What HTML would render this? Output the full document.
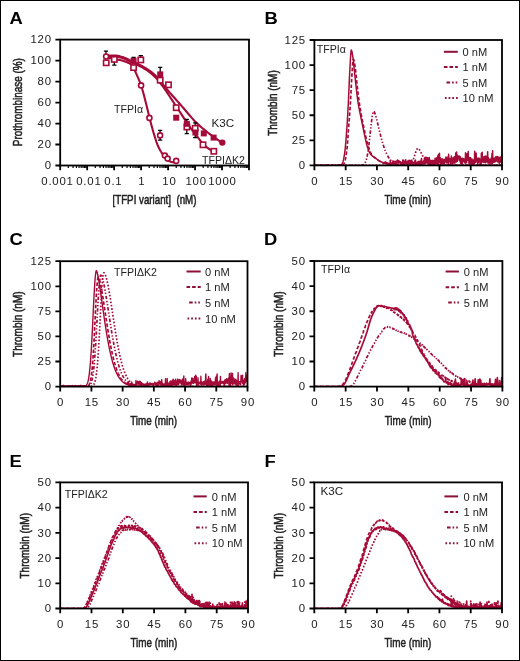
<!DOCTYPE html>
<html><head><meta charset="utf-8"><style>
html,body{margin:0;padding:0;background:#fff;}
body{width:520px;height:661px;overflow:hidden;font-family:"Liberation Sans", sans-serif;}
svg{display:block;filter:blur(0.3px);}
#bd{position:absolute;left:0;top:0;width:518px;height:659px;border:1px solid #000;}
#wr{position:relative;width:520px;height:661px;}
</style></head><body><div id="wr">
<svg width="520" height="661" viewBox="0 0 520 661" font-family='"Liberation Sans", sans-serif'>
<rect x="0" y="0" width="520" height="661" fill="#fff"/>
<text transform="translate(9.6 24.3) scale(1.07 1)" font-size="17.2" font-weight="bold" fill="#000">A</text>
<rect x="60.2" y="39.6" width="188.8" height="125.9" fill="none" stroke="#000" stroke-width="1.8"/>
<path d="M68.32 165.5V168.1M73.07 165.5V168.1M76.44 165.5V168.1M79.05 165.5V168.1M81.19 165.5V168.1M82.99 165.5V168.1M84.56 165.5V168.1M85.94 165.5V168.1M95.29 165.5V168.1M100.04 165.5V168.1M103.41 165.5V168.1M106.02 165.5V168.1M108.16 165.5V168.1M109.96 165.5V168.1M111.53 165.5V168.1M112.91 165.5V168.1M122.26 165.5V168.1M127.01 165.5V168.1M130.38 165.5V168.1M133 165.5V168.1M135.13 165.5V168.1M136.94 165.5V168.1M138.5 165.5V168.1M139.88 165.5V168.1M149.23 165.5V168.1M153.98 165.5V168.1M157.35 165.5V168.1M159.97 165.5V168.1M162.1 165.5V168.1M163.91 165.5V168.1M165.47 165.5V168.1M166.85 165.5V168.1M176.2 165.5V168.1M180.95 165.5V168.1M184.32 165.5V168.1M186.94 165.5V168.1M189.07 165.5V168.1M190.88 165.5V168.1M192.44 165.5V168.1M193.82 165.5V168.1M203.18 165.5V168.1M207.93 165.5V168.1M211.3 165.5V168.1M213.91 165.5V168.1M216.04 165.5V168.1M217.85 165.5V168.1M219.41 165.5V168.1M220.79 165.5V168.1M230.15 165.5V168.1M234.9 165.5V168.1M238.27 165.5V168.1M240.88 165.5V168.1M243.02 165.5V168.1M244.82 165.5V168.1M246.39 165.5V168.1M247.77 165.5V168.1" stroke="#000" stroke-width="1.2" fill="none"/>
<path d="M55.4 165.5H60.2M55.4 144.52H60.2M55.4 123.53H60.2M55.4 102.55H60.2M55.4 81.57H60.2M55.4 60.58H60.2M55.4 39.6H60.2" stroke="#000" stroke-width="1.8" fill="none"/>
<text transform="translate(51.78 169.2) scale(1.12 1)" text-anchor="end" font-size="10.2" letter-spacing="0.7" fill="#222">0</text>
<text transform="translate(51.78 148.22) scale(1.12 1)" text-anchor="end" font-size="10.2" letter-spacing="0.7" fill="#222">20</text>
<text transform="translate(51.78 127.23) scale(1.12 1)" text-anchor="end" font-size="10.2" letter-spacing="0.7" fill="#222">40</text>
<text transform="translate(51.78 106.25) scale(1.12 1)" text-anchor="end" font-size="10.2" letter-spacing="0.7" fill="#222">60</text>
<text transform="translate(51.78 85.27) scale(1.12 1)" text-anchor="end" font-size="10.2" letter-spacing="0.7" fill="#222">80</text>
<text transform="translate(51.78 64.28) scale(1.12 1)" text-anchor="end" font-size="10.2" letter-spacing="0.7" fill="#222">100</text>
<text transform="translate(51.78 43.3) scale(1.12 1)" text-anchor="end" font-size="10.2" letter-spacing="0.7" fill="#222">120</text>
<path d="M60.2 165.5V170.3M87.17 165.5V170.3M114.14 165.5V170.3M141.11 165.5V170.3M168.09 165.5V170.3M195.06 165.5V170.3M222.03 165.5V170.3M249 165.5V170.3" stroke="#000" stroke-width="1.8" fill="none"/>
<text transform="translate(57.49 185.1) scale(1.12 1)" text-anchor="middle" font-size="10.2" letter-spacing="0.7" fill="#222">0.001</text>
<text transform="translate(88.89 185.1) scale(1.12 1)" text-anchor="middle" font-size="10.2" letter-spacing="0.7" fill="#222">0.01</text>
<text transform="translate(113.39 185.1) scale(1.12 1)" text-anchor="middle" font-size="10.2" letter-spacing="0.7" fill="#222">0.1</text>
<text transform="translate(141.69 185.1) scale(1.12 1)" text-anchor="middle" font-size="10.2" letter-spacing="0.7" fill="#222">1</text>
<text transform="translate(169.49 185.1) scale(1.12 1)" text-anchor="middle" font-size="10.2" letter-spacing="0.7" fill="#222">10</text>
<text transform="translate(196.19 185.1) scale(1.12 1)" text-anchor="middle" font-size="10.2" letter-spacing="0.7" fill="#222">100</text>
<text transform="translate(222.39 185.1) scale(1.12 1)" text-anchor="middle" font-size="10.2" letter-spacing="0.7" fill="#222">1000</text>
<text transform="translate(250.39 185.1) scale(1.12 1)" text-anchor="middle" font-size="10.2" letter-spacing="0.7" fill="#222"></text>
<text transform="translate(22.2 102.2) rotate(-90)" text-anchor="middle" font-size="13" fill="#222" stroke="#222" stroke-width="0.55" textLength="88" lengthAdjust="spacingAndGlyphs">Prothrombinase (%)</text>
<text x="154.5" y="204.4" text-anchor="middle" font-size="13" fill="#222" stroke="#222" stroke-width="0.55" textLength="84" lengthAdjust="spacingAndGlyphs">[TFPI variant]&#160;&#160;(nM)</text>
<polyline points="105.8,55.8 107.26,55.72 108.73,55.66 110.19,55.63 111.66,55.61 113.12,55.6 114.59,55.6 116.05,55.64 117.52,55.82 118.98,56.11 120.45,56.48 121.91,56.89 123.37,57.31 124.84,57.87 126.3,58.55 127.77,59.3 129.23,60.04 130.7,60.71 132.16,61.35 133.63,61.97 135.09,62.6 136.56,63.24 138.02,63.92 139.48,64.64 140.95,65.41 142.41,66.21 143.88,67.04 145.34,67.92 146.81,68.84 148.27,69.81 149.74,70.84 151.2,71.92 152.67,73.08 154.13,74.31 155.59,75.63 157.06,77.07 158.52,78.71 159.99,80.52 161.45,82.43 162.92,84.36 164.38,86.25 165.85,88.03 167.31,89.75 168.78,91.44 170.24,93.12 171.71,94.78 173.17,96.43 174.63,98.07 176.1,99.71 177.56,101.35 179.03,103 180.49,104.65 181.96,106.33 183.42,108.04 184.89,109.78 186.35,111.52 187.82,113.26 189.28,114.99 190.74,116.68 192.21,118.33 193.67,119.93 195.14,121.45 196.6,122.89 198.07,124.27 199.53,125.61 201,126.92 202.46,128.19 203.93,129.42 205.39,130.63 206.85,131.81 208.32,132.96 209.78,134.1 211.25,135.21 212.71,136.3 214.18,137.37 215.64,138.41 217.11,139.42 218.57,140.41 220.04,141.37 221.5,142.3" fill="none" stroke="#a50b38" stroke-width="2.1" stroke-linejoin="round" stroke-linecap="round"/>
<polyline points="105.8,56.4 107.17,56.4 108.53,56.41 109.9,56.42 111.27,56.44 112.64,56.46 114,56.48 115.37,56.51 116.74,56.64 118.1,56.87 119.47,57.19 120.84,57.56 122.21,57.96 123.57,58.39 124.94,58.96 126.31,59.65 127.67,60.39 129.04,61.12 130.41,61.79 131.77,62.41 133.14,63.01 134.51,63.61 135.88,64.21 137.24,64.84 138.61,65.5 139.98,66.21 141.34,66.93 142.71,67.69 144.08,68.48 145.45,69.32 146.81,70.2 148.18,71.14 149.55,72.15 150.91,73.24 152.28,74.41 153.65,75.66 155.02,76.98 156.38,78.38 157.75,79.87 159.12,81.51 160.48,83.25 161.85,85.07 163.22,86.95 164.58,88.86 165.95,90.78 167.32,92.81 168.69,94.9 170.05,96.98 171.42,99.05 172.79,101.12 174.15,103.2 175.52,105.28 176.89,107.36 178.26,109.44 179.62,111.51 180.99,113.59 182.36,115.69 183.72,117.82 185.09,119.94 186.46,122.05 187.83,124.1 189.19,126.08 190.56,127.95 191.93,129.71 193.29,131.41 194.66,133.08 196.03,134.78 197.39,136.59 198.76,138.51 200.13,140.41 201.5,142.17 202.86,143.67 204.23,144.94 205.6,146.16 206.96,147.32 208.33,148.39 209.7,149.36 211.07,150.21 212.43,150.93 213.8,151.5" fill="none" stroke="#a50b38" stroke-width="2.1" stroke-linejoin="round" stroke-linecap="round"/>
<polyline points="105.8,57.6 106.69,57.69 107.58,57.79 108.47,57.89 109.35,58.01 110.24,58.14 111.13,58.27 112.02,58.4 112.91,58.55 113.8,58.71 114.69,58.88 115.57,59.07 116.46,59.26 117.35,59.45 118.24,59.65 119.13,59.86 120.02,60.08 120.91,60.31 121.79,60.55 122.68,60.81 123.57,61.07 124.46,61.35 125.35,61.64 126.24,61.96 127.13,62.31 128.02,62.71 128.9,63.13 129.79,63.61 130.68,64.16 131.57,64.83 132.46,65.66 133.35,66.98 134.24,68.83 135.12,70.98 136.01,73.14 136.9,75.14 137.79,77.12 138.68,79.15 139.57,81.29 140.46,83.59 141.34,86.13 142.23,89 143.12,92.16 144.01,95.52 144.9,98.99 145.79,102.46 146.68,105.99 147.56,109.67 148.45,113.38 149.34,116.97 150.23,120.45 151.12,123.92 152.01,127.3 152.9,130.54 153.78,133.55 154.67,136.43 155.56,139.24 156.45,141.91 157.34,144.36 158.23,146.51 159.12,148.33 160.01,149.99 160.89,151.54 161.78,152.96 162.67,154.26 163.56,155.44 164.45,156.5 165.34,157.47 166.23,158.4 167.11,159.29 168,160.1 168.89,160.79 169.78,161.31 170.67,161.65 171.56,161.9 172.45,162.13 173.33,162.32 174.22,162.47 175.11,162.57 176,162.6" fill="none" stroke="#a50b38" stroke-width="2.1" stroke-linejoin="round" stroke-linecap="round"/>
<path d="M106 51.2V57M103.9 51.2H108.1M103.9 57H108.1" stroke="#000" stroke-width="1.3" fill="none"/>
<path d="M114.3 59V65.2M112.2 59H116.4M112.2 65.2H116.4" stroke="#000" stroke-width="1.3" fill="none"/>
<path d="M133.6 57.3V62M131.5 57.3H135.7M131.5 62H135.7" stroke="#000" stroke-width="1.3" fill="none"/>
<path d="M140.8 55.6V60M138.7 55.6H142.9M138.7 60H142.9" stroke="#000" stroke-width="1.3" fill="none"/>
<path d="M160.2 67.3V75M158.1 67.3H162.3M158.1 75H162.3" stroke="#000" stroke-width="1.3" fill="none"/>
<path d="M160.1 130.3V140.2M158 130.3H162.2M158 140.2H162.2" stroke="#000" stroke-width="1.3" fill="none"/>
<path d="M186.8 119.4V133.6M184.7 119.4H188.9M184.7 133.6H188.9" stroke="#000" stroke-width="1.3" fill="none"/>
<path d="M195.2 122.9V137.7M193.1 122.9H197.3M193.1 137.7H197.3" stroke="#000" stroke-width="1.3" fill="none"/>
<path d="M141.3 83.6V87.2M139.2 83.6H143.4M139.2 87.2H143.4" stroke="#000" stroke-width="1.3" fill="none"/>
<rect x="103.55" y="60.15" width="5.3" height="5.3" fill="#fff" stroke="#a50b38" stroke-width="1.6"/>
<rect x="111.65" y="56.75" width="5.3" height="5.3" fill="#fff" stroke="#a50b38" stroke-width="1.6"/>
<rect x="130.95" y="64.95" width="5.3" height="5.3" fill="#fff" stroke="#a50b38" stroke-width="1.6"/>
<rect x="138.15" y="57.25" width="5.3" height="5.3" fill="#fff" stroke="#a50b38" stroke-width="1.6"/>
<rect x="157.55" y="77.55" width="5.3" height="5.3" fill="#fff" stroke="#a50b38" stroke-width="1.6"/>
<rect x="165.85" y="82.15" width="5.3" height="5.3" fill="#fff" stroke="#a50b38" stroke-width="1.6"/>
<rect x="173.55" y="105.05" width="5.3" height="5.3" fill="#fff" stroke="#a50b38" stroke-width="1.6"/>
<rect x="184.25" y="124.35" width="5.3" height="5.3" fill="#fff" stroke="#a50b38" stroke-width="1.6"/>
<rect x="192.55" y="125.65" width="5.3" height="5.3" fill="#fff" stroke="#a50b38" stroke-width="1.6"/>
<rect x="200.35" y="142.15" width="5.3" height="5.3" fill="#fff" stroke="#a50b38" stroke-width="1.6"/>
<rect x="211.15" y="148.65" width="5.3" height="5.3" fill="#fff" stroke="#a50b38" stroke-width="1.6"/>
<rect x="130.6" y="57.8" width="6" height="6" fill="#a50b38"/>
<rect x="157.2" y="71.4" width="6" height="6" fill="#a50b38"/>
<rect x="173.2" y="114.7" width="6" height="6" fill="#a50b38"/>
<rect x="183.8" y="120.8" width="6" height="6" fill="#a50b38"/>
<rect x="192.4" y="129.5" width="6" height="6" fill="#a50b38"/>
<rect x="200.8" y="130.4" width="6" height="6" fill="#a50b38"/>
<rect x="210.6" y="134.6" width="6" height="6" fill="#a50b38"/>
<circle cx="222.3" cy="142.6" r="3.2" fill="#a50b38"/>
<circle cx="106.1" cy="56.5" r="2.5" fill="#fff" stroke="#a50b38" stroke-width="1.6"/>
<circle cx="141.1" cy="85.4" r="2.5" fill="#fff" stroke="#a50b38" stroke-width="1.6"/>
<circle cx="149.4" cy="117.9" r="2.5" fill="#fff" stroke="#a50b38" stroke-width="1.6"/>
<circle cx="160.1" cy="135.4" r="2.5" fill="#fff" stroke="#a50b38" stroke-width="1.6"/>
<circle cx="164.9" cy="155.6" r="2.5" fill="#fff" stroke="#a50b38" stroke-width="1.6"/>
<circle cx="167.6" cy="158.6" r="2.5" fill="#fff" stroke="#a50b38" stroke-width="1.6"/>
<circle cx="176.2" cy="160.9" r="2.5" fill="#fff" stroke="#a50b38" stroke-width="1.6"/>
<text x="114" y="112.7" font-size="10.6" fill="#222">TFPI&#945;</text>
<text transform="translate(211.6 126.6) scale(1.1 1)" font-size="10.6" fill="#222">K3C</text>
<text x="202" y="164" font-size="10.6" fill="#222">TFPI&#916;K2</text>
<defs>
<clipPath id="cB"><rect x="314.4" y="40" width="187.6" height="125.4"/></clipPath>
<clipPath id="cC"><rect x="60.2" y="261.2" width="187.3" height="125.4"/></clipPath>
<clipPath id="cD"><rect x="314.3" y="261" width="188.1" height="125.6"/></clipPath>
<clipPath id="cE"><rect x="60.2" y="482.4" width="187.8" height="126.1"/></clipPath>
<clipPath id="cF"><rect x="314.3" y="482.4" width="187.7" height="126.1"/></clipPath>
</defs>
<g clip-path="url(#cB)">
<polyline points="314.4,165.4 314.61,165.4 314.82,165.4 315.03,165.4 315.23,165.4 315.44,165.4 315.65,165.4 315.86,165.4 316.07,165.4 316.28,165.4 316.48,165.4 316.69,165.4 316.9,165.4 317.11,165.4 317.32,165.4 317.53,165.4 317.74,165.4 317.94,165.4 318.15,165.4 318.36,165.4 318.57,165.4 318.78,165.4 318.99,165.4 319.19,165.4 319.4,165.4 319.61,165.4 319.82,165.4 320.03,165.4 320.24,165.4 320.44,165.4 320.65,165.4 320.86,165.4 321.07,165.4 321.28,165.4 321.49,165.4 321.7,165.4 321.9,165.4 322.11,165.4 322.32,165.4 322.53,165.4 322.74,165.4 322.95,165.4 323.15,165.4 323.36,165.4 323.57,165.4 323.78,165.4 323.99,165.4 324.2,165.4 324.41,165.4 324.61,165.4 324.82,165.4 325.03,165.4 325.24,165.4 325.45,165.4 325.66,165.4 325.86,165.4 326.07,165.4 326.28,165.4 326.49,165.4 326.7,165.4 326.91,165.4 327.12,165.4 327.32,165.4 327.53,165.4 327.74,165.4 327.95,165.4 328.16,165.4 328.37,165.4 328.57,165.4 328.78,165.4 328.99,165.4 329.2,165.4 329.41,165.4 329.62,165.4 329.82,165.4 330.03,165.4 330.24,165.4 330.45,165.4 330.66,165.4 330.87,165.4 331.08,165.4 331.28,165.4 331.49,165.4 331.7,165.4 331.91,165.4 332.12,165.4 332.33,165.4 332.53,165.4 332.74,165.4 332.95,165.4 333.16,165.4 333.37,165.4 333.58,165.4 333.79,165.4 333.99,165.4 334.2,165.4 334.41,165.4 334.62,165.4 334.83,165.4 335.04,165.4 335.24,165.4 335.45,165.4 335.66,165.4 335.87,165.4 336.08,165.4 336.29,165.4 336.5,165.4 336.7,165.4 336.91,165.4 337.12,165.4 337.33,165.4 337.54,165.4 337.75,165.4 337.95,165.4 338.16,165.4 338.37,165.4 338.58,165.39 338.79,165.38 339,165.35 339.2,165.32 339.41,165.28 339.62,165.22 339.83,165.16 340.04,165.09 340.25,165.02 340.46,164.93 340.66,164.84 340.87,164.74 341.08,164.63 341.29,164.52 341.5,164.4 341.71,164.23 341.91,163.98 342.12,163.67 342.33,163.29 342.54,162.86 342.75,162.39 342.96,161.83 343.17,161.14 343.37,160.33 343.58,159.4 343.79,158.36 344,157.23 344.21,156.01 344.42,154.72 344.62,153.36 344.83,151.84 345.04,150.08 345.25,148.1 345.46,145.93 345.67,143.6 345.88,141.12 346.08,138.52 346.29,135.84 346.5,133.08 346.71,130.29 346.92,127.37 347.13,124.24 347.33,120.92 347.54,117.43 347.75,113.79 347.96,110.02 348.17,106.15 348.38,102.2 348.58,97.92 348.79,93.2 349,88.25 349.21,83.26 349.42,78.43 349.63,73.98 349.84,70.1 350.04,66.39 350.25,62.52 350.46,58.74 350.67,55.34 350.88,52.57 351.09,50.71 351.29,50.03 351.5,50.25 351.71,50.84 351.92,51.71 352.13,52.77 352.34,53.91 352.55,55.05 352.75,56.27 352.96,57.72 353.17,59.35 353.38,61.13 353.59,63.04 353.8,65.04 354,67.09 354.21,69.18 354.42,71.25 354.63,73.29 354.84,75.25 355.05,77.12 355.26,78.94 355.46,80.8 355.67,82.68 355.88,84.58 356.09,86.48 356.3,88.37 356.51,90.23 356.71,92.07 356.92,93.87 357.13,95.6 357.34,97.28 357.55,98.88 357.76,100.39 357.96,101.8 358.17,103.12 358.38,104.39 358.59,105.6 358.8,106.77 359.01,107.9 359.22,108.99 359.42,110.06 359.63,111.1 359.84,112.13 360.05,113.15 360.26,114.16 360.47,115.18 360.67,116.21 360.88,117.25 361.09,118.29 361.3,119.33 361.51,120.37 361.72,121.39 361.93,122.41 362.13,123.43 362.34,124.43 362.55,125.43 362.76,126.42 362.97,127.4 363.18,128.37 363.38,129.33 363.59,130.29 363.8,131.25 364.01,132.22 364.22,133.21 364.43,134.2 364.64,135.2 364.84,136.2 365.05,137.19 365.26,138.18 365.47,139.15 365.68,140.11 365.89,141.04 366.09,141.95 366.3,142.84 366.51,143.69 366.72,144.51 366.93,145.29 367.14,146.02 367.34,146.71 367.55,147.34 367.76,147.95 367.97,148.54 368.18,149.12 368.39,149.68 368.6,150.23 368.8,150.76 369.01,151.27 369.22,151.76 369.43,152.22 369.64,152.66 369.85,153.07 370.05,153.44 370.26,153.79 370.47,154.09 370.68,154.36 370.89,154.61 371.1,154.84 371.31,155.07 371.51,155.28 371.72,155.48 371.93,155.67 372.14,155.85 372.35,156.03 372.56,156.2 372.76,156.36 372.97,156.51 373.18,156.66 373.39,156.81 373.6,156.95 373.81,157.08 374.02,157.22 374.22,157.35 374.43,157.49 374.64,157.62 374.85,157.75 375.06,157.88 375.27,158.01 375.47,158.15 375.68,158.29 375.89,158.43 376.1,158.58 376.31,158.73 376.52,158.88 376.72,159.03 376.93,159.19 377.14,159.34 377.35,159.5 377.56,159.65 377.77,159.8 377.98,159.96 378.18,160.11 378.39,160.26 378.6,160.41 378.81,160.55 379.02,160.69 379.23,160.83 379.43,160.97 379.64,161.1 379.85,161.23 380.06,161.35 380.27,161.47 380.48,161.59 380.69,161.69 380.89,161.79 381.1,161.89 381.31,161.98 381.52,162.07 381.73,162.15 381.94,162.24 382.14,162.32 382.35,162.41 382.56,162.49 382.77,162.56 382.98,162.64 383.19,162.72 383.4,162.79 383.6,162.86 383.81,162.93 384.02,163 384.23,162.64 384.44,162.89 384.65,162.93 384.85,162.45 385.06,162.31 385.27,162.06 385.48,161.9 385.69,163.25 385.9,162.78 386.1,162.43 386.31,162.89 386.52,163.71 386.73,162.6 386.94,163.42 387.15,163.85 387.36,163.76 387.56,162.96 387.77,163.19 387.98,163.83 388.19,164.07 388.4,164.11 388.61,163.31 388.81,164.19 389.02,163.63 389.23,163.78 389.44,164.31 389.65,164.35 389.86,164.07 390.07,163.68 390.27,160.31 390.48,163.25 390.69,164.34 390.9,164.52 391.11,163.79 391.32,163.58 391.52,163.31 391.73,164.67 391.94,163.16 392.15,162.53 392.36,162.43 392.57,162.27 392.78,162.21 392.98,160.84 393.19,164.82 393.4,161.9 393.61,163.66 393.82,163.44 394.03,161.67 394.23,161.47 394.44,161.44 394.65,163.15 394.86,163.03 395.07,161.29 395.28,161.45 395.48,164.02 395.69,163.4 395.9,162.81 396.11,163.49 396.32,161.96 396.53,163.39 396.74,161.8 396.94,160.49 397.15,160.69 397.36,159.92 397.57,161.72 397.78,161.5 397.99,161.29 398.19,162.45 398.4,163.17 398.61,162.77 398.82,160.52 399.03,161.05 399.24,161.67 399.45,162.75 399.65,161.85 399.86,162.52 400.07,162.58 400.28,163.2 400.49,162.87 400.7,161.67 400.9,162.26 401.11,162.28 401.32,164.44 401.53,163.25 401.74,163.7 401.95,164.71 402.16,163.67 402.36,164.76 402.57,164.1 402.78,159.94 402.99,162.83 403.2,162.77 403.41,164.68 403.61,164.26 403.82,160.14 404.03,164.55 404.24,164.51 404.45,161.94 404.66,162.05 404.86,164 405.07,163.79 405.28,161.77 405.49,162.72 405.7,159.63 405.91,162.97 406.12,163.62 406.32,162.56 406.53,162.12 406.74,162.7 406.95,161.79 407.16,164.29 407.37,162.33 407.57,161.23 407.78,164.05 407.99,162.59 408.2,160.53 408.41,161.43 408.62,161.09 408.83,162.52 409.03,162.52 409.24,160.33 409.45,165.02 409.66,161.17 409.87,164.04 410.08,161.26 410.28,162.34 410.49,160.5 410.7,164.77 410.91,163.27 411.12,163.19 411.33,161.56 411.54,161.79 411.74,160.01 411.95,162.03 412.16,162.31 412.37,163.61 412.58,164.54 412.79,163.16 412.99,163.92 413.2,165.23 413.41,162.72 413.62,162.85 413.83,163.69 414.04,163.62 414.24,163.62 414.45,163.35 414.66,160.95 414.87,163.73 415.08,164.42 415.29,164.34 415.5,159.9 415.7,164.31 415.91,165.07 416.12,163.85 416.33,162.96 416.54,164.02 416.75,162.58 416.95,162.83 417.16,162.87 417.37,162.27 417.58,164.68 417.79,164.14 418,161.96 418.21,161.49 418.41,164.57 418.62,162.03 418.83,161.44 419.04,164.18 419.25,164.3 419.46,163.39 419.66,162.98 419.87,161.3 420.08,162.72 420.29,164.12 420.5,163.32 420.71,165.18 420.92,164.85 421.12,159.75 421.33,162.16 421.54,158.57 421.75,162.61 421.96,164.1 422.17,161.4 422.37,162.43 422.58,163.63 422.79,161.87 423,163.3 423.21,162.83 423.42,163.86 423.62,160.74 423.83,162.88 424.04,160.12 424.25,162.24 424.46,163.62 424.67,160.98 424.88,157.5 425.08,160.3 425.29,163.76 425.5,160.57 425.71,157.15 425.92,162.64 426.13,161.87 426.33,161.12 426.54,162.93 426.75,157.63 426.96,157.48 427.17,160.11 427.38,161.8 427.59,161.48 427.79,163.23 428,157.92 428.21,160.6 428.42,159.74 428.63,163.53 428.84,159.56 429.04,164.25 429.25,157.62 429.46,160.38 429.67,163.05 429.88,161.71 430.09,161.54 430.3,160.24 430.5,163.47 430.71,164.95 430.92,161.61 431.13,162.35 431.34,162.7 431.55,160.6 431.75,160.96 431.96,164.15 432.17,161.57 432.38,160.63 432.59,160.28 432.8,165.37 433,160.71 433.21,164.6 433.42,161.23 433.63,161.59 433.84,160.41 434.05,161.53 434.26,164.38 434.46,161.47 434.67,163.22 434.88,161.03 435.09,158.22 435.3,162.97 435.51,161.52 435.71,163.75 435.92,161.43 436.13,161.13 436.34,160.89 436.55,157.7 436.76,162.04 436.97,163.58 437.17,162.73 437.38,161.92 437.59,164.31 437.8,155.69 438.01,164.15 438.22,164.19 438.42,154.54 438.63,159.25 438.84,162.26 439.05,161.57 439.26,158.76 439.47,153.23 439.68,161.99 439.88,157.56 440.09,158.59 440.3,165.31 440.51,158.04 440.72,160.18 440.93,162.77 441.13,159.05 441.34,163.86 441.55,161.2 441.76,160.29 441.97,162.33 442.18,158.85 442.38,159.76 442.59,163.07 442.8,163.16 443.01,164.1 443.22,160.51 443.43,162.91 443.64,160.72 443.84,159.37 444.05,159.07 444.26,163.51 444.47,161.83 444.68,161.28 444.89,161.46 445.09,161.22 445.3,160.95 445.51,159.36 445.72,161.87 445.93,156.88 446.14,161.27 446.35,163.05 446.55,159.82 446.76,161.13 446.97,158.34 447.18,158.75 447.39,157.13 447.6,162.16 447.8,158.83 448.01,160.05 448.22,164.92 448.43,159.72 448.64,154.34 448.85,158.99 449.06,159.21 449.26,158.41 449.47,159.52 449.68,158.53 449.89,162.01 450.1,161.65 450.31,164.09 450.51,158.89 450.72,163.1 450.93,160.5 451.14,160.75 451.35,156.02 451.56,161.5 451.76,163.27 451.97,161.58 452.18,164.27 452.39,161.9 452.6,159.82 452.81,164.04 453.02,157.7 453.22,159.94 453.43,161.46 453.64,157.95 453.85,162.82 454.06,161 454.27,156.86 454.47,161.55 454.68,157.72 454.89,163.31 455.1,158.8 455.31,157.75 455.52,161.48 455.73,153.05 455.93,158.13 456.14,157.68 456.35,161.96 456.56,151.99 456.77,154.88 456.98,160.08 457.18,154.89 457.39,161.4 457.6,158.85 457.81,158.39 458.02,157.79 458.23,156.91 458.44,156.39 458.64,157.08 458.85,156.36 459.06,155.86 459.27,160.17 459.48,156.28 459.69,158.52 459.89,156.39 460.1,161.86 460.31,156.79 460.52,157.82 460.73,163.41 460.94,158.43 461.14,163.95 461.35,160.14 461.56,158.93 461.77,158.55 461.98,162.53 462.19,164.08 462.4,159.41 462.6,158.16 462.81,158.44 463.02,161.18 463.23,159.92 463.44,159.3 463.65,158.71 463.85,160.78 464.06,159.03 464.27,162.02 464.48,162.77 464.69,162.21 464.9,159.81 465.11,159.02 465.31,160.96 465.52,152.71 465.73,163.2 465.94,160.55 466.15,160.91 466.36,160.87 466.56,162.61 466.77,159.59 466.98,153.83 467.19,159.35 467.4,158.68 467.61,160.3 467.82,157.9 468.02,154.76 468.23,151.55 468.44,160.38 468.65,158.39 468.86,162.17 469.07,163.5 469.27,157.41 469.48,160.87 469.69,164.13 469.9,159.42 470.11,157.86 470.32,158.78 470.52,157.83 470.73,158.19 470.94,160.79 471.15,162.36 471.36,164.01 471.57,162.18 471.78,160.14 471.98,158.97 472.19,165.25 472.4,159.58 472.61,159.91 472.82,160.33 473.03,163.54 473.23,164.28 473.44,159.94 473.65,160.32 473.86,161.71 474.07,161.82 474.28,164.52 474.49,158.5 474.69,151.14 474.9,158.43 475.11,159.06 475.32,160.87 475.53,158.8 475.74,162.61 475.94,159.53 476.15,153.04 476.36,161.06 476.57,158.33 476.78,160.76 476.99,158.08 477.2,159.67 477.4,161.68 477.61,161.96 477.82,165.15 478.03,159.94 478.24,158.56 478.45,162.31 478.65,160.56 478.86,157.99 479.07,161.15 479.28,158.27 479.49,158.83 479.7,160.6 479.9,159.85 480.11,163.99 480.32,160.55 480.53,159.31 480.74,162.44 480.95,164.2 481.16,164.55 481.36,153.34 481.57,162.31 481.78,158.86 481.99,160.65 482.2,152.17 482.41,161.5 482.61,161.54 482.82,159.73 483.03,158.51 483.24,162.41 483.45,160.26 483.66,158.79 483.87,156.87 484.07,161.36 484.28,160.26 484.49,158.89 484.7,162.53 484.91,158.41 485.12,156.03 485.32,160.97 485.53,159.26 485.74,162.79 485.95,159.13 486.16,156.37 486.37,159.12 486.58,161.86 486.78,161.02 486.99,156.69 487.2,157.56 487.41,160.12 487.62,151.63 487.83,158.13 488.03,163.29 488.24,157.62 488.45,160.41 488.66,161.39 488.87,158.81 489.08,162.07 489.28,163.05 489.49,162.16 489.7,159.61 489.91,163.54 490.12,160.79 490.33,162.26 490.54,160.18 490.74,163.1 490.95,158.89 491.16,158.13 491.37,161.53 491.58,161.26 491.79,159.71 491.99,153.4 492.2,163.98 492.41,159.19 492.62,150.67 492.83,158.49 493.04,160.53 493.25,158.26 493.45,159.78 493.66,162.44 493.87,161.52 494.08,159.31 494.29,159.48 494.5,157.9 494.7,158.31 494.91,161.92 495.12,160.28 495.33,157.64 495.54,159.68 495.75,161.62 495.96,156.4 496.16,159.54 496.37,160.66 496.58,158.91 496.79,160.63 497,160.87 497.21,157.56 497.41,156.55 497.62,159.39 497.83,161.93 498.04,158.83 498.25,159.54 498.46,159.32 498.66,161.21 498.87,157.07 499.08,161.71 499.29,164.05 499.5,157.84 499.71,157.67 499.92,161.54 500.12,162.26 500.33,159.01 500.54,157.1 500.75,161.62 500.96,159.55 501.17,161.64 501.37,158.53 501.58,160.28 501.79,155.03 502,159.32" fill="none" stroke="#a50b38" stroke-width="1.5" stroke-linejoin="round"/>
<polyline points="314.4,165.4 314.71,165.4 315.03,165.4 315.34,165.4 315.65,165.4 315.96,165.4 316.28,165.4 316.59,165.4 316.9,165.4 317.21,165.4 317.53,165.4 317.84,165.4 318.15,165.4 318.46,165.4 318.78,165.4 319.09,165.4 319.4,165.4 319.72,165.4 320.03,165.4 320.34,165.4 320.65,165.4 320.97,165.4 321.28,165.4 321.59,165.4 321.9,165.4 322.22,165.4 322.53,165.4 322.84,165.4 323.15,165.4 323.47,165.4 323.78,165.4 324.09,165.4 324.41,165.4 324.72,165.4 325.03,165.4 325.34,165.4 325.66,165.4 325.97,165.4 326.28,165.4 326.59,165.4 326.91,165.4 327.22,165.4 327.53,165.4 327.84,165.4 328.16,165.4 328.47,165.4 328.78,165.4 329.1,165.4 329.41,165.4 329.72,165.4 330.03,165.4 330.35,165.4 330.66,165.4 330.97,165.4 331.28,165.4 331.6,165.4 331.91,165.4 332.22,165.4 332.53,165.4 332.85,165.4 333.16,165.4 333.47,165.4 333.79,165.4 334.1,165.4 334.41,165.4 334.72,165.4 335.04,165.4 335.35,165.4 335.66,165.4 335.97,165.4 336.29,165.4 336.6,165.4 336.91,165.4 337.22,165.4 337.54,165.4 337.85,165.4 338.16,165.4 338.48,165.4 338.79,165.4 339.1,165.4 339.41,165.4 339.73,165.4 340.04,165.4 340.35,165.4 340.66,165.4 340.98,165.37 341.29,165.33 341.6,165.26 341.91,165.18 342.23,165.07 342.54,164.95 342.85,164.8 343.17,164.64 343.48,164.46 343.79,164.19 344.1,163.66 344.42,162.94 344.73,162.09 345.04,161.02 345.35,159.69 345.67,158.11 345.98,156.31 346.29,154.31 346.6,152.12 346.92,149.62 347.23,146.39 347.54,142.58 347.86,138.37 348.17,133.96 348.48,129.53 348.79,125.27 349.11,121.18 349.42,117.09 349.73,112.89 350.04,108.5 350.36,103.83 350.67,98.61 350.98,92.53 351.29,86.16 351.61,80.14 351.92,75.11 352.23,70.55 352.55,65.97 352.86,62.09 353.17,59.6 353.48,59.11 353.8,59.79 354.11,61.07 354.42,62.72 354.73,64.5 355.05,66.34 355.36,68.64 355.67,71.32 355.98,74.25 356.3,77.31 356.61,80.38 356.92,83.31 357.24,86.03 357.55,88.73 357.86,91.44 358.17,94.13 358.49,96.73 358.8,99.2 359.11,101.49 359.42,103.58 359.74,105.59 360.05,107.55 360.36,109.44 360.67,111.28 360.99,113.06 361.3,114.8 361.61,116.49 361.93,118.14 362.24,119.75 362.55,121.33 362.86,122.87 363.18,124.39 363.49,125.89 363.8,127.37 364.11,128.84 364.43,130.29 364.74,131.74 365.05,133.19 365.36,134.63 365.68,136.06 365.99,137.46 366.3,138.84 366.62,140.18 366.93,141.47 367.24,142.72 367.55,143.91 367.87,145.03 368.18,146.07 368.49,147.04 368.8,147.93 369.12,148.8 369.43,149.63 369.74,150.43 370.05,151.18 370.37,151.9 370.68,152.56 370.99,153.17 371.31,153.72 371.62,154.22 371.93,154.65 372.24,155.06 372.56,155.45 372.87,155.82 373.18,156.17 373.49,156.5 373.81,156.82 374.12,157.12 374.43,157.41 374.74,157.69 375.06,157.95 375.37,158.21 375.68,158.45 376,158.69 376.31,158.93 376.62,159.16 376.93,159.38 377.25,159.6 377.56,159.82 377.87,160.04 378.18,160.25 378.5,160.46 378.81,160.66 379.12,160.86 379.43,161.05 379.75,161.24 380.06,161.43 380.37,161.6 380.69,161.78 381,161.94 381.31,162.1 381.62,162.25 381.94,162.4 382.25,162.53 382.56,162.66 382.87,162.78 383.19,162.89 383.5,163 383.81,163.1 384.12,163.21 384.44,163.31 384.75,163.41 385.06,163.51 385.38,163.61 385.69,163.7 386,163.8 386.31,163.89 386.63,163.97 386.94,164.06 387.25,164.14 387.56,164.22 387.88,164.3 388.19,164.37 388.5,164.44 388.81,164.5 389.13,164.56 389.44,164.62 389.75,164.68 390.07,164.73 390.38,164.77 390.69,164.81 391,164.85 391.32,164.88 391.63,164.91 391.94,164.93 392.25,164.96 392.57,164.98 392.88,165.01 393.19,165.03 393.5,165.05 393.82,165.08 394.13,165.1 394.44,165.12 394.76,165.14 395.07,165.16 395.38,165.18 395.69,165.2 396.01,165.22 396.32,165.23 396.63,165.25 396.94,165.27 397.26,165.28 397.57,165.3 397.88,165.31 398.19,165.32 398.51,165.33 398.82,165.35 399.13,165.36 399.45,165.36 399.76,165.37 400.07,165.38 400.38,165.39 400.7,165.39 401.01,165.39 401.32,165.4 401.63,165.4 401.95,165.4 402.26,165.4 402.57,165.4 402.88,165.4 403.2,165.4 403.51,165.4 403.82,165.4 404.14,165.4 404.45,165.4 404.76,165.4 405.07,165.4 405.39,165.4 405.7,165.4 406.01,165.4 406.32,165.4 406.64,165.4 406.95,165.4 407.26,165.4 407.57,165.4 407.89,165.4 408.2,165.4 408.51,165.4 408.83,165.4 409.14,165.4 409.45,165.4 409.76,165.4 410.08,165.4 410.39,165.4 410.7,165.4 411.01,165.4 411.33,165.4 411.64,165.4 411.95,165.4 412.26,165.4 412.58,165.4 412.89,165.4 413.2,165.4 413.52,165.4 413.83,165.4 414.14,165.4 414.45,165.4 414.77,165.4 415.08,165.4 415.39,165.4 415.7,165.4 416.02,165.4 416.33,165.4 416.64,165.4 416.95,165.4 417.27,165.4 417.58,165.4 417.89,165.4 418.21,165.4 418.52,165.4 418.83,165.4 419.14,165.4 419.46,165.4 419.77,165.4 420.08,165.4 420.39,165.4 420.71,165.4 421.02,165.4 421.33,165.4 421.64,165.4 421.96,165.4 422.27,165.4 422.58,165.4 422.9,165.4 423.21,165.4 423.52,165.4 423.83,165.4 424.15,165.4 424.46,165.4 424.77,165.4 425.08,165.4 425.4,165.4 425.71,165.4 426.02,165.4 426.33,165.4 426.65,165.4 426.96,165.4 427.27,165.4 427.59,165.4 427.9,165.4 428.21,165.4 428.52,165.4 428.84,165.4 429.15,165.4 429.46,165.4 429.77,165.4 430.09,165.4 430.4,165.4 430.71,165.4 431.02,165.4 431.34,165.4 431.65,165.4 431.96,165.4 432.28,165.4 432.59,165.4 432.9,165.4 433.21,165.4 433.53,165.4 433.84,165.4 434.15,165.4 434.46,165.4 434.78,165.4 435.09,165.4 435.4,165.4 435.71,165.4 436.03,165.4 436.34,165.4 436.65,165.4 436.97,165.4 437.28,165.4 437.59,165.4 437.9,165.4 438.22,165.4 438.53,165.4 438.84,165.4 439.15,165.4 439.47,165.4 439.78,165.4 440.09,165.4 440.4,165.4 440.72,165.4 441.03,165.4 441.34,165.4 441.66,165.4 441.97,165.4 442.28,165.4 442.59,165.4 442.91,165.4 443.22,165.4 443.53,165.4 443.84,165.4 444.16,165.4 444.47,165.4 444.78,165.4 445.09,165.4 445.41,165.4 445.72,165.4 446.03,165.4 446.35,165.4 446.66,165.4 446.97,165.4 447.28,165.4 447.6,165.4 447.91,165.4 448.22,165.4 448.53,165.4 448.85,165.4 449.16,165.4 449.47,165.4 449.78,165.4 450.1,165.4 450.41,165.4 450.72,165.4 451.04,165.4 451.35,165.4 451.66,165.4 451.97,165.4 452.29,165.4 452.6,165.4 452.91,165.4 453.22,165.4 453.54,165.4 453.85,165.4 454.16,165.4 454.47,165.4 454.79,165.4 455.1,165.4 455.41,165.4 455.73,165.4 456.04,165.4 456.35,165.4 456.66,165.4 456.98,165.4 457.29,165.4 457.6,165.4 457.91,165.4 458.23,165.4 458.54,165.4 458.85,165.4 459.16,165.4 459.48,165.4 459.79,165.4 460.1,165.4 460.42,165.4 460.73,165.4 461.04,165.4 461.35,165.4 461.67,165.4 461.98,165.4 462.29,165.4 462.6,165.4 462.92,165.4 463.23,165.4 463.54,165.4 463.85,165.4 464.17,165.4 464.48,165.4 464.79,165.4 465.11,165.4 465.42,165.4 465.73,165.4 466.04,165.4 466.36,165.4 466.67,165.4 466.98,165.4 467.29,165.4 467.61,165.4 467.92,165.4 468.23,165.4 468.54,165.4 468.86,165.4 469.17,165.4 469.48,165.4 469.8,165.4 470.11,165.4 470.42,165.4 470.73,165.4 471.05,165.4 471.36,165.4 471.67,165.4 471.98,165.4 472.3,165.4 472.61,165.4 472.92,165.4 473.23,165.4 473.55,165.4 473.86,165.4 474.17,165.4 474.49,165.4 474.8,165.4 475.11,165.4 475.42,165.4 475.74,165.4 476.05,165.4 476.36,165.4 476.67,165.4 476.99,165.4 477.3,165.4 477.61,165.4 477.92,165.4 478.24,165.4 478.55,165.4 478.86,165.4 479.18,165.4 479.49,165.4 479.8,165.4 480.11,165.4 480.43,165.4 480.74,165.4 481.05,165.4 481.36,165.4 481.68,165.4 481.99,165.4 482.3,165.4 482.61,165.4 482.93,165.4 483.24,165.4 483.55,165.4 483.87,165.4 484.18,165.4 484.49,165.4 484.8,165.4 485.12,165.4 485.43,165.4 485.74,165.4 486.05,165.4 486.37,165.4 486.68,165.4 486.99,165.4 487.3,165.4 487.62,165.4 487.93,165.4 488.24,165.4 488.56,165.4 488.87,165.4 489.18,165.4 489.49,165.4 489.81,165.4 490.12,165.4 490.43,165.4 490.74,165.4 491.06,165.4 491.37,165.4 491.68,165.4 491.99,165.4 492.31,165.4 492.62,165.4 492.93,165.4 493.25,165.4 493.56,165.4 493.87,165.4 494.18,165.4 494.5,165.4 494.81,165.4 495.12,165.4 495.43,165.4 495.75,165.4 496.06,165.4 496.37,165.4 496.68,165.4 497,165.4 497.31,165.4 497.62,165.4 497.94,165.4 498.25,165.4 498.56,165.4 498.87,165.4 499.19,165.4 499.5,165.4 499.81,165.4 500.12,165.4 500.44,165.4 500.75,165.4 501.06,165.4 501.37,165.4 501.69,165.4 502,165.4" fill="none" stroke="#a50b38" stroke-width="1.7" stroke-linejoin="round" stroke-dasharray="3.6 2"/>
<polyline points="314.4,165.4 314.71,165.4 315.03,165.4 315.34,165.4 315.65,165.4 315.96,165.4 316.28,165.4 316.59,165.4 316.9,165.4 317.21,165.4 317.53,165.4 317.84,165.4 318.15,165.4 318.46,165.4 318.78,165.4 319.09,165.4 319.4,165.4 319.72,165.4 320.03,165.4 320.34,165.4 320.65,165.4 320.97,165.4 321.28,165.4 321.59,165.4 321.9,165.4 322.22,165.4 322.53,165.4 322.84,165.4 323.15,165.4 323.47,165.4 323.78,165.4 324.09,165.4 324.41,165.4 324.72,165.4 325.03,165.4 325.34,165.4 325.66,165.4 325.97,165.4 326.28,165.4 326.59,165.4 326.91,165.4 327.22,165.4 327.53,165.4 327.84,165.4 328.16,165.4 328.47,165.4 328.78,165.4 329.1,165.4 329.41,165.4 329.72,165.4 330.03,165.4 330.35,165.4 330.66,165.4 330.97,165.4 331.28,165.4 331.6,165.4 331.91,165.4 332.22,165.4 332.53,165.4 332.85,165.4 333.16,165.4 333.47,165.4 333.79,165.4 334.1,165.4 334.41,165.4 334.72,165.4 335.04,165.4 335.35,165.4 335.66,165.4 335.97,165.4 336.29,165.4 336.6,165.4 336.91,165.4 337.22,165.4 337.54,165.4 337.85,165.4 338.16,165.4 338.48,165.4 338.79,165.4 339.1,165.4 339.41,165.4 339.73,165.4 340.04,165.4 340.35,165.4 340.66,165.4 340.98,165.4 341.29,165.4 341.6,165.4 341.91,165.4 342.23,165.4 342.54,165.4 342.85,165.4 343.17,165.4 343.48,165.4 343.79,165.4 344.1,165.4 344.42,165.4 344.73,165.4 345.04,165.4 345.35,165.4 345.67,165.4 345.98,165.4 346.29,165.4 346.6,165.4 346.92,165.4 347.23,165.4 347.54,165.4 347.86,165.4 348.17,165.4 348.48,165.4 348.79,165.4 349.11,165.4 349.42,165.4 349.73,165.4 350.04,165.4 350.36,165.4 350.67,165.4 350.98,165.4 351.29,165.4 351.61,165.4 351.92,165.4 352.23,165.4 352.55,165.4 352.86,165.4 353.17,165.4 353.48,165.4 353.8,165.4 354.11,165.4 354.42,165.4 354.73,165.4 355.05,165.4 355.36,165.4 355.67,165.4 355.98,165.4 356.3,165.4 356.61,165.4 356.92,165.4 357.24,165.4 357.55,165.4 357.86,165.4 358.17,165.4 358.49,165.4 358.8,165.39 359.11,165.39 359.42,165.39 359.74,165.38 360.05,165.37 360.36,165.36 360.67,165.34 360.99,165.32 361.3,165.3 361.61,165.26 361.93,165.21 362.24,165.14 362.55,165.06 362.86,164.95 363.18,164.81 363.49,164.63 363.8,164.41 364.11,164.13 364.43,163.79 364.74,163.37 365.05,162.87 365.36,162.26 365.68,161.54 365.99,160.68 366.3,159.69 366.62,158.54 366.93,157.22 367.24,155.73 367.55,154.04 367.87,152.18 368.18,150.12 368.49,147.88 368.8,145.47 369.12,142.91 369.43,140.21 369.74,137.41 370.05,134.53 370.37,131.63 370.68,128.74 370.99,125.92 371.31,123.21 371.62,120.66 371.93,118.33 372.24,116.27 372.56,114.51 372.87,113.1 373.18,112.07 373.49,111.44 373.81,111.23 374.12,111.55 374.43,112.12 374.74,112.86 375.06,113.72 375.37,114.68 375.68,115.72 376,116.82 376.31,117.98 376.62,119.19 376.93,120.43 377.25,121.7 377.56,122.99 377.87,124.29 378.18,125.61 378.5,126.92 378.81,128.24 379.12,129.55 379.43,130.85 379.75,132.14 380.06,133.41 380.37,134.66 380.69,135.9 381,137.11 381.31,138.29 381.62,139.45 381.94,140.58 382.25,141.69 382.56,142.76 382.87,143.8 383.19,144.81 383.5,145.79 383.81,146.74 384.12,147.66 384.44,148.54 384.75,149.39 385.06,150.22 385.38,151 385.69,151.76 386,152.49 386.31,153.19 386.63,153.85 386.94,154.49 387.25,155.1 387.56,155.69 387.88,156.24 388.19,156.77 388.5,157.28 388.81,157.76 389.13,158.21 389.44,158.64 389.75,159.06 390.07,159.45 390.38,159.81 390.69,160.16 391,160.49 391.32,160.81 391.63,161.1 391.94,161.38 392.25,161.64 392.57,161.89 392.88,162.12 393.19,162.34 393.5,162.55 393.82,162.74 394.13,162.92 394.44,163.1 394.76,163.26 395.07,163.41 395.38,163.55 395.69,163.68 396.01,163.8 396.32,163.92 396.63,164.02 396.94,164.12 397.26,164.22 397.57,164.3 397.88,164.39 398.19,164.46 398.51,164.53 398.82,164.6 399.13,164.66 399.45,164.72 399.76,164.77 400.07,164.82 400.38,164.86 400.7,164.91 401.01,164.94 401.32,164.98 401.63,165.01 401.95,165.04 402.26,165.07 402.57,165.1 402.88,165.12 403.2,165.15 403.51,165.17 403.82,165.19 404.14,165.2 404.45,165.22 404.76,165.24 405.07,165.25 405.39,165.26 405.7,165.27 406.01,165.29 406.32,165.29 406.64,165.3 406.95,165.31 407.26,165.32 407.57,165.33 407.89,165.33 408.2,165.34 408.51,165.34 408.83,165.35 409.14,165.35 409.45,165.36 409.76,165.36 410.08,165.37 410.39,165.37 410.7,165.37 411.01,165.37 411.33,165.38 411.64,165.38 411.95,165.38 412.26,165.38 412.58,165.38 412.89,165.39 413.2,165.39 413.52,165.39 413.83,165.39 414.14,165.39 414.45,165.39 414.77,165.39 415.08,165.39 415.39,165.39 415.7,165.39 416.02,165.39 416.33,165.4 416.64,165.4 416.95,165.4 417.27,165.4 417.58,165.4 417.89,165.4 418.21,165.4 418.52,165.4 418.83,165.4 419.14,165.4 419.46,165.4 419.77,165.4 420.08,165.4 420.39,165.4 420.71,165.4 421.02,165.4 421.33,165.4 421.64,165.4 421.96,165.4 422.27,165.4 422.58,165.4 422.9,165.4 423.21,165.4 423.52,165.4 423.83,165.4 424.15,165.4 424.46,165.4 424.77,165.4 425.08,165.4 425.4,165.4 425.71,165.4 426.02,165.4 426.33,165.4 426.65,165.4 426.96,165.4 427.27,165.4 427.59,165.4 427.9,165.4 428.21,165.4 428.52,165.4 428.84,165.4 429.15,165.4 429.46,165.4 429.77,165.4 430.09,165.4 430.4,165.4 430.71,165.4 431.02,165.4 431.34,165.4 431.65,165.4 431.96,165.4 432.28,165.4 432.59,165.4 432.9,165.4 433.21,165.4 433.53,165.4 433.84,165.4 434.15,165.4 434.46,165.4 434.78,165.4 435.09,165.4 435.4,165.4 435.71,165.4 436.03,165.4 436.34,165.4 436.65,165.4 436.97,165.4 437.28,165.4 437.59,165.4 437.9,165.4 438.22,165.4 438.53,165.4 438.84,165.4 439.15,165.4 439.47,165.4 439.78,165.4 440.09,165.4 440.4,165.4 440.72,165.4 441.03,165.4 441.34,165.4 441.66,165.4 441.97,165.4 442.28,165.4 442.59,165.4 442.91,165.4 443.22,165.4 443.53,165.4 443.84,165.4 444.16,165.4 444.47,165.4 444.78,165.4 445.09,165.4 445.41,165.4 445.72,165.4 446.03,165.4 446.35,165.4 446.66,165.4 446.97,165.4 447.28,165.4 447.6,165.4 447.91,165.4 448.22,165.4 448.53,165.4 448.85,165.4 449.16,165.4 449.47,165.4 449.78,165.4 450.1,165.4 450.41,165.4 450.72,165.4 451.04,165.4 451.35,165.4 451.66,165.4 451.97,165.4 452.29,165.4 452.6,165.4 452.91,165.4 453.22,165.4 453.54,165.4 453.85,165.4 454.16,165.4 454.47,165.4 454.79,165.4 455.1,165.4 455.41,165.4 455.73,165.4 456.04,165.4 456.35,165.4 456.66,165.4 456.98,165.4 457.29,165.4 457.6,165.4 457.91,165.4 458.23,165.4 458.54,165.4 458.85,165.4 459.16,165.4 459.48,165.4 459.79,165.4 460.1,165.4 460.42,165.4 460.73,165.4 461.04,165.4 461.35,165.4 461.67,165.4 461.98,165.4 462.29,165.4 462.6,165.4 462.92,165.4 463.23,165.4 463.54,165.4 463.85,165.4 464.17,165.4 464.48,165.4 464.79,165.4 465.11,165.4 465.42,165.4 465.73,165.4 466.04,165.4 466.36,165.4 466.67,165.4 466.98,165.4 467.29,165.4 467.61,165.4 467.92,165.4 468.23,165.4 468.54,165.4 468.86,165.4 469.17,165.4 469.48,165.4 469.8,165.4 470.11,165.4 470.42,165.4 470.73,165.4 471.05,165.4 471.36,165.4 471.67,165.4 471.98,165.4 472.3,165.4 472.61,165.4 472.92,165.4 473.23,165.4 473.55,165.4 473.86,165.4 474.17,165.4 474.49,165.4 474.8,165.4 475.11,165.4 475.42,165.4 475.74,165.4 476.05,165.4 476.36,165.4 476.67,165.4 476.99,165.4 477.3,165.4 477.61,165.4 477.92,165.4 478.24,165.4 478.55,165.4 478.86,165.4 479.18,165.4 479.49,165.4 479.8,165.4 480.11,165.4 480.43,165.4 480.74,165.4 481.05,165.4 481.36,165.4 481.68,165.4 481.99,165.4 482.3,165.4 482.61,165.4 482.93,165.4 483.24,165.4 483.55,165.4 483.87,165.4 484.18,165.4 484.49,165.4 484.8,165.4 485.12,165.4 485.43,165.4 485.74,165.4 486.05,165.4 486.37,165.4 486.68,165.4 486.99,165.4 487.3,165.4 487.62,165.4 487.93,165.4 488.24,165.4 488.56,165.4 488.87,165.4 489.18,165.4 489.49,165.4 489.81,165.4 490.12,165.4 490.43,165.4 490.74,165.4 491.06,165.4 491.37,165.4 491.68,165.4 491.99,165.4 492.31,165.4 492.62,165.4 492.93,165.4 493.25,165.4 493.56,165.4 493.87,165.4 494.18,165.4 494.5,165.4 494.81,165.4 495.12,165.4 495.43,165.4 495.75,165.4 496.06,165.4 496.37,165.4 496.68,165.4 497,165.4 497.31,165.4 497.62,165.4 497.94,165.4 498.25,165.4 498.56,165.4 498.87,165.4 499.19,165.4 499.5,165.4 499.81,165.4 500.12,165.4 500.44,165.4 500.75,165.4 501.06,165.4 501.37,165.4 501.69,165.4 502,165.4" fill="none" stroke="#a50b38" stroke-width="1.7" stroke-linejoin="round" stroke-dasharray="3.4 1.8 1.4 1.8 1.4 1.8"/>
<polyline points="314.4,165.4 314.71,165.4 315.03,165.4 315.34,165.4 315.65,165.4 315.96,165.4 316.28,165.4 316.59,165.4 316.9,165.4 317.21,165.4 317.53,165.4 317.84,165.4 318.15,165.4 318.46,165.4 318.78,165.4 319.09,165.4 319.4,165.4 319.72,165.4 320.03,165.4 320.34,165.4 320.65,165.4 320.97,165.4 321.28,165.4 321.59,165.4 321.9,165.4 322.22,165.4 322.53,165.4 322.84,165.4 323.15,165.4 323.47,165.4 323.78,165.4 324.09,165.4 324.41,165.4 324.72,165.4 325.03,165.4 325.34,165.4 325.66,165.4 325.97,165.4 326.28,165.4 326.59,165.4 326.91,165.4 327.22,165.4 327.53,165.4 327.84,165.4 328.16,165.4 328.47,165.4 328.78,165.4 329.1,165.4 329.41,165.4 329.72,165.4 330.03,165.4 330.35,165.4 330.66,165.4 330.97,165.4 331.28,165.4 331.6,165.4 331.91,165.4 332.22,165.4 332.53,165.4 332.85,165.4 333.16,165.4 333.47,165.4 333.79,165.4 334.1,165.4 334.41,165.4 334.72,165.4 335.04,165.4 335.35,165.4 335.66,165.4 335.97,165.4 336.29,165.4 336.6,165.4 336.91,165.4 337.22,165.4 337.54,165.4 337.85,165.4 338.16,165.4 338.48,165.4 338.79,165.4 339.1,165.4 339.41,165.4 339.73,165.4 340.04,165.4 340.35,165.4 340.66,165.4 340.98,165.4 341.29,165.4 341.6,165.4 341.91,165.4 342.23,165.4 342.54,165.4 342.85,165.4 343.17,165.4 343.48,165.4 343.79,165.4 344.1,165.4 344.42,165.4 344.73,165.4 345.04,165.4 345.35,165.4 345.67,165.4 345.98,165.4 346.29,165.4 346.6,165.4 346.92,165.4 347.23,165.4 347.54,165.4 347.86,165.4 348.17,165.4 348.48,165.4 348.79,165.4 349.11,165.4 349.42,165.4 349.73,165.4 350.04,165.4 350.36,165.4 350.67,165.4 350.98,165.4 351.29,165.4 351.61,165.4 351.92,165.4 352.23,165.4 352.55,165.4 352.86,165.4 353.17,165.4 353.48,165.4 353.8,165.4 354.11,165.4 354.42,165.4 354.73,165.4 355.05,165.4 355.36,165.4 355.67,165.4 355.98,165.4 356.3,165.4 356.61,165.4 356.92,165.4 357.24,165.4 357.55,165.4 357.86,165.4 358.17,165.4 358.49,165.4 358.8,165.4 359.11,165.4 359.42,165.4 359.74,165.4 360.05,165.4 360.36,165.4 360.67,165.4 360.99,165.4 361.3,165.4 361.61,165.4 361.93,165.4 362.24,165.4 362.55,165.4 362.86,165.4 363.18,165.4 363.49,165.4 363.8,165.4 364.11,165.4 364.43,165.4 364.74,165.4 365.05,165.4 365.36,165.4 365.68,165.4 365.99,165.4 366.3,165.4 366.62,165.4 366.93,165.4 367.24,165.4 367.55,165.4 367.87,165.4 368.18,165.4 368.49,165.4 368.8,165.4 369.12,165.4 369.43,165.4 369.74,165.4 370.05,165.4 370.37,165.4 370.68,165.4 370.99,165.4 371.31,165.4 371.62,165.4 371.93,165.4 372.24,165.4 372.56,165.4 372.87,165.4 373.18,165.4 373.49,165.4 373.81,165.4 374.12,165.4 374.43,165.4 374.74,165.4 375.06,165.4 375.37,165.4 375.68,165.4 376,165.4 376.31,165.4 376.62,165.4 376.93,165.4 377.25,165.4 377.56,165.4 377.87,165.4 378.18,165.4 378.5,165.4 378.81,165.4 379.12,165.4 379.43,165.4 379.75,165.4 380.06,165.4 380.37,165.4 380.69,165.4 381,165.4 381.31,165.4 381.62,165.4 381.94,165.4 382.25,165.4 382.56,165.4 382.87,165.4 383.19,165.4 383.5,165.4 383.81,165.4 384.12,165.4 384.44,165.4 384.75,165.4 385.06,165.4 385.38,165.4 385.69,165.4 386,165.4 386.31,165.4 386.63,165.4 386.94,165.4 387.25,165.4 387.56,165.4 387.88,165.4 388.19,165.4 388.5,165.4 388.81,165.4 389.13,165.4 389.44,165.4 389.75,165.4 390.07,165.4 390.38,165.4 390.69,165.4 391,165.4 391.32,165.4 391.63,165.4 391.94,165.4 392.25,165.4 392.57,165.4 392.88,165.4 393.19,165.4 393.5,165.4 393.82,165.4 394.13,165.4 394.44,165.4 394.76,165.4 395.07,165.4 395.38,165.4 395.69,165.4 396.01,165.4 396.32,165.4 396.63,165.4 396.94,165.4 397.26,165.4 397.57,165.4 397.88,165.4 398.19,165.4 398.51,165.4 398.82,165.4 399.13,165.4 399.45,165.4 399.76,165.4 400.07,165.4 400.38,165.4 400.7,165.4 401.01,165.4 401.32,165.4 401.63,165.4 401.95,165.4 402.26,165.4 402.57,165.4 402.88,165.4 403.2,165.4 403.51,165.4 403.82,165.4 404.14,165.4 404.45,165.4 404.76,165.4 405.07,165.39 405.39,165.39 405.7,165.39 406.01,165.38 406.32,165.37 406.64,165.36 406.95,165.35 407.26,165.33 407.57,165.3 407.89,165.27 408.2,165.22 408.51,165.16 408.83,165.09 409.14,164.99 409.45,164.87 409.76,164.72 410.08,164.54 410.39,164.31 410.7,164.04 411.01,163.72 411.33,163.34 411.64,162.9 411.95,162.4 412.26,161.83 412.58,161.18 412.89,160.47 413.2,159.68 413.52,158.84 413.83,157.94 414.14,156.99 414.45,156.01 414.77,155.02 415.08,154.02 415.39,153.05 415.7,152.12 416.02,151.25 416.33,150.46 416.64,149.77 416.95,149.2 417.27,148.77 417.58,148.49 417.89,148.35 418.21,148.41 418.52,148.63 418.83,148.95 419.14,149.33 419.46,149.78 419.77,150.27 420.08,150.8 420.39,151.36 420.71,151.94 421.02,152.53 421.33,153.14 421.64,153.75 421.96,154.35 422.27,154.96 422.58,155.55 422.9,156.14 423.21,156.71 423.52,157.26 423.83,157.8 424.15,158.31 424.46,158.81 424.77,159.28 425.08,159.73 425.4,160.16 425.71,160.57 426.02,160.95 426.33,161.31 426.65,161.65 426.96,161.97 427.27,162.27 427.59,162.54 427.9,162.8 428.21,163.04 428.52,163.26 428.84,163.46 429.15,163.65 429.46,163.82 429.77,163.98 430.09,164.12 430.4,164.25 430.71,164.37 431.02,164.48 431.34,164.58 431.65,164.67 431.96,164.75 432.28,164.82 432.59,164.88 432.9,164.94 433.21,165 433.53,165.04 433.84,165.08 434.15,165.12 434.46,165.16 434.78,165.19 435.09,165.21 435.4,165.24 435.71,165.26 436.03,165.27 436.34,165.29 436.65,165.3 436.97,165.32 437.28,165.33 437.59,165.34 437.9,165.35 438.22,165.35 438.53,165.36 438.84,165.37 439.15,165.37 439.47,165.37 439.78,165.38 440.09,165.38 440.4,165.38 440.72,165.39 441.03,165.39 441.34,165.39 441.66,165.39 441.97,165.39 442.28,165.39 442.59,165.39 442.91,165.4 443.22,165.4 443.53,165.4 443.84,165.4 444.16,165.4 444.47,165.4 444.78,165.4 445.09,165.4 445.41,165.4 445.72,165.4 446.03,165.4 446.35,165.4 446.66,165.4 446.97,165.4 447.28,165.4 447.6,165.4 447.91,165.4 448.22,165.4 448.53,165.4 448.85,165.4 449.16,165.4 449.47,165.4 449.78,165.4 450.1,165.4 450.41,165.4 450.72,165.4 451.04,165.4 451.35,165.4 451.66,165.4 451.97,165.4 452.29,165.4 452.6,165.4 452.91,165.4 453.22,165.4 453.54,165.4 453.85,165.4 454.16,165.4 454.47,165.4 454.79,165.4 455.1,165.4 455.41,165.4 455.73,165.4 456.04,165.4 456.35,165.4 456.66,165.4 456.98,165.4 457.29,165.4 457.6,165.4 457.91,165.4 458.23,165.4 458.54,165.4 458.85,165.4 459.16,165.4 459.48,165.4 459.79,165.4 460.1,165.4 460.42,165.4 460.73,165.4 461.04,165.4 461.35,165.4 461.67,165.4 461.98,165.4 462.29,165.4 462.6,165.4 462.92,165.4 463.23,165.4 463.54,165.4 463.85,165.4 464.17,165.4 464.48,165.4 464.79,165.4 465.11,165.4 465.42,165.4 465.73,165.4 466.04,165.4 466.36,165.4 466.67,165.4 466.98,165.4 467.29,165.4 467.61,165.4 467.92,165.4 468.23,165.4 468.54,165.4 468.86,165.4 469.17,165.4 469.48,165.4 469.8,165.4 470.11,165.4 470.42,165.4 470.73,165.4 471.05,165.4 471.36,165.4 471.67,165.4 471.98,165.4 472.3,165.4 472.61,165.4 472.92,165.4 473.23,165.4 473.55,165.4 473.86,165.4 474.17,165.4 474.49,165.4 474.8,165.4 475.11,165.4 475.42,165.4 475.74,165.4 476.05,165.4 476.36,165.4 476.67,165.4 476.99,165.4 477.3,165.4 477.61,165.4 477.92,165.4 478.24,165.4 478.55,165.4 478.86,165.4 479.18,165.4 479.49,165.4 479.8,165.4 480.11,165.4 480.43,165.4 480.74,165.4 481.05,165.4 481.36,165.4 481.68,165.4 481.99,165.4 482.3,165.4 482.61,165.4 482.93,165.4 483.24,165.4 483.55,165.4 483.87,165.4 484.18,165.4 484.49,165.4 484.8,165.4 485.12,165.4 485.43,165.4 485.74,165.4 486.05,165.4 486.37,165.4 486.68,165.4 486.99,165.4 487.3,165.4 487.62,165.4 487.93,165.4 488.24,165.4 488.56,165.4 488.87,165.4 489.18,165.4 489.49,165.4 489.81,165.4 490.12,165.4 490.43,165.4 490.74,165.4 491.06,165.4 491.37,165.4 491.68,165.4 491.99,165.4 492.31,165.4 492.62,165.4 492.93,165.4 493.25,165.4 493.56,165.4 493.87,165.4 494.18,165.4 494.5,165.4 494.81,165.4 495.12,165.4 495.43,165.4 495.75,165.4 496.06,165.4 496.37,165.4 496.68,165.4 497,165.4 497.31,165.4 497.62,165.4 497.94,165.4 498.25,165.4 498.56,165.4 498.87,165.4 499.19,165.4 499.5,165.4 499.81,165.4 500.12,165.4 500.44,165.4 500.75,165.4 501.06,165.4 501.37,165.4 501.69,165.4 502,165.4" fill="none" stroke="#a50b38" stroke-width="1.7" stroke-linejoin="round" stroke-dasharray="1.6 1.8"/>
</g>
<g clip-path="url(#cC)">
<polyline points="60.2,385.96 60.41,385.63 60.62,385.72 60.82,385.98 61.03,386.16 61.24,386.27 61.45,386.44 61.66,386.18 61.86,385.95 62.07,385.94 62.28,385.6 62.49,385.98 62.7,385.99 62.91,385.72 63.11,385.64 63.32,385.62 63.53,385.34 63.74,385.69 63.95,385.84 64.15,386.34 64.36,386.39 64.57,385.87 64.78,385.83 64.99,385.86 65.19,386 65.4,385.93 65.61,385.9 65.82,385.9 66.03,386.33 66.24,386.07 66.44,386.18 66.65,386.09 66.86,386.16 67.07,386.44 67.28,385.97 67.48,386.12 67.69,385.96 67.9,386.5 68.11,385.77 68.32,386.42 68.52,386.04 68.73,386.18 68.94,385.81 69.15,386.46 69.36,386.03 69.56,386.45 69.77,385.92 69.98,386.11 70.19,385.87 70.4,386.02 70.61,386.02 70.81,385.81 71.02,385.77 71.23,385.89 71.44,385.96 71.65,385.9 71.85,385.77 72.06,385.87 72.27,385.89 72.48,385.59 72.69,386 72.89,385.82 73.1,385.76 73.31,385.83 73.52,386.37 73.73,386.2 73.94,385.93 74.14,385.97 74.35,385.76 74.56,385.74 74.77,385.8 74.98,385.97 75.18,385.91 75.39,385.85 75.6,385.6 75.81,386.2 76.02,386.51 76.22,386.01 76.43,385.86 76.64,386.57 76.85,386.38 77.06,386.31 77.27,385.92 77.47,386.16 77.68,386.29 77.89,386.14 78.1,386.23 78.31,386.23 78.51,385.98 78.72,385.64 78.93,385.77 79.14,385.96 79.35,386.49 79.55,385.67 79.76,386.35 79.97,385.91 80.18,385.61 80.39,385.36 80.59,386.12 80.8,385.73 81.01,385.93 81.22,386.13 81.43,385.87 81.64,385.45 81.84,385.82 82.05,386.18 82.26,385.84 82.47,385.69 82.68,386.24 82.88,385.88 83.09,386 83.3,385.78 83.51,386.33 83.72,386.24 83.92,386.15 84.13,385.84 84.34,386.13 84.55,386.18 84.76,385.93 84.97,386.22 85.17,386.13 85.38,385.83 85.59,385.9 85.8,385.75 86.01,385.57 86.21,385.36 86.42,385.11 86.63,384.82 86.84,384.48 87.05,384.08 87.25,383.62 87.46,383.08 87.67,382.47 87.88,381.77 88.09,380.97 88.3,380.06 88.5,379.03 88.71,377.88 88.92,376.59 89.13,375.15 89.34,373.56 89.54,371.8 89.75,369.86 89.96,367.75 90.17,365.44 90.38,362.95 90.58,360.25 90.79,357.37 91,354.29 91.21,351.02 91.42,347.56 91.62,343.94 91.83,340.15 92.04,336.22 92.25,332.16 92.46,327.99 92.67,323.74 92.87,319.44 93.08,315.12 93.29,310.81 93.5,306.54 93.71,302.34 93.91,298.27 94.12,294.34 94.33,290.61 94.54,287.09 94.75,283.84 94.95,280.89 95.16,278.26 95.37,275.98 95.58,274.09 95.79,272.59 96,271.5 96.2,270.85 96.41,270.63 96.62,270.9 96.83,271.4 97.04,272.03 97.24,272.77 97.45,273.6 97.66,274.51 97.87,275.49 98.08,276.53 98.28,277.63 98.49,278.78 98.7,279.97 98.91,281.2 99.12,282.47 99.32,283.77 99.53,285.1 99.74,286.46 99.95,287.84 100.16,289.24 100.37,290.66 100.57,292.09 100.78,293.54 100.99,295 101.2,296.47 101.41,297.94 101.61,299.42 101.82,300.91 102.03,302.39 102.24,303.88 102.45,305.37 102.65,306.85 102.86,308.33 103.07,309.81 103.28,311.28 103.49,312.75 103.7,314.2 103.9,315.65 104.11,317.09 104.32,318.51 104.53,319.93 104.74,321.33 104.94,322.73 105.15,324.1 105.36,325.47 105.57,326.82 105.78,328.15 105.98,329.47 106.19,330.77 106.4,332.05 106.61,333.32 106.82,334.57 107.03,335.81 107.23,337.02 107.44,338.22 107.65,339.4 107.86,340.56 108.07,341.71 108.27,342.83 108.48,343.94 108.69,345.02 108.9,346.09 109.11,347.14 109.31,348.17 109.52,349.18 109.73,350.17 109.94,351.14 110.15,352.1 110.35,353.03 110.56,353.95 110.77,354.85 110.98,355.73 111.19,356.59 111.4,357.43 111.6,358.25 111.81,359.06 112.02,359.85 112.23,360.62 112.44,361.37 112.64,362.11 112.85,362.83 113.06,363.53 113.27,364.21 113.48,364.88 113.68,365.54 113.89,366.17 114.1,366.79 114.31,367.4 114.52,367.99 114.73,368.57 114.93,369.13 115.14,369.67 115.35,370.21 115.56,370.72 115.77,371.23 115.97,371.72 116.18,372.2 116.39,372.66 116.6,373.11 116.81,373.55 117.01,373.98 117.22,374.4 117.43,374.8 117.64,375.19 117.85,375.57 118.05,375.94 118.26,376.3 118.47,376.65 118.68,376.99 118.89,377.32 119.1,377.64 119.3,377.94 119.51,378.24 119.72,378.54 119.93,378.82 120.14,379.09 120.34,379.35 120.55,379.61 120.76,379.86 120.97,380.1 121.18,380.33 121.38,380.56 121.59,380.78 121.8,380.99 122.01,381.19 122.22,381.39 122.43,381.58 122.63,381.76 122.84,381.94 123.05,382.12 123.26,382.28 123.47,382.44 123.67,382.6 123.88,382.75 124.09,382.9 124.3,383.04 124.51,383.17 124.71,383.3 124.92,383.43 125.13,383.55 125.34,383.67 125.55,383.44 125.76,383.89 125.96,384 126.17,383.77 126.38,384.2 126.59,384.02 126.8,383.34 127,383.52 127.21,384.36 127.42,383.25 127.63,383.83 127.84,384.79 128.04,383.18 128.25,384.11 128.46,381.62 128.67,384.48 128.88,385.13 129.08,384.16 129.29,384.23 129.5,385.3 129.71,384.73 129.92,385.2 130.13,383.78 130.33,385.5 130.54,384.49 130.75,384.49 130.96,384.62 131.17,385.13 131.37,385.47 131.58,381.87 131.79,385.6 132,384.33 132.21,385.42 132.41,384.87 132.62,385.39 132.83,385.95 133.04,385.14 133.25,384.18 133.46,385.21 133.66,385.37 133.87,384.91 134.08,385.34 134.29,385.63 134.5,385.32 134.7,384.49 134.91,385.91 135.12,385.95 135.33,384.61 135.54,385.67 135.74,385.81 135.95,380.5 136.16,383.78 136.37,383.51 136.58,383.36 136.78,384.82 136.99,383.08 137.2,381.77 137.41,383.96 137.62,381.25 137.83,383.84 138.03,382.01 138.24,382.52 138.45,383.38 138.66,381.81 138.87,382.01 139.07,385.09 139.28,383.66 139.49,383.7 139.7,381.27 139.91,381.71 140.11,384.05 140.32,381.54 140.53,385.57 140.74,384.11 140.95,384.82 141.16,383.55 141.36,382.49 141.57,382.94 141.78,386.04 141.99,384.9 142.2,383.37 142.4,384.92 142.61,383.55 142.82,384.13 143.03,384.09 143.24,384.19 143.44,384.59 143.65,385.59 143.86,384.13 144.07,384.62 144.28,384.3 144.49,386.28 144.69,385.59 144.9,384.61 145.11,384.15 145.32,385.08 145.53,384.24 145.73,386.54 145.94,386.17 146.15,384.36 146.36,383.83 146.57,385.2 146.77,385.15 146.98,385.14 147.19,384.59 147.4,381.83 147.61,385.09 147.81,384.22 148.02,386.53 148.23,384 148.44,384.22 148.65,383.81 148.86,384 149.06,384.08 149.27,385.21 149.48,384.08 149.69,384.45 149.9,382.76 150.1,383.99 150.31,384.67 150.52,383.65 150.73,384.15 150.94,383.83 151.14,383.79 151.35,384.43 151.56,383.79 151.77,384.39 151.98,384.58 152.19,383.58 152.39,384.16 152.6,384.16 152.81,383.57 153.02,384.29 153.23,386.51 153.43,384.18 153.64,384.28 153.85,384.07 154.06,383.51 154.27,383.91 154.47,383.3 154.68,382.2 154.89,383.16 155.1,384.43 155.31,385.02 155.51,383.98 155.72,383.03 155.93,383.01 156.14,383.45 156.35,384.23 156.56,384.68 156.76,386.13 156.97,384.04 157.18,383.69 157.39,382.17 157.6,383.35 157.8,383.25 158.01,383.61 158.22,386.22 158.43,384.29 158.64,382.72 158.84,382.48 159.05,380.66 159.26,383.22 159.47,382.34 159.68,381.87 159.89,381.93 160.09,384.99 160.3,381.47 160.51,382.04 160.72,382.43 160.93,384.98 161.13,381.69 161.34,382.66 161.55,384.8 161.76,379.59 161.97,385.13 162.17,385.81 162.38,383.04 162.59,383.07 162.8,383.84 163.01,385.33 163.22,384.64 163.42,385.65 163.63,385.14 163.84,385.93 164.05,384.06 164.26,383.93 164.46,384.5 164.67,384.15 164.88,385.58 165.09,383.59 165.3,384.25 165.5,378.76 165.71,384.36 165.92,384.54 166.13,383.56 166.34,383.8 166.54,385.77 166.75,384 166.96,386.01 167.17,378.45 167.38,383.5 167.59,385.32 167.79,383.91 168,384.55 168.21,385.63 168.42,383.28 168.63,383.5 168.83,384.8 169.04,385.01 169.25,384.24 169.46,382.85 169.67,382.05 169.87,383.24 170.08,386.43 170.29,386.19 170.5,380.89 170.71,381.55 170.92,384.52 171.12,382.09 171.33,385.82 171.54,383.19 171.75,381.19 171.96,380.92 172.16,385.94 172.37,383.92 172.58,383.35 172.79,383.18 173,379.37 173.2,379.23 173.41,384.68 173.62,383.54 173.83,381.87 174.04,380.39 174.24,380.51 174.45,384.74 174.66,381.84 174.87,381.32 175.08,382.5 175.29,380.56 175.49,384.86 175.7,379.19 175.91,381.4 176.12,380.42 176.33,386.22 176.53,381.62 176.74,383.48 176.95,381.53 177.16,382.41 177.37,381.21 177.57,384.44 177.78,379.05 177.99,382.88 178.2,380.74 178.41,380.07 178.62,384.53 178.82,382.91 179.03,380.98 179.24,379.73 179.45,381.78 179.66,382.75 179.86,379.36 180.07,380.2 180.28,381.77 180.49,380.49 180.7,383.08 180.9,381.26 181.11,381.99 181.32,383.21 181.53,384.79 181.74,383.46 181.94,380.06 182.15,380.36 182.36,382.19 182.57,379.05 182.78,384.3 182.99,380.92 183.19,380.9 183.4,385.3 183.61,380.7 183.82,375.92 184.03,382.71 184.23,382.65 184.44,382.33 184.65,382.9 184.86,385.62 185.07,383.3 185.27,381.6 185.48,382.87 185.69,378.74 185.9,381.5 186.11,383.37 186.32,384.66 186.52,382.68 186.73,384.73 186.94,382.6 187.15,382.41 187.36,384.64 187.56,383.97 187.77,382.79 187.98,384.49 188.19,381.98 188.4,382.3 188.6,384.78 188.81,382.85 189.02,382.93 189.23,383.77 189.44,382.48 189.65,383.29 189.85,383.1 190.06,383.23 190.27,382.23 190.48,386.49 190.69,381.82 190.89,384.73 191.1,383.77 191.31,380.34 191.52,383.61 191.73,378.01 191.93,383.23 192.14,378.73 192.35,378.6 192.56,382.32 192.77,378.56 192.97,378.38 193.18,383.17 193.39,381.54 193.6,383.33 193.81,383.02 194.02,380.84 194.22,381.14 194.43,381.61 194.64,376.42 194.85,381.38 195.06,379.44 195.26,382.71 195.47,381.03 195.68,375.16 195.89,381.09 196.1,382.06 196.3,376.22 196.51,385.33 196.72,382.2 196.93,383.36 197.14,383.72 197.35,384.01 197.55,382.1 197.76,384.49 197.97,377.76 198.18,386.05 198.39,381.82 198.59,382.3 198.8,382.65 199.01,383.25 199.22,383.9 199.43,383.55 199.63,382.68 199.84,383.22 200.05,381.84 200.26,383.99 200.47,381.89 200.68,384.09 200.88,376.27 201.09,385.08 201.3,384.23 201.51,381.59 201.72,381.96 201.92,382.16 202.13,383.95 202.34,384.43 202.55,383.63 202.76,382.28 202.96,384.74 203.17,382.79 203.38,383.51 203.59,381.79 203.8,382.21 204,384.76 204.21,383.73 204.42,381.46 204.63,381.12 204.84,382.64 205.05,381.27 205.25,384.24 205.46,383.07 205.67,375.78 205.88,374.03 206.09,382.41 206.29,381.03 206.5,384.2 206.71,386.17 206.92,381.89 207.13,381.84 207.33,383.99 207.54,383.48 207.75,379.08 207.96,385.23 208.17,381.51 208.38,384.19 208.58,376.45 208.79,381.91 209,385.04 209.21,381.51 209.42,384.71 209.62,381.9 209.83,385.3 210.04,382.25 210.25,378.47 210.46,382.58 210.66,381.67 210.87,381.76 211.08,385.7 211.29,384.68 211.5,381.01 211.7,383.19 211.91,381.68 212.12,382.77 212.33,381.95 212.54,385.5 212.75,383.09 212.95,382.17 213.16,383.53 213.37,382.39 213.58,382.05 213.79,382.15 213.99,384.68 214.2,381.96 214.41,383.01 214.62,384.79 214.83,382.19 215.03,384.35 215.24,383.93 215.45,378.05 215.66,383.1 215.87,384.75 216.08,381.73 216.28,376.23 216.49,383.92 216.7,381.17 216.91,385.58 217.12,373.96 217.32,381.76 217.53,384.15 217.74,384.34 217.95,386 218.16,383.58 218.36,385.34 218.57,382.09 218.78,386.32 218.99,383.06 219.2,381.22 219.41,382.52 219.61,383.66 219.82,385.1 220.03,381.12 220.24,386.09 220.45,376.37 220.65,383.57 220.86,381.92 221.07,382.63 221.28,381.4 221.49,381.39 221.69,382.2 221.9,383.21 222.11,383 222.32,381.65 222.53,382.3 222.73,382.14 222.94,381.35 223.15,383.5 223.36,381.46 223.57,381.63 223.78,383.21 223.98,381.38 224.19,384.95 224.4,386.02 224.61,380.5 224.82,379.94 225.02,382.42 225.23,382.6 225.44,383.65 225.65,379.54 225.86,383.26 226.06,380.72 226.27,379.71 226.48,381.67 226.69,378.73 226.9,382.14 227.11,379.53 227.31,383.31 227.52,381.21 227.73,379.8 227.94,382.87 228.15,378.91 228.35,378.26 228.56,382.46 228.77,380.84 228.98,385.83 229.19,381.41 229.39,373.36 229.6,383.55 229.81,377.56 230.02,383.35 230.23,380.42 230.43,386.03 230.64,382.03 230.85,378.24 231.06,373.04 231.27,378.03 231.48,378.31 231.68,380.98 231.89,383.58 232.1,378.54 232.31,377.95 232.52,373.44 232.72,384.7 232.93,377.14 233.14,380.04 233.35,382.69 233.56,383.57 233.76,380.92 233.97,378.4 234.18,383.69 234.39,379.65 234.6,382.92 234.81,380.53 235.01,381.52 235.22,380.85 235.43,384.22 235.64,379.52 235.85,379.11 236.05,381.75 236.26,382.42 236.47,380.49 236.68,384.25 236.89,385.24 237.09,381.28 237.3,382.2 237.51,381.93 237.72,385.89 237.93,381.29 238.13,372.66 238.34,385.14 238.55,382.5 238.76,381.58 238.97,384.43 239.18,382.04 239.38,381.78 239.59,381.95 239.8,383.1 240.01,383.15 240.22,383.43 240.42,381.37 240.63,384.58 240.84,382.15 241.05,375.5 241.26,379.95 241.46,379.84 241.67,381.83 241.88,381.01 242.09,380.24 242.3,381.01 242.51,375.09 242.71,383.78 242.92,380.41 243.13,381.15 243.34,382.41 243.55,381.72 243.75,385.2 243.96,380.02 244.17,384.59 244.38,384.13 244.59,378.42 244.79,384.06 245,378.8 245.21,380.26 245.42,382.41 245.63,379.56 245.84,372.68 246.04,377.17 246.25,376.78 246.46,380.22 246.67,381.05 246.88,379.18 247.08,374.83 247.29,379.55 247.5,383.99" fill="none" stroke="#a50b38" stroke-width="1.4" stroke-linejoin="round"/>
<polyline points="60.2,386.6 60.51,386.6 60.82,386.6 61.14,386.6 61.45,386.6 61.76,386.6 62.07,386.6 62.39,386.6 62.7,386.6 63.01,386.6 63.32,386.6 63.63,386.6 63.95,386.6 64.26,386.6 64.57,386.6 64.88,386.6 65.19,386.6 65.51,386.6 65.82,386.6 66.13,386.6 66.44,386.6 66.76,386.6 67.07,386.6 67.38,386.6 67.69,386.6 68,386.6 68.32,386.6 68.63,386.6 68.94,386.6 69.25,386.6 69.56,386.6 69.88,386.6 70.19,386.6 70.5,386.6 70.81,386.6 71.13,386.6 71.44,386.6 71.75,386.6 72.06,386.6 72.37,386.6 72.69,386.6 73,386.6 73.31,386.6 73.62,386.6 73.94,386.6 74.25,386.6 74.56,386.6 74.87,386.6 75.18,386.6 75.5,386.6 75.81,386.6 76.12,386.6 76.43,386.6 76.74,386.6 77.06,386.6 77.37,386.6 77.68,386.6 77.99,386.6 78.31,386.6 78.62,386.6 78.93,386.6 79.24,386.6 79.55,386.6 79.87,386.6 80.18,386.6 80.49,386.6 80.8,386.6 81.12,386.6 81.43,386.6 81.74,386.6 82.05,386.6 82.36,386.6 82.68,386.6 82.99,386.6 83.3,386.6 83.61,386.6 83.92,386.59 84.24,386.59 84.55,386.59 84.86,386.58 85.17,386.57 85.49,386.56 85.8,386.54 86.11,386.51 86.42,386.47 86.73,386.41 87.05,386.34 87.36,386.23 87.67,386.09 87.98,385.91 88.3,385.66 88.61,385.35 88.92,384.93 89.23,384.41 89.54,383.74 89.86,382.91 90.17,381.88 90.48,380.62 90.79,379.09 91.1,377.25 91.42,375.07 91.73,372.52 92.04,369.57 92.35,366.18 92.67,362.35 92.98,358.07 93.29,353.34 93.6,348.18 93.91,342.64 94.23,336.76 94.54,330.61 94.85,324.29 95.16,317.91 95.47,311.56 95.79,305.39 96.1,299.53 96.41,294.1 96.72,289.25 97.04,285.09 97.35,281.73 97.66,279.27 97.97,277.76 98.28,277.25 98.6,277.55 98.91,278.15 99.22,278.97 99.53,279.96 99.85,281.11 100.16,282.38 100.47,283.77 100.78,285.27 101.09,286.86 101.41,288.53 101.72,290.27 102.03,292.07 102.34,293.94 102.65,295.85 102.97,297.8 103.28,299.79 103.59,301.81 103.9,303.85 104.22,305.91 104.53,307.98 104.84,310.05 105.15,312.14 105.46,314.21 105.78,316.29 106.09,318.35 106.4,320.41 106.71,322.44 107.03,324.46 107.34,326.45 107.65,328.43 107.96,330.37 108.27,332.29 108.59,334.17 108.9,336.02 109.21,337.84 109.52,339.62 109.83,341.37 110.15,343.08 110.46,344.74 110.77,346.37 111.08,347.96 111.4,349.51 111.71,351.02 112.02,352.48 112.33,353.91 112.64,355.29 112.96,356.63 113.27,357.93 113.58,359.19 113.89,360.41 114.2,361.59 114.52,362.72 114.83,363.82 115.14,364.88 115.45,365.9 115.77,366.89 116.08,367.83 116.39,368.74 116.7,369.62 117.01,370.46 117.33,371.27 117.64,372.04 117.95,372.78 118.26,373.49 118.58,374.17 118.89,374.82 119.2,375.44 119.51,376.04 119.82,376.61 120.14,377.15 120.45,377.66 120.76,378.16 121.07,378.63 121.38,379.07 121.7,379.5 122.01,379.9 122.32,380.28 122.63,380.65 122.95,381 123.26,381.32 123.57,381.64 123.88,381.93 124.19,382.21 124.51,382.48 124.82,382.73 125.13,382.96 125.44,383.19 125.76,383.4 126.07,383.6 126.38,383.79 126.69,383.96 127,384.13 127.32,384.29 127.63,384.44 127.94,384.58 128.25,384.71 128.56,384.83 128.88,384.95 129.19,385.06 129.5,385.16 129.81,385.26 130.13,385.35 130.44,385.44 130.75,385.51 131.06,385.59 131.37,385.66 131.69,385.72 132,385.79 132.31,385.84 132.62,385.9 132.93,385.95 133.25,385.99 133.56,386.04 133.87,386.08 134.18,386.11 134.5,386.15 134.81,386.18 135.12,386.21 135.43,386.24 135.74,386.27 136.06,386.29 136.37,386.32 136.68,386.34 136.99,386.36 137.31,386.38 137.62,386.39 137.93,386.41 138.24,386.42 138.55,386.44 138.87,386.45 139.18,386.46 139.49,386.47 139.8,386.48 140.11,386.49 140.43,386.5 140.74,386.51 141.05,386.52 141.36,386.52 141.68,386.53 141.99,386.53 142.3,386.54 142.61,386.54 142.92,386.55 143.24,386.55 143.55,386.56 143.86,386.56 144.17,386.56 144.49,386.57 144.8,386.57 145.11,386.57 145.42,386.57 145.73,386.58 146.05,386.58 146.36,386.58 146.67,386.58 146.98,386.58 147.29,386.59 147.61,386.59 147.92,386.59 148.23,386.59 148.54,386.59 148.86,386.59 149.17,386.59 149.48,386.59 149.79,386.59 150.1,386.59 150.42,386.59 150.73,386.59 151.04,386.6 151.35,386.6 151.66,386.6 151.98,386.6 152.29,386.6 152.6,386.6 152.91,386.6 153.23,386.6 153.54,386.6 153.85,386.6 154.16,386.6 154.47,386.6 154.79,386.6 155.1,386.6 155.41,386.6 155.72,386.6 156.04,386.6 156.35,386.6 156.66,386.6 156.97,386.6 157.28,386.6 157.6,386.6 157.91,386.6 158.22,386.6 158.53,386.6 158.84,386.6 159.16,386.6 159.47,386.6 159.78,386.6 160.09,386.6 160.41,386.6 160.72,386.6 161.03,386.6 161.34,386.6 161.65,386.6 161.97,386.6 162.28,386.6 162.59,386.6 162.9,386.6 163.22,386.6 163.53,386.6 163.84,386.6 164.15,386.6 164.46,386.6 164.78,386.6 165.09,386.6 165.4,386.6 165.71,386.6 166.02,386.6 166.34,386.6 166.65,386.6 166.96,386.6 167.27,386.6 167.59,386.6 167.9,386.6 168.21,386.6 168.52,386.6 168.83,386.6 169.15,386.6 169.46,386.6 169.77,386.6 170.08,386.6 170.39,386.6 170.71,386.6 171.02,386.6 171.33,386.6 171.64,386.6 171.96,386.6 172.27,386.6 172.58,386.6 172.89,386.6 173.2,386.6 173.52,386.6 173.83,386.6 174.14,386.6 174.45,386.6 174.77,386.6 175.08,386.6 175.39,386.6 175.7,386.6 176.01,386.6 176.33,386.6 176.64,386.6 176.95,386.6 177.26,386.6 177.57,386.6 177.89,386.6 178.2,386.6 178.51,386.6 178.82,386.6 179.14,386.6 179.45,386.6 179.76,386.6 180.07,386.6 180.38,386.6 180.7,386.6 181.01,386.6 181.32,386.6 181.63,386.6 181.94,386.6 182.26,386.6 182.57,386.6 182.88,386.6 183.19,386.6 183.51,386.6 183.82,386.6 184.13,386.6 184.44,386.6 184.75,386.6 185.07,386.6 185.38,386.6 185.69,386.6 186,386.6 186.32,386.6 186.63,386.6 186.94,386.6 187.25,386.6 187.56,386.6 187.88,386.6 188.19,386.6 188.5,386.6 188.81,386.6 189.12,386.6 189.44,386.6 189.75,386.6 190.06,386.6 190.37,386.6 190.69,386.6 191,386.6 191.31,386.6 191.62,386.6 191.93,386.6 192.25,386.6 192.56,386.6 192.87,386.6 193.18,386.6 193.5,386.6 193.81,386.6 194.12,386.6 194.43,386.6 194.74,386.6 195.06,386.6 195.37,386.6 195.68,386.6 195.99,386.6 196.3,386.6 196.62,386.6 196.93,386.6 197.24,386.6 197.55,386.6 197.87,386.6 198.18,386.6 198.49,386.6 198.8,386.6 199.11,386.6 199.43,386.6 199.74,386.6 200.05,386.6 200.36,386.6 200.68,386.6 200.99,386.6 201.3,386.6 201.61,386.6 201.92,386.6 202.24,386.6 202.55,386.6 202.86,386.6 203.17,386.6 203.48,386.6 203.8,386.6 204.11,386.6 204.42,386.6 204.73,386.6 205.05,386.6 205.36,386.6 205.67,386.6 205.98,386.6 206.29,386.6 206.61,386.6 206.92,386.6 207.23,386.6 207.54,386.6 207.85,386.6 208.17,386.6 208.48,386.6 208.79,386.6 209.1,386.6 209.42,386.6 209.73,386.6 210.04,386.6 210.35,386.6 210.66,386.6 210.98,386.6 211.29,386.6 211.6,386.6 211.91,386.6 212.23,386.6 212.54,386.6 212.85,386.6 213.16,386.6 213.47,386.6 213.79,386.6 214.1,386.6 214.41,386.6 214.72,386.6 215.03,386.6 215.35,386.6 215.66,386.6 215.97,386.6 216.28,386.6 216.6,386.6 216.91,386.6 217.22,386.6 217.53,386.6 217.84,386.6 218.16,386.6 218.47,386.6 218.78,386.6 219.09,386.6 219.41,386.6 219.72,386.6 220.03,386.6 220.34,386.6 220.65,386.6 220.97,386.6 221.28,386.6 221.59,386.6 221.9,386.6 222.21,386.6 222.53,386.6 222.84,386.6 223.15,386.6 223.46,386.6 223.78,386.6 224.09,386.6 224.4,386.6 224.71,386.6 225.02,386.6 225.34,386.6 225.65,386.6 225.96,386.6 226.27,386.6 226.58,386.6 226.9,386.6 227.21,386.6 227.52,386.6 227.83,386.6 228.15,386.6 228.46,386.6 228.77,386.6 229.08,386.6 229.39,386.6 229.71,386.6 230.02,386.6 230.33,386.6 230.64,386.6 230.96,386.6 231.27,386.6 231.58,386.6 231.89,386.6 232.2,386.6 232.52,386.6 232.83,386.6 233.14,386.6 233.45,386.6 233.76,386.6 234.08,386.6 234.39,386.6 234.7,386.6 235.01,386.6 235.33,386.6 235.64,386.6 235.95,386.6 236.26,386.6 236.57,386.6 236.89,386.6 237.2,386.6 237.51,386.6 237.82,386.6 238.13,386.6 238.45,386.6 238.76,386.6 239.07,386.6 239.38,386.6 239.7,386.6 240.01,386.6 240.32,386.6 240.63,386.6 240.94,386.6 241.26,386.6 241.57,386.6 241.88,386.6 242.19,386.6 242.51,386.6 242.82,386.6 243.13,386.6 243.44,386.6 243.75,386.6 244.07,386.6 244.38,386.6 244.69,386.6 245,386.6 245.31,386.6 245.63,386.6 245.94,386.6 246.25,386.6 246.56,386.6 246.88,386.6 247.19,386.6 247.5,386.6" fill="none" stroke="#a50b38" stroke-width="1.7" stroke-linejoin="round" stroke-dasharray="3.6 2"/>
<polyline points="60.2,386.6 60.51,386.6 60.82,386.6 61.14,386.6 61.45,386.6 61.76,386.6 62.07,386.6 62.39,386.6 62.7,386.6 63.01,386.6 63.32,386.6 63.63,386.6 63.95,386.6 64.26,386.6 64.57,386.6 64.88,386.6 65.19,386.6 65.51,386.6 65.82,386.6 66.13,386.6 66.44,386.6 66.76,386.6 67.07,386.6 67.38,386.6 67.69,386.6 68,386.6 68.32,386.6 68.63,386.6 68.94,386.6 69.25,386.6 69.56,386.6 69.88,386.6 70.19,386.6 70.5,386.6 70.81,386.6 71.13,386.6 71.44,386.6 71.75,386.6 72.06,386.6 72.37,386.6 72.69,386.6 73,386.6 73.31,386.6 73.62,386.6 73.94,386.6 74.25,386.6 74.56,386.6 74.87,386.6 75.18,386.6 75.5,386.6 75.81,386.6 76.12,386.6 76.43,386.6 76.74,386.6 77.06,386.6 77.37,386.6 77.68,386.6 77.99,386.6 78.31,386.6 78.62,386.6 78.93,386.6 79.24,386.6 79.55,386.6 79.87,386.6 80.18,386.6 80.49,386.6 80.8,386.6 81.12,386.6 81.43,386.6 81.74,386.6 82.05,386.6 82.36,386.6 82.68,386.6 82.99,386.6 83.3,386.6 83.61,386.6 83.92,386.6 84.24,386.6 84.55,386.59 84.86,386.59 85.17,386.59 85.49,386.58 85.8,386.57 86.11,386.56 86.42,386.55 86.73,386.52 87.05,386.5 87.36,386.46 87.67,386.41 87.98,386.34 88.3,386.25 88.61,386.13 88.92,385.98 89.23,385.79 89.54,385.55 89.86,385.25 90.17,384.86 90.48,384.39 90.79,383.81 91.1,383.1 91.42,382.24 91.73,381.21 92.04,379.98 92.35,378.53 92.67,376.83 92.98,374.86 93.29,372.6 93.6,370.02 93.91,367.1 94.23,363.84 94.54,360.22 94.85,356.24 95.16,351.91 95.47,347.26 95.79,342.29 96.1,337.06 96.41,331.61 96.72,326 97.04,320.29 97.35,314.57 97.66,308.91 97.97,303.41 98.28,298.16 98.6,293.25 98.91,288.78 99.22,284.83 99.53,281.48 99.85,278.79 100.16,276.84 100.47,275.64 100.78,275.24 101.09,275.43 101.41,275.86 101.72,276.46 102.03,277.22 102.34,278.12 102.65,279.14 102.97,280.28 103.28,281.53 103.59,282.87 103.9,284.31 104.22,285.82 104.53,287.41 104.84,289.07 105.15,290.79 105.46,292.57 105.78,294.4 106.09,296.27 106.4,298.18 106.71,300.12 107.03,302.09 107.34,304.08 107.65,306.09 107.96,308.11 108.27,310.14 108.59,312.18 108.9,314.22 109.21,316.26 109.52,318.29 109.83,320.31 110.15,322.32 110.46,324.31 110.77,326.29 111.08,328.24 111.4,330.17 111.71,332.08 112.02,333.95 112.33,335.8 112.64,337.62 112.96,339.4 113.27,341.15 113.58,342.86 113.89,344.54 114.2,346.18 114.52,347.78 114.83,349.34 115.14,350.86 115.45,352.34 115.77,353.78 116.08,355.18 116.39,356.54 116.7,357.86 117.01,359.13 117.33,360.37 117.64,361.57 117.95,362.72 118.26,363.84 118.58,364.92 118.89,365.96 119.2,366.96 119.51,367.92 119.82,368.85 120.14,369.74 120.45,370.59 120.76,371.41 121.07,372.2 121.38,372.95 121.7,373.68 122.01,374.37 122.32,375.03 122.63,375.66 122.95,376.26 123.26,376.84 123.57,377.38 123.88,377.91 124.19,378.4 124.51,378.88 124.82,379.32 125.13,379.75 125.44,380.16 125.76,380.54 126.07,380.91 126.38,381.25 126.69,381.58 127,381.89 127.32,382.18 127.63,382.46 127.94,382.72 128.25,382.97 128.56,383.2 128.88,383.42 129.19,383.63 129.5,383.83 129.81,384.01 130.13,384.18 130.44,384.34 130.75,384.5 131.06,384.64 131.37,384.77 131.69,384.9 132,385.02 132.31,385.13 132.62,385.23 132.93,385.33 133.25,385.42 133.56,385.51 133.87,385.58 134.18,385.66 134.5,385.73 134.81,385.79 135.12,385.85 135.43,385.91 135.74,385.96 136.06,386.01 136.37,386.05 136.68,386.09 136.99,386.13 137.31,386.17 137.62,386.2 137.93,386.23 138.24,386.26 138.55,386.29 138.87,386.31 139.18,386.34 139.49,386.36 139.8,386.38 140.11,386.4 140.43,386.41 140.74,386.43 141.05,386.44 141.36,386.46 141.68,386.47 141.99,386.48 142.3,386.49 142.61,386.5 142.92,386.51 143.24,386.51 143.55,386.52 143.86,386.53 144.17,386.54 144.49,386.54 144.8,386.55 145.11,386.55 145.42,386.56 145.73,386.56 146.05,386.56 146.36,386.57 146.67,386.57 146.98,386.57 147.29,386.57 147.61,386.58 147.92,386.58 148.23,386.58 148.54,386.58 148.86,386.58 149.17,386.59 149.48,386.59 149.79,386.59 150.1,386.59 150.42,386.59 150.73,386.59 151.04,386.59 151.35,386.59 151.66,386.59 151.98,386.59 152.29,386.59 152.6,386.6 152.91,386.6 153.23,386.6 153.54,386.6 153.85,386.6 154.16,386.6 154.47,386.6 154.79,386.6 155.1,386.6 155.41,386.6 155.72,386.6 156.04,386.6 156.35,386.6 156.66,386.6 156.97,386.6 157.28,386.6 157.6,386.6 157.91,386.6 158.22,386.6 158.53,386.6 158.84,386.6 159.16,386.6 159.47,386.6 159.78,386.6 160.09,386.6 160.41,386.6 160.72,386.6 161.03,386.6 161.34,386.6 161.65,386.6 161.97,386.6 162.28,386.6 162.59,386.6 162.9,386.6 163.22,386.6 163.53,386.6 163.84,386.6 164.15,386.6 164.46,386.6 164.78,386.6 165.09,386.6 165.4,386.6 165.71,386.6 166.02,386.6 166.34,386.6 166.65,386.6 166.96,386.6 167.27,386.6 167.59,386.6 167.9,386.6 168.21,386.6 168.52,386.6 168.83,386.6 169.15,386.6 169.46,386.6 169.77,386.6 170.08,386.6 170.39,386.6 170.71,386.6 171.02,386.6 171.33,386.6 171.64,386.6 171.96,386.6 172.27,386.6 172.58,386.6 172.89,386.6 173.2,386.6 173.52,386.6 173.83,386.6 174.14,386.6 174.45,386.6 174.77,386.6 175.08,386.6 175.39,386.6 175.7,386.6 176.01,386.6 176.33,386.6 176.64,386.6 176.95,386.6 177.26,386.6 177.57,386.6 177.89,386.6 178.2,386.6 178.51,386.6 178.82,386.6 179.14,386.6 179.45,386.6 179.76,386.6 180.07,386.6 180.38,386.6 180.7,386.6 181.01,386.6 181.32,386.6 181.63,386.6 181.94,386.6 182.26,386.6 182.57,386.6 182.88,386.6 183.19,386.6 183.51,386.6 183.82,386.6 184.13,386.6 184.44,386.6 184.75,386.6 185.07,386.6 185.38,386.6 185.69,386.6 186,386.6 186.32,386.6 186.63,386.6 186.94,386.6 187.25,386.6 187.56,386.6 187.88,386.6 188.19,386.6 188.5,386.6 188.81,386.6 189.12,386.6 189.44,386.6 189.75,386.6 190.06,386.6 190.37,386.6 190.69,386.6 191,386.6 191.31,386.6 191.62,386.6 191.93,386.6 192.25,386.6 192.56,386.6 192.87,386.6 193.18,386.6 193.5,386.6 193.81,386.6 194.12,386.6 194.43,386.6 194.74,386.6 195.06,386.6 195.37,386.6 195.68,386.6 195.99,386.6 196.3,386.6 196.62,386.6 196.93,386.6 197.24,386.6 197.55,386.6 197.87,386.6 198.18,386.6 198.49,386.6 198.8,386.6 199.11,386.6 199.43,386.6 199.74,386.6 200.05,386.6 200.36,386.6 200.68,386.6 200.99,386.6 201.3,386.6 201.61,386.6 201.92,386.6 202.24,386.6 202.55,386.6 202.86,386.6 203.17,386.6 203.48,386.6 203.8,386.6 204.11,386.6 204.42,386.6 204.73,386.6 205.05,386.6 205.36,386.6 205.67,386.6 205.98,386.6 206.29,386.6 206.61,386.6 206.92,386.6 207.23,386.6 207.54,386.6 207.85,386.6 208.17,386.6 208.48,386.6 208.79,386.6 209.1,386.6 209.42,386.6 209.73,386.6 210.04,386.6 210.35,386.6 210.66,386.6 210.98,386.6 211.29,386.6 211.6,386.6 211.91,386.6 212.23,386.6 212.54,386.6 212.85,386.6 213.16,386.6 213.47,386.6 213.79,386.6 214.1,386.6 214.41,386.6 214.72,386.6 215.03,386.6 215.35,386.6 215.66,386.6 215.97,386.6 216.28,386.6 216.6,386.6 216.91,386.6 217.22,386.6 217.53,386.6 217.84,386.6 218.16,386.6 218.47,386.6 218.78,386.6 219.09,386.6 219.41,386.6 219.72,386.6 220.03,386.6 220.34,386.6 220.65,386.6 220.97,386.6 221.28,386.6 221.59,386.6 221.9,386.6 222.21,386.6 222.53,386.6 222.84,386.6 223.15,386.6 223.46,386.6 223.78,386.6 224.09,386.6 224.4,386.6 224.71,386.6 225.02,386.6 225.34,386.6 225.65,386.6 225.96,386.6 226.27,386.6 226.58,386.6 226.9,386.6 227.21,386.6 227.52,386.6 227.83,386.6 228.15,386.6 228.46,386.6 228.77,386.6 229.08,386.6 229.39,386.6 229.71,386.6 230.02,386.6 230.33,386.6 230.64,386.6 230.96,386.6 231.27,386.6 231.58,386.6 231.89,386.6 232.2,386.6 232.52,386.6 232.83,386.6 233.14,386.6 233.45,386.6 233.76,386.6 234.08,386.6 234.39,386.6 234.7,386.6 235.01,386.6 235.33,386.6 235.64,386.6 235.95,386.6 236.26,386.6 236.57,386.6 236.89,386.6 237.2,386.6 237.51,386.6 237.82,386.6 238.13,386.6 238.45,386.6 238.76,386.6 239.07,386.6 239.38,386.6 239.7,386.6 240.01,386.6 240.32,386.6 240.63,386.6 240.94,386.6 241.26,386.6 241.57,386.6 241.88,386.6 242.19,386.6 242.51,386.6 242.82,386.6 243.13,386.6 243.44,386.6 243.75,386.6 244.07,386.6 244.38,386.6 244.69,386.6 245,386.6 245.31,386.6 245.63,386.6 245.94,386.6 246.25,386.6 246.56,386.6 246.88,386.6 247.19,386.6 247.5,386.6" fill="none" stroke="#a50b38" stroke-width="1.7" stroke-linejoin="round" stroke-dasharray="3.4 1.8 1.4 1.8 1.4 1.8"/>
<polyline points="60.2,386.6 60.51,386.6 60.82,386.6 61.14,386.6 61.45,386.6 61.76,386.6 62.07,386.6 62.39,386.6 62.7,386.6 63.01,386.6 63.32,386.6 63.63,386.6 63.95,386.6 64.26,386.6 64.57,386.6 64.88,386.6 65.19,386.6 65.51,386.6 65.82,386.6 66.13,386.6 66.44,386.6 66.76,386.6 67.07,386.6 67.38,386.6 67.69,386.6 68,386.6 68.32,386.6 68.63,386.6 68.94,386.6 69.25,386.6 69.56,386.6 69.88,386.6 70.19,386.6 70.5,386.6 70.81,386.6 71.13,386.6 71.44,386.6 71.75,386.6 72.06,386.6 72.37,386.6 72.69,386.6 73,386.6 73.31,386.6 73.62,386.6 73.94,386.6 74.25,386.6 74.56,386.6 74.87,386.6 75.18,386.6 75.5,386.6 75.81,386.6 76.12,386.6 76.43,386.6 76.74,386.6 77.06,386.6 77.37,386.6 77.68,386.6 77.99,386.6 78.31,386.6 78.62,386.6 78.93,386.6 79.24,386.6 79.55,386.6 79.87,386.6 80.18,386.6 80.49,386.6 80.8,386.6 81.12,386.6 81.43,386.6 81.74,386.6 82.05,386.6 82.36,386.6 82.68,386.6 82.99,386.6 83.3,386.6 83.61,386.6 83.92,386.6 84.24,386.6 84.55,386.6 84.86,386.6 85.17,386.6 85.49,386.6 85.8,386.6 86.11,386.6 86.42,386.6 86.73,386.6 87.05,386.6 87.36,386.6 87.67,386.6 87.98,386.59 88.3,386.59 88.61,386.59 88.92,386.58 89.23,386.58 89.54,386.57 89.86,386.55 90.17,386.53 90.48,386.51 90.79,386.47 91.1,386.42 91.42,386.36 91.73,386.27 92.04,386.15 92.35,386 92.67,385.81 92.98,385.56 93.29,385.24 93.6,384.84 93.91,384.33 94.23,383.71 94.54,382.94 94.85,382.01 95.16,380.87 95.47,379.52 95.79,377.91 96.1,376.03 96.41,373.83 96.72,371.3 97.04,368.4 97.35,365.13 97.66,361.47 97.97,357.41 98.28,352.96 98.6,348.13 98.91,342.95 99.22,337.46 99.53,331.71 99.85,325.76 100.16,319.69 100.47,313.59 100.78,307.56 101.09,301.69 101.41,296.1 101.72,290.88 102.03,286.16 102.34,282.02 102.65,278.56 102.97,275.86 103.28,273.97 103.59,272.93 103.9,272.75 104.22,272.94 104.53,273.3 104.84,273.81 105.15,274.45 105.46,275.21 105.78,276.1 106.09,277.09 106.4,278.19 106.71,279.39 107.03,280.68 107.34,282.06 107.65,283.51 107.96,285.05 108.27,286.65 108.59,288.31 108.9,290.04 109.21,291.82 109.52,293.65 109.83,295.52 110.15,297.44 110.46,299.38 110.77,301.36 111.08,303.36 111.4,305.38 111.71,307.42 112.02,309.47 112.33,311.52 112.64,313.58 112.96,315.64 113.27,317.7 113.58,319.75 113.89,321.79 114.2,323.81 114.52,325.82 114.83,327.81 115.14,329.78 115.45,331.73 115.77,333.64 116.08,335.53 116.39,337.39 116.7,339.22 117.01,341.01 117.33,342.77 117.64,344.49 117.95,346.17 118.26,347.81 118.58,349.41 118.89,350.97 119.2,352.5 119.51,353.97 119.82,355.41 120.14,356.81 120.45,358.16 120.76,359.47 121.07,360.74 121.38,361.96 121.7,363.15 122.01,364.29 122.32,365.39 122.63,366.45 122.95,367.47 123.26,368.46 123.57,369.4 123.88,370.3 124.19,371.17 124.51,372 124.82,372.8 125.13,373.56 125.44,374.29 125.76,374.98 126.07,375.65 126.38,376.28 126.69,376.88 127,377.45 127.32,378 127.63,378.51 127.94,379.01 128.25,379.47 128.56,379.91 128.88,380.33 129.19,380.73 129.5,381.1 129.81,381.46 130.13,381.79 130.44,382.11 130.75,382.4 131.06,382.69 131.37,382.95 131.69,383.2 132,383.43 132.31,383.65 132.62,383.86 132.93,384.05 133.25,384.23 133.56,384.4 133.87,384.56 134.18,384.71 134.5,384.84 134.81,384.97 135.12,385.1 135.43,385.21 135.74,385.31 136.06,385.41 136.37,385.5 136.68,385.59 136.99,385.67 137.31,385.74 137.62,385.81 137.93,385.87 138.24,385.93 138.55,385.98 138.87,386.03 139.18,386.08 139.49,386.12 139.8,386.16 140.11,386.2 140.43,386.23 140.74,386.26 141.05,386.29 141.36,386.32 141.68,386.34 141.99,386.36 142.3,386.39 142.61,386.4 142.92,386.42 143.24,386.44 143.55,386.45 143.86,386.47 144.17,386.48 144.49,386.49 144.8,386.5 145.11,386.51 145.42,386.52 145.73,386.52 146.05,386.53 146.36,386.54 146.67,386.54 146.98,386.55 147.29,386.55 147.61,386.56 147.92,386.56 148.23,386.57 148.54,386.57 148.86,386.57 149.17,386.58 149.48,386.58 149.79,386.58 150.1,386.58 150.42,386.58 150.73,386.59 151.04,386.59 151.35,386.59 151.66,386.59 151.98,386.59 152.29,386.59 152.6,386.59 152.91,386.59 153.23,386.59 153.54,386.59 153.85,386.6 154.16,386.6 154.47,386.6 154.79,386.6 155.1,386.6 155.41,386.6 155.72,386.6 156.04,386.6 156.35,386.6 156.66,386.6 156.97,386.6 157.28,386.6 157.6,386.6 157.91,386.6 158.22,386.6 158.53,386.6 158.84,386.6 159.16,386.6 159.47,386.6 159.78,386.6 160.09,386.6 160.41,386.6 160.72,386.6 161.03,386.6 161.34,386.6 161.65,386.6 161.97,386.6 162.28,386.6 162.59,386.6 162.9,386.6 163.22,386.6 163.53,386.6 163.84,386.6 164.15,386.6 164.46,386.6 164.78,386.6 165.09,386.6 165.4,386.6 165.71,386.6 166.02,386.6 166.34,386.6 166.65,386.6 166.96,386.6 167.27,386.6 167.59,386.6 167.9,386.6 168.21,386.6 168.52,386.6 168.83,386.6 169.15,386.6 169.46,386.6 169.77,386.6 170.08,386.6 170.39,386.6 170.71,386.6 171.02,386.6 171.33,386.6 171.64,386.6 171.96,386.6 172.27,386.6 172.58,386.6 172.89,386.6 173.2,386.6 173.52,386.6 173.83,386.6 174.14,386.6 174.45,386.6 174.77,386.6 175.08,386.6 175.39,386.6 175.7,386.6 176.01,386.6 176.33,386.6 176.64,386.6 176.95,386.6 177.26,386.6 177.57,386.6 177.89,386.6 178.2,386.6 178.51,386.6 178.82,386.6 179.14,386.6 179.45,386.6 179.76,386.6 180.07,386.6 180.38,386.6 180.7,386.6 181.01,386.6 181.32,386.6 181.63,386.6 181.94,386.6 182.26,386.6 182.57,386.6 182.88,386.6 183.19,386.6 183.51,386.6 183.82,386.6 184.13,386.6 184.44,386.6 184.75,386.6 185.07,386.6 185.38,386.6 185.69,386.6 186,386.6 186.32,386.6 186.63,386.6 186.94,386.6 187.25,386.6 187.56,386.6 187.88,386.6 188.19,386.6 188.5,386.6 188.81,386.6 189.12,386.6 189.44,386.6 189.75,386.6 190.06,386.6 190.37,386.6 190.69,386.6 191,386.6 191.31,386.6 191.62,386.6 191.93,386.6 192.25,386.6 192.56,386.6 192.87,386.6 193.18,386.6 193.5,386.6 193.81,386.6 194.12,386.6 194.43,386.6 194.74,386.6 195.06,386.6 195.37,386.6 195.68,386.6 195.99,386.6 196.3,386.6 196.62,386.6 196.93,386.6 197.24,386.6 197.55,386.6 197.87,386.6 198.18,386.6 198.49,386.6 198.8,386.6 199.11,386.6 199.43,386.6 199.74,386.6 200.05,386.6 200.36,386.6 200.68,386.6 200.99,386.6 201.3,386.6 201.61,386.6 201.92,386.6 202.24,386.6 202.55,386.6 202.86,386.6 203.17,386.6 203.48,386.6 203.8,386.6 204.11,386.6 204.42,386.6 204.73,386.6 205.05,386.6 205.36,386.6 205.67,386.6 205.98,386.6 206.29,386.6 206.61,386.6 206.92,386.6 207.23,386.6 207.54,386.6 207.85,386.6 208.17,386.6 208.48,386.6 208.79,386.6 209.1,386.6 209.42,386.6 209.73,386.6 210.04,386.6 210.35,386.6 210.66,386.6 210.98,386.6 211.29,386.6 211.6,386.6 211.91,386.6 212.23,386.6 212.54,386.6 212.85,386.6 213.16,386.6 213.47,386.6 213.79,386.6 214.1,386.6 214.41,386.6 214.72,386.6 215.03,386.6 215.35,386.6 215.66,386.6 215.97,386.6 216.28,386.6 216.6,386.6 216.91,386.6 217.22,386.6 217.53,386.6 217.84,386.6 218.16,386.6 218.47,386.6 218.78,386.6 219.09,386.6 219.41,386.6 219.72,386.6 220.03,386.6 220.34,386.6 220.65,386.6 220.97,386.6 221.28,386.6 221.59,386.6 221.9,386.6 222.21,386.6 222.53,386.6 222.84,386.6 223.15,386.6 223.46,386.6 223.78,386.6 224.09,386.6 224.4,386.6 224.71,386.6 225.02,386.6 225.34,386.6 225.65,386.6 225.96,386.6 226.27,386.6 226.58,386.6 226.9,386.6 227.21,386.6 227.52,386.6 227.83,386.6 228.15,386.6 228.46,386.6 228.77,386.6 229.08,386.6 229.39,386.6 229.71,386.6 230.02,386.6 230.33,386.6 230.64,386.6 230.96,386.6 231.27,386.6 231.58,386.6 231.89,386.6 232.2,386.6 232.52,386.6 232.83,386.6 233.14,386.6 233.45,386.6 233.76,386.6 234.08,386.6 234.39,386.6 234.7,386.6 235.01,386.6 235.33,386.6 235.64,386.6 235.95,386.6 236.26,386.6 236.57,386.6 236.89,386.6 237.2,386.6 237.51,386.6 237.82,386.6 238.13,386.6 238.45,386.6 238.76,386.6 239.07,386.6 239.38,386.6 239.7,386.6 240.01,386.6 240.32,386.6 240.63,386.6 240.94,386.6 241.26,386.6 241.57,386.6 241.88,386.6 242.19,386.6 242.51,386.6 242.82,386.6 243.13,386.6 243.44,386.6 243.75,386.6 244.07,386.6 244.38,386.6 244.69,386.6 245,386.6 245.31,386.6 245.63,386.6 245.94,386.6 246.25,386.6 246.56,386.6 246.88,386.6 247.19,386.6 247.5,386.6" fill="none" stroke="#a50b38" stroke-width="1.7" stroke-linejoin="round" stroke-dasharray="1.6 1.8"/>
</g>
<g clip-path="url(#cD)">
<polyline points="314.3,386.6 314.61,386.6 314.93,386.6 315.24,386.6 315.55,386.6 315.87,386.6 316.18,386.6 316.49,386.6 316.81,386.6 317.12,386.6 317.44,386.6 317.75,386.6 318.06,386.6 318.38,386.6 318.69,386.6 319,386.6 319.32,386.6 319.63,386.6 319.94,386.6 320.26,386.6 320.57,386.6 320.88,386.6 321.2,386.6 321.51,386.6 321.82,386.6 322.14,386.6 322.45,386.6 322.76,386.6 323.08,386.6 323.39,386.6 323.7,386.6 324.02,386.6 324.33,386.6 324.65,386.6 324.96,386.6 325.27,386.6 325.59,386.6 325.9,386.6 326.21,386.6 326.53,386.6 326.84,386.6 327.15,386.6 327.47,386.6 327.78,386.6 328.09,386.6 328.41,386.6 328.72,386.6 329.03,386.6 329.35,386.6 329.66,386.6 329.98,386.6 330.29,386.6 330.6,386.6 330.92,386.6 331.23,386.6 331.54,386.6 331.86,386.6 332.17,386.6 332.48,386.6 332.8,386.6 333.11,386.6 333.42,386.6 333.74,386.6 334.05,386.6 334.36,386.6 334.68,386.6 334.99,386.6 335.3,386.6 335.62,386.6 335.93,386.6 336.25,386.6 336.56,386.6 336.87,386.6 337.19,386.6 337.5,386.6 337.81,386.6 338.13,386.6 338.44,386.6 338.75,386.6 339.07,386.6 339.38,386.6 339.69,386.58 340.01,386.54 340.32,386.47 340.63,386.38 340.95,386.28 341.26,386.17 341.57,386.06 341.89,385.93 342.2,385.76 342.51,385.58 342.83,385.36 343.14,385.13 343.46,384.87 343.77,384.59 344.08,384.27 344.4,383.88 344.71,383.44 345.02,382.94 345.34,382.39 345.65,381.81 345.96,381.18 346.28,380.53 346.59,379.84 346.9,379.14 347.22,378.43 347.53,377.7 347.84,376.97 348.16,376.24 348.47,375.52 348.79,374.82 349.1,374.13 349.41,373.46 349.73,372.83 350.04,372.2 350.35,371.57 350.67,370.94 350.98,370.31 351.29,369.69 351.61,369.06 351.92,368.43 352.23,367.8 352.55,367.16 352.86,366.52 353.17,365.88 353.49,365.24 353.8,364.59 354.11,363.93 354.43,363.27 354.74,362.61 355.06,361.93 355.37,361.25 355.68,360.57 356,359.88 356.31,359.19 356.62,358.49 356.94,357.79 357.25,357.08 357.56,356.37 357.88,355.66 358.19,354.94 358.5,354.21 358.82,353.48 359.13,352.74 359.44,352 359.76,351.25 360.07,350.49 360.38,349.73 360.7,348.95 361.01,348.18 361.32,347.39 361.64,346.6 361.95,345.81 362.27,345.01 362.58,344.2 362.89,343.39 363.21,342.56 363.52,341.74 363.83,340.9 364.15,340.05 364.46,339.2 364.77,338.33 365.09,337.46 365.4,336.57 365.71,335.67 366.03,334.76 366.34,333.84 366.65,332.91 366.97,331.95 367.28,330.93 367.6,329.87 367.91,328.78 368.22,327.66 368.54,326.54 368.85,325.41 369.16,324.29 369.48,323.2 369.79,322.14 370.1,321.13 370.42,320.17 370.73,319.28 371.04,318.44 371.36,317.62 371.67,316.82 371.98,316.05 372.3,315.3 372.61,314.59 372.92,313.92 373.24,313.28 373.55,312.69 373.87,312.12 374.18,311.53 374.49,310.93 374.81,310.33 375.12,309.73 375.43,309.14 375.75,308.57 376.06,308.03 376.37,307.53 376.69,307.07 377,306.66 377.31,306.32 377.63,306.04 377.94,305.85 378.25,305.74 378.57,305.71 378.88,305.72 379.19,305.73 379.51,305.74 379.82,305.76 380.13,305.79 380.45,305.82 380.76,305.85 381.08,305.89 381.39,305.93 381.7,305.97 382.02,306.02 382.33,306.07 382.64,306.12 382.96,306.18 383.27,306.24 383.58,306.3 383.9,306.37 384.21,306.43 384.52,306.5 384.84,306.57 385.15,306.64 385.46,306.71 385.78,306.78 386.09,306.85 386.4,306.93 386.72,307 387.03,307.07 387.35,307.15 387.66,307.22 387.97,307.29 388.29,307.36 388.6,307.44 388.91,307.5 389.23,307.57 389.54,307.64 389.85,307.7 390.17,307.76 390.48,307.82 390.79,307.88 391.11,307.94 391.42,307.99 391.73,308.05 392.05,308.1 392.36,308.16 392.68,308.21 392.99,308.27 393.3,308.33 393.62,308.39 393.93,308.8 394.24,309.69 394.56,308.45 394.87,308.18 395.18,307.79 395.5,308.56 395.81,309.03 396.12,309.99 396.44,309.22 396.75,307.97 397.06,309.07 397.38,308.72 397.69,308.38 398,310.27 398.32,310.37 398.63,309.33 398.94,311.36 399.26,310.86 399.57,309.93 399.89,310.16 400.2,312.06 400.51,312.83 400.83,310.74 401.14,312.22 401.45,312.56 401.77,312.5 402.08,312.57 402.39,313.99 402.71,313.89 403.02,313.66 403.33,315.08 403.65,315.02 403.96,316 404.27,314.94 404.59,317.64 404.9,316.38 405.21,317.42 405.53,317.59 405.84,319.17 406.16,317.85 406.47,319.58 406.78,319.55 407.1,321.68 407.41,321.74 407.72,320.79 408.04,323.63 408.35,323.39 408.66,324.41 408.98,324.71 409.29,324.63 409.6,324.69 409.92,326.18 410.23,325.93 410.54,327.13 410.86,327.25 411.17,329.91 411.49,328.93 411.8,330.13 412.11,330.6 412.43,333.86 412.74,334.72 413.05,335.94 413.37,336.91 413.68,337.2 413.99,337.18 414.31,338.34 414.62,339.78 414.93,338.92 415.25,341.19 415.56,339.77 415.87,342.16 416.19,343.49 416.5,343.83 416.81,344.85 417.13,345 417.44,344.53 417.75,345.91 418.07,347.41 418.38,347.2 418.7,347.78 419.01,348.55 419.32,347.95 419.64,350.04 419.95,349.57 420.26,351.44 420.58,350.91 420.89,350.68 421.2,352.33 421.52,353.46 421.83,352.85 422.14,352.33 422.46,353.51 422.77,354.68 423.08,354.9 423.4,356.03 423.71,356.44 424.02,355.87 424.34,356.25 424.65,357.62 424.97,357.59 425.28,357.88 425.59,358.95 425.91,358.65 426.22,359.97 426.53,360.58 426.85,360.58 427.16,361.34 427.47,361.12 427.79,361.85 428.1,362.94 428.41,362.98 428.73,362.95 429.04,364.57 429.35,365.24 429.67,364.41 429.98,366.71 430.3,366.05 430.61,367.66 430.92,366.41 431.24,366.27 431.55,366.58 431.86,368.45 432.18,367.63 432.49,368.52 432.8,369.96 433.12,370.75 433.43,369.76 433.74,370.74 434.06,369.76 434.37,369.96 434.68,371.22 435,371.44 435.31,372.99 435.62,372.8 435.94,371.94 436.25,373.04 436.56,373.83 436.88,373.6 437.19,373.99 437.51,374.41 437.82,374.72 438.13,374.81 438.45,374.15 438.76,374.65 439.07,375.81 439.39,377.37 439.7,375.62 440.01,376.51 440.33,378.15 440.64,376.4 440.95,377.76 441.27,378.61 441.58,377.68 441.89,379.1 442.21,378.22 442.52,379.06 442.83,380.07 443.15,379.89 443.46,380.79 443.78,381.59 444.09,381.84 444.4,381.88 444.72,381.61 445.03,381.14 445.34,381.55 445.66,378.87 445.97,381.17 446.28,382.91 446.6,382.02 446.91,382.35 447.22,381.85 447.54,383.56 447.85,381.57 448.16,384.57 448.48,383.47 448.79,382.74 449.11,383.13 449.42,384.18 449.73,383.25 450.05,383.76 450.36,382.62 450.67,384.92 450.99,383.36 451.3,383.28 451.61,385.1 451.93,385.58 452.24,385.64 452.55,385.36 452.87,385.47 453.18,385.57 453.49,383.44 453.81,385.89 454.12,385.25 454.43,385.69 454.75,383.97 455.06,386.03 455.38,378.99 455.69,384.69 456,385.44 456.32,385.52 456.63,383.8 456.94,384.62 457.26,383.86 457.57,386.48 457.88,386.37 458.2,386.37 458.51,384.03 458.82,384.62 459.14,385.66 459.45,385.16 459.76,385.64 460.08,385.95 460.39,384.68 460.7,385.41 461.02,384.46 461.33,379.04 461.64,384.13 461.96,383.76 462.27,384.04 462.59,380.95 462.9,383.79 463.21,379.36 463.53,384.74 463.84,386.43 464.15,383.16 464.47,384.5 464.78,378.6 465.09,386.34 465.41,386.18 465.72,386.39 466.03,384.39 466.35,383.99 466.66,384.65 466.97,381.43 467.29,384.05 467.6,383.74 467.91,385.36 468.23,385.1 468.54,386.25 468.86,385.2 469.17,385.5 469.48,386.21 469.8,386.18 470.11,385.97 470.42,385.15 470.74,384.47 471.05,385.73 471.36,384.03 471.68,384.57 471.99,384.53 472.3,384.13 472.62,385.56 472.93,380.19 473.24,386.35 473.56,386.59 473.87,382.52 474.18,383.76 474.5,385.45 474.81,384.61 475.13,378.87 475.44,385.17 475.75,384.85 476.07,383.64 476.38,383.74 476.69,385.42 477.01,386.16 477.32,385.13 477.63,385.29 477.95,383.89 478.26,379.8 478.57,384.85 478.89,384.07 479.2,383.3 479.51,384.89 479.83,379.02 480.14,385.12 480.45,384.8 480.77,380.44 481.08,385.87 481.4,383.33 481.71,383.73 482.02,385.97 482.34,386.44 482.65,386.51 482.96,383.56 483.28,385.21 483.59,385.83 483.9,384.29 484.22,383.33 484.53,386.18 484.84,384.91 485.16,384.24 485.47,384.14 485.78,385.13 486.1,384.8 486.41,383.59 486.72,383.15 487.04,384.89 487.35,384.02 487.67,384.26 487.98,384.69 488.29,384.2 488.61,383.73 488.92,384.27 489.23,383.82 489.55,384.42 489.86,378.81 490.17,385.14 490.49,385.17 490.8,386.47 491.11,384.14 491.43,383.79 491.74,384.67 492.05,384.05 492.37,385.42 492.68,384.05 493,384.74 493.31,386.44 493.62,384.03 493.94,384.61 494.25,384.82 494.56,385.47 494.88,383.24 495.19,385.56 495.5,379.46 495.82,386.26 496.13,386.08 496.44,385.83 496.76,383.4 497.07,382.42 497.38,377.7 497.7,384.8 498.01,384.8 498.32,385.76 498.64,385.26 498.95,385.62 499.26,384.01 499.58,380.68 499.89,383.08 500.21,386.45 500.52,386.58 500.83,384.67 501.15,383.72 501.46,386.13 501.77,377.53 502.09,383.31 502.4,383.92" fill="none" stroke="#a50b38" stroke-width="1.7" stroke-linejoin="round"/>
<polyline points="314.3,386.6 314.61,386.6 314.93,386.6 315.24,386.6 315.55,386.6 315.87,386.6 316.18,386.6 316.49,386.6 316.81,386.6 317.12,386.6 317.44,386.6 317.75,386.6 318.06,386.6 318.38,386.6 318.69,386.6 319,386.6 319.32,386.6 319.63,386.6 319.94,386.6 320.26,386.6 320.57,386.6 320.88,386.6 321.2,386.6 321.51,386.6 321.82,386.6 322.14,386.6 322.45,386.6 322.76,386.6 323.08,386.6 323.39,386.6 323.7,386.6 324.02,386.6 324.33,386.6 324.65,386.6 324.96,386.6 325.27,386.6 325.59,386.6 325.9,386.6 326.21,386.6 326.53,386.6 326.84,386.6 327.15,386.6 327.47,386.6 327.78,386.6 328.09,386.6 328.41,386.6 328.72,386.6 329.03,386.6 329.35,386.6 329.66,386.6 329.98,386.6 330.29,386.6 330.6,386.6 330.92,386.6 331.23,386.6 331.54,386.6 331.86,386.6 332.17,386.6 332.48,386.6 332.8,386.6 333.11,386.6 333.42,386.6 333.74,386.6 334.05,386.6 334.36,386.6 334.68,386.6 334.99,386.6 335.3,386.6 335.62,386.6 335.93,386.6 336.25,386.6 336.56,386.6 336.87,386.6 337.19,386.6 337.5,386.6 337.81,386.57 338.13,386.53 338.44,386.47 338.75,386.4 339.07,386.31 339.38,386.21 339.69,386.11 340.01,386 340.32,385.88 340.63,385.76 340.95,385.61 341.26,385.42 341.57,385.21 341.89,384.97 342.2,384.71 342.51,384.42 342.83,384.12 343.14,383.79 343.46,383.45 343.77,383.08 344.08,382.65 344.4,382.17 344.71,381.62 345.02,381.03 345.34,380.4 345.65,379.72 345.96,379.01 346.28,378.28 346.59,377.52 346.9,376.75 347.22,375.96 347.53,375.16 347.84,374.37 348.16,373.58 348.47,372.8 348.79,372.03 349.1,371.26 349.41,370.47 349.73,369.66 350.04,368.83 350.35,367.98 350.67,367.12 350.98,366.25 351.29,365.38 351.61,364.49 351.92,363.6 352.23,362.71 352.55,361.82 352.86,360.93 353.17,360.04 353.49,359.16 353.8,358.29 354.11,357.43 354.43,356.57 354.74,355.71 355.06,354.85 355.37,354 355.68,353.14 356,352.28 356.31,351.91 356.62,350.88 356.94,350.18 357.25,348.53 357.56,348.16 357.88,347.21 358.19,346.53 358.5,345.58 358.82,344.13 359.13,343.47 359.44,342.95 359.76,342.41 360.07,341.46 360.38,340.31 360.7,339.51 361.01,338.25 361.32,337.41 361.64,336.96 361.95,335.74 362.27,334.57 362.58,334.42 362.89,333.25 363.21,332.45 363.52,331.03 363.83,330.53 364.15,329.42 364.46,328.6 364.77,327.65 365.09,327.39 365.4,326.06 365.71,325.24 366.03,325.14 366.34,323.86 366.65,322.86 366.97,322.11 367.28,321.04 367.6,320.93 367.91,319.76 368.22,319.08 368.54,318.5 368.85,317.59 369.16,317.31 369.48,316.31 369.79,315.85 370.1,315.32 370.42,314.81 370.73,313.86 371.04,312.94 371.36,313.06 371.67,311.83 371.98,312.1 372.3,310.7 372.61,310.77 372.92,310.38 373.24,309.51 373.55,309.83 373.87,309.47 374.18,308.3 374.49,308.55 374.81,308.06 375.12,307.28 375.43,307.21 375.75,306.86 376.06,306.42 376.37,307.01 376.69,306.58 377,306.85 377.31,305.82 377.63,305.67 377.94,305.69 378.25,306.13 378.57,305.57 378.88,305.71 379.19,305.74 379.51,305.79 379.82,306.23 380.13,306.12 380.45,306.27 380.76,305.64 381.08,305.51 381.39,306.35 381.7,305.75 382.02,306.46 382.33,306.62 382.64,306.53 382.96,306.14 383.27,306.97 383.58,306.98 383.9,306.45 384.21,307.31 384.52,306.66 384.84,306.75 385.15,307.16 385.46,307.59 385.78,307.41 386.09,307.45 386.4,308.15 386.72,308.35 387.03,308.15 387.35,308.11 387.66,307.86 387.97,308.1 388.29,308.41 388.6,308.39 388.91,309.02 389.23,308.66 389.54,308.95 389.85,309.58 390.17,309.47 390.48,309.88 390.79,310.12 391.11,309.71 391.42,310.11 391.73,310.5 392.05,310.36 392.36,310.56 392.68,311.6 392.99,311.82 393.3,311.18 393.62,312.18 393.93,312.26 394.24,312.27 394.56,312.79 394.87,312.29 395.18,313.03 395.5,313.12 395.81,313.09 396.12,313.79 396.44,313.64 396.75,313.68 397.06,314.12 397.38,314.55 397.69,314.59 398,315.55 398.32,314.86 398.63,315.38 398.94,316.2 399.26,316.04 399.57,316.12 399.89,316.69 400.2,317.03 400.51,316.73 400.83,316.68 401.14,317.41 401.45,317.41 401.77,318.14 402.08,317.8 402.39,317.91 402.71,318.51 403.02,318.99 403.33,319.6 403.65,319.11 403.96,319.98 404.27,319.78 404.59,320.93 404.9,320.91 405.21,320.86 405.53,321.88 405.84,322.34 406.16,322.49 406.47,322.47 406.78,323.19 407.1,323.41 407.41,323.75 407.72,324.8 408.04,325.16 408.35,325.39 408.66,326.02 408.98,325.99 409.29,326.85 409.6,326.99 409.92,327.38 410.23,327.8 410.54,328.21 410.86,328.85 411.17,329.64 411.49,330.44 411.8,330.65 412.11,330.74 412.43,330.97 412.74,332.43 413.05,332.78 413.37,333.37 413.68,333.9 413.99,334.37 414.31,334.6 414.62,335.26 414.93,335.22 415.25,336.73 415.56,336.47 415.87,337.31 416.19,338.21 416.5,338.22 416.81,338.66 417.13,340.19 417.44,339.82 417.75,341.32 418.07,341.87 418.38,342.24 418.7,343.15 419.01,343.67 419.32,344.01 419.64,344.46 419.95,345.79 420.26,345.88 420.58,346.53 420.89,347.86 421.2,348.21 421.52,349.48 421.83,350.08 422.14,350.25 422.46,351.71 422.77,351.69 423.08,352.15 423.4,353.05 423.71,353.63 424.02,355.02 424.34,355.58 424.65,355.75 424.97,356.22 425.28,356.55 425.59,357.54 425.91,358.29 426.22,358.4 426.53,358.43 426.85,359.33 427.16,360.16 427.47,360.08 427.79,360.56 428.1,361.14 428.41,361.13 428.73,361.57 429.04,362.91 429.35,362.51 429.67,363.14 429.98,363.47 430.3,364.33 430.61,364.15 430.92,364.38 431.24,365.12 431.55,366.02 431.86,365.84 432.18,365.96 432.49,366.38 432.8,367.04 433.12,367.73 433.43,368.12 433.74,368.01 434.06,368.83 434.37,368.81 434.68,368.65 435,369.35 435.31,369.92 435.62,370.34 435.94,370.1 436.25,371.06 436.56,371.31 436.88,371.13 437.19,372.01 437.51,372.18 437.82,371.68 438.13,372.22 438.45,373.05 438.76,372.6 439.07,372.77 439.39,373.81 439.7,373.66 440.01,373.97 440.33,374.26 440.64,374.29 440.95,374.51 441.27,375.27 441.58,375.25 441.89,375.25 442.21,375.35 442.52,375.69 442.83,375.95 443.15,376.15 443.46,376 443.78,376.59 444.09,377.31 444.4,376.86 444.72,377.49 445.03,377.09 445.34,378.12 445.66,377.6 445.97,378.1 446.28,377.88 446.6,378.72 446.91,378.35 447.22,379.04 447.54,378.73 447.85,379.3 448.16,379.52 448.48,379.42 448.79,379.59 449.11,380.12 449.42,379.77 449.73,380.12 450.05,380.36 450.36,380.82 450.67,380.07 450.99,380.42 451.3,381.21 451.61,380.58 451.93,380.64 452.24,381.26 452.55,381.42 452.87,381.29 453.18,381.56 453.49,381.91 453.81,382.2 454.12,381.97 454.43,381.69 454.75,381.89 455.06,382.6 455.38,382.94 455.69,382.23 456,382.69 456.32,383.3 456.63,383.17 456.94,382.75 457.26,383.62 457.57,383.36 457.88,383.79 458.2,383.09 458.51,384 458.82,383.21 459.14,383.69 459.45,383.91 459.76,384.08 460.08,383.8 460.39,384.05 460.7,384.31 461.02,384.24 461.33,384.31 461.64,384.63 461.96,384.12 462.27,384.31 462.59,384.75 462.9,384.62 463.21,384.79 463.53,384.55 463.84,385.13 464.15,385.08 464.47,384.94 464.78,385.3 465.09,384.81 465.41,385.26 465.72,385.48 466.03,384.99 466.35,385.35 466.66,385.17 466.97,386.04 467.29,385.92 467.6,385.58 467.91,386.21 468.23,385.51 468.54,386 468.86,385.52 469.17,385.89 469.48,386.53 469.8,386.34 470.11,386.19 470.42,386.5 470.74,386.6 471.05,386.43 471.36,386.47 471.68,386.51 471.99,386.54 472.3,386.57 472.62,386.59 472.93,386.6 473.24,386.6 473.56,386.6 473.87,386.6 474.18,386.6 474.5,386.6 474.81,386.6 475.13,386.6 475.44,386.6 475.75,386.6 476.07,386.6 476.38,386.6 476.69,386.6 477.01,386.6 477.32,386.6 477.63,386.6 477.95,386.6 478.26,386.6 478.57,386.6 478.89,386.6 479.2,386.6 479.51,386.6 479.83,386.6 480.14,386.6 480.45,386.6 480.77,386.6 481.08,386.6 481.4,386.6 481.71,386.6 482.02,386.6 482.34,386.6 482.65,386.6 482.96,386.6 483.28,386.6 483.59,386.6 483.9,386.6 484.22,386.6 484.53,386.6 484.84,386.6 485.16,386.6 485.47,386.6 485.78,386.6 486.1,386.6 486.41,386.6 486.72,386.6 487.04,386.6 487.35,386.6 487.67,386.6 487.98,386.6 488.29,386.6 488.61,386.6 488.92,386.6 489.23,386.6 489.55,386.6 489.86,386.6 490.17,386.6 490.49,386.6 490.8,386.6 491.11,386.6 491.43,386.6 491.74,386.6 492.05,386.6 492.37,386.6 492.68,386.6 493,386.6 493.31,386.6 493.62,386.6 493.94,386.6 494.25,386.6 494.56,386.6 494.88,386.6 495.19,386.6 495.5,386.6 495.82,386.6 496.13,386.6 496.44,386.6 496.76,386.6 497.07,386.6 497.38,386.6 497.7,386.6 498.01,386.6 498.32,386.6 498.64,386.6 498.95,386.6 499.26,386.6 499.58,386.6 499.89,386.6 500.21,386.6 500.52,386.6 500.83,386.6 501.15,386.6 501.46,386.6 501.77,386.6 502.09,386.6 502.4,386.6" fill="none" stroke="#a50b38" stroke-width="1.7" stroke-linejoin="round" stroke-dasharray="3.6 2"/>
<polyline points="314.3,386.6 314.61,386.6 314.93,386.6 315.24,386.6 315.55,386.6 315.87,386.6 316.18,386.6 316.49,386.6 316.81,386.6 317.12,386.6 317.44,386.6 317.75,386.6 318.06,386.6 318.38,386.6 318.69,386.6 319,386.6 319.32,386.6 319.63,386.6 319.94,386.6 320.26,386.6 320.57,386.6 320.88,386.6 321.2,386.6 321.51,386.6 321.82,386.6 322.14,386.6 322.45,386.6 322.76,386.6 323.08,386.6 323.39,386.6 323.7,386.6 324.02,386.6 324.33,386.6 324.65,386.6 324.96,386.6 325.27,386.6 325.59,386.6 325.9,386.6 326.21,386.6 326.53,386.6 326.84,386.6 327.15,386.6 327.47,386.6 327.78,386.6 328.09,386.6 328.41,386.6 328.72,386.6 329.03,386.6 329.35,386.6 329.66,386.6 329.98,386.6 330.29,386.6 330.6,386.6 330.92,386.6 331.23,386.6 331.54,386.6 331.86,386.6 332.17,386.6 332.48,386.6 332.8,386.6 333.11,386.6 333.42,386.6 333.74,386.6 334.05,386.6 334.36,386.6 334.68,386.6 334.99,386.6 335.3,386.6 335.62,386.6 335.93,386.6 336.25,386.6 336.56,386.6 336.87,386.6 337.19,386.6 337.5,386.6 337.81,386.6 338.13,386.6 338.44,386.6 338.75,386.6 339.07,386.6 339.38,386.6 339.69,386.6 340.01,386.6 340.32,386.6 340.63,386.6 340.95,386.6 341.26,386.6 341.57,386.6 341.89,386.6 342.2,386.6 342.51,386.6 342.83,386.6 343.14,386.6 343.46,386.6 343.77,386.6 344.08,386.6 344.4,386.6 344.71,386.6 345.02,386.6 345.34,386.6 345.65,386.6 345.96,386.6 346.28,386.6 346.59,386.6 346.9,386.6 347.22,386.6 347.53,386.6 347.84,386.6 348.16,386.6 348.47,386.6 348.79,386.6 349.1,386.59 349.41,386.55 349.73,386.48 350.04,386.4 350.35,386.3 350.67,386.19 350.98,386.06 351.29,385.94 351.61,385.8 351.92,385.62 352.23,385.38 352.55,385.1 352.86,384.76 353.17,384.39 353.49,383.97 353.8,383.51 354.11,383.02 354.43,382.5 354.74,381.95 355.06,381.38 355.37,380.79 355.68,380.17 356,379.55 356.31,379.27 356.62,378.63 356.94,377.79 357.25,376.9 357.56,376.59 357.88,375.92 358.19,375 358.5,374.36 358.82,373.97 359.13,373.32 359.44,372.47 359.76,371.84 360.07,371.57 360.38,370.75 360.7,370.24 361.01,369.47 361.32,368.96 361.64,368.16 361.95,368.02 362.27,367.23 362.58,366.15 362.89,366.14 363.21,365.15 363.52,364.47 363.83,363.68 364.15,362.96 364.46,362.12 364.77,361.95 365.09,360.93 365.4,360.67 365.71,360.09 366.03,359.2 366.34,358.9 366.65,357.74 366.97,356.93 367.28,356.72 367.6,356.31 367.91,355.32 368.22,354.54 368.54,353.95 368.85,353.5 369.16,352.71 369.48,352.41 369.79,351.57 370.1,351.33 370.42,350.58 370.73,349.56 371.04,349.45 371.36,348.94 371.67,348.08 371.98,347.59 372.3,346.8 372.61,346.3 372.92,345.68 373.24,344.94 373.55,344.3 373.87,343.59 374.18,343.51 374.49,342.88 374.81,342.34 375.12,341.55 375.43,341.37 375.75,340.41 376.06,340.36 376.37,339.65 376.69,339.11 377,338.31 377.31,337.73 377.63,337.82 377.94,336.91 378.25,336.34 378.57,335.94 378.88,335.97 379.19,335.29 379.51,334.79 379.82,334.66 380.13,334.09 380.45,333.58 380.76,332.86 381.08,332.58 381.39,331.84 381.7,331.87 382.02,331.06 382.33,330.7 382.64,329.99 382.96,329.87 383.27,329.33 383.58,328.82 383.9,328.54 384.21,328.73 384.52,328.29 384.84,327.8 385.15,327.46 385.46,327.31 385.78,327.05 386.09,326.98 386.4,326.71 386.72,326.68 387.03,326.88 387.35,327.17 387.66,326.62 387.97,326.77 388.29,327.06 388.6,327.07 388.91,327.3 389.23,327.38 389.54,327.05 389.85,327.25 390.17,327.27 390.48,327.54 390.79,327.59 391.11,327.42 391.42,327.82 391.73,328.09 392.05,328.12 392.36,328.17 392.68,328.8 392.99,328.84 393.3,328.95 393.62,328.64 393.93,329.12 394.24,329.35 394.56,329.48 394.87,329.65 395.18,329.86 395.5,330.1 395.81,329.64 396.12,330.47 396.44,330.1 396.75,330.36 397.06,330.86 397.38,331 397.69,330.53 398,331.03 398.32,331.31 398.63,331.46 398.94,331.6 399.26,331.26 399.57,331.85 399.89,331.49 400.2,331.95 400.51,332.11 400.83,331.98 401.14,331.93 401.45,332.11 401.77,332.69 402.08,332.64 402.39,332.86 402.71,332.89 403.02,332.88 403.33,333.26 403.65,332.82 403.96,332.88 404.27,333.47 404.59,333.11 404.9,333.73 405.21,333.92 405.53,333.56 405.84,334.16 406.16,333.97 406.47,334.16 406.78,334.29 407.1,334.4 407.41,334.73 407.72,334.83 408.04,335.38 408.35,335.56 408.66,335.48 408.98,335.25 409.29,335.93 409.6,336.16 409.92,335.8 410.23,336.68 410.54,336.43 410.86,337.04 411.17,337.06 411.49,336.8 411.8,337.49 412.11,337.19 412.43,337.49 412.74,337.93 413.05,338.41 413.37,338.62 413.68,338.56 413.99,338.83 414.31,338.93 414.62,339.25 414.93,339.59 415.25,339.96 415.56,339.91 415.87,339.76 416.19,340.43 416.5,340.17 416.81,340.43 417.13,340.79 417.44,341.24 417.75,341.34 418.07,341.71 418.38,342.05 418.7,342.26 419.01,342.56 419.32,342.84 419.64,343.16 419.95,343.32 420.26,343.12 420.58,343.5 420.89,343.59 421.2,344.54 421.52,344.33 421.83,344.88 422.14,345.07 422.46,344.95 422.77,345.65 423.08,345.58 423.4,346.55 423.71,346.28 424.02,346.87 424.34,346.94 424.65,347.45 424.97,347.42 425.28,348.11 425.59,347.97 425.91,348.49 426.22,348.64 426.53,349.32 426.85,349.27 427.16,349.68 427.47,350.22 427.79,350.3 428.1,350.42 428.41,350.86 428.73,351.32 429.04,351.31 429.35,352.05 429.67,352.37 429.98,352.7 430.3,352.53 430.61,353.44 430.92,353.49 431.24,353.73 431.55,354.15 431.86,354.6 432.18,354.82 432.49,354.99 432.8,355.31 433.12,355.26 433.43,355.97 433.74,356.13 434.06,356.07 434.37,356.78 434.68,356.82 435,357.02 435.31,357.89 435.62,358 435.94,357.79 436.25,358.36 436.56,358.96 436.88,359.26 437.19,359.55 437.51,359.27 437.82,360.15 438.13,359.95 438.45,360.39 438.76,360.44 439.07,360.96 439.39,361.52 439.7,361.98 440.01,361.71 440.33,362.62 440.64,362.59 440.95,362.83 441.27,363.06 441.58,363.9 441.89,364.36 442.21,364.69 442.52,364.96 442.83,365.52 443.15,365.41 443.46,365.69 443.78,366.25 444.09,366.3 444.4,367.08 444.72,367.17 445.03,367.49 445.34,368 445.66,367.72 445.97,368.12 446.28,368.74 446.6,369.01 446.91,368.85 447.22,369.26 447.54,370.02 447.85,370.09 448.16,370.54 448.48,370.73 448.79,370.65 449.11,371.21 449.42,371.02 449.73,371.93 450.05,371.55 450.36,372.47 450.67,372.28 450.99,372.4 451.3,372.64 451.61,373.37 451.93,372.99 452.24,373.7 452.55,373.72 452.87,373.69 453.18,374.2 453.49,374.53 453.81,374.71 454.12,374.55 454.43,375.2 454.75,375.23 455.06,375.7 455.38,375.8 455.69,376.2 456,375.73 456.32,376.5 456.63,376.71 456.94,377 457.26,377.09 457.57,376.76 457.88,377.16 458.2,377.69 458.51,377.46 458.82,377.49 459.14,378.09 459.45,377.89 459.76,378.36 460.08,378.4 460.39,378.14 460.7,378.28 461.02,378.39 461.33,379.03 461.64,378.81 461.96,378.95 462.27,378.95 462.59,379.22 462.9,379.19 463.21,379.27 463.53,379.92 463.84,380.05 464.15,380.02 464.47,379.77 464.78,379.96 465.09,380.12 465.41,380.43 465.72,380.56 466.03,380.42 466.35,380.45 466.66,380.36 466.97,381.11 467.29,380.79 467.6,380.9 467.91,380.93 468.23,381.2 468.54,381.16 468.86,381.21 469.17,381.78 469.48,381.4 469.8,382.04 470.11,381.53 470.42,382.08 470.74,382.12 471.05,382.33 471.36,382.47 471.68,382.72 471.99,382.49 472.3,382.67 472.62,382.99 472.93,382.61 473.24,383.49 473.56,383.35 473.87,383.62 474.18,383.86 474.5,383.81 474.81,384.08 475.13,384.49 475.44,384.46 475.75,384.35 476.07,384.65 476.38,385.26 476.69,384.71 477.01,385.48 477.32,385.4 477.63,385.53 477.95,385.36 478.26,385.53 478.57,385.81 478.89,385.62 479.2,386.25 479.51,386.18 479.83,386.41 480.14,386.6 480.45,386.34 480.77,386.16 481.08,386.6 481.4,386.33 481.71,386.6 482.02,386.6 482.34,386.6 482.65,386.6 482.96,386.6 483.28,386.6 483.59,386.6 483.9,386.6 484.22,386.6 484.53,386.6 484.84,386.6 485.16,386.6 485.47,386.6 485.78,386.6 486.1,386.6 486.41,386.6 486.72,386.6 487.04,386.6 487.35,386.6 487.67,386.6 487.98,386.6 488.29,386.6 488.61,386.6 488.92,386.6 489.23,386.6 489.55,386.6 489.86,386.6 490.17,386.6 490.49,386.6 490.8,386.6 491.11,386.6 491.43,386.6 491.74,386.6 492.05,386.6 492.37,386.6 492.68,386.6 493,386.6 493.31,386.6 493.62,386.6 493.94,386.6 494.25,386.6 494.56,386.6 494.88,386.6 495.19,386.6 495.5,386.6 495.82,386.6 496.13,386.6 496.44,386.6 496.76,386.6 497.07,386.6 497.38,386.6 497.7,386.6 498.01,386.6 498.32,386.6 498.64,386.6 498.95,386.6 499.26,386.6 499.58,386.6 499.89,386.6 500.21,386.6 500.52,386.6 500.83,386.6 501.15,386.6 501.46,386.6 501.77,386.6 502.09,386.6 502.4,386.6" fill="none" stroke="#a50b38" stroke-width="1.7" stroke-linejoin="round" stroke-dasharray="3.4 1.8 1.4 1.8 1.4 1.8"/>
</g>
<g clip-path="url(#cE)">
<polyline points="60.2,608.5 60.51,608.5 60.83,608.5 61.14,608.5 61.45,608.5 61.77,608.5 62.08,608.5 62.39,608.5 62.7,608.5 63.02,608.5 63.33,608.5 63.64,608.5 63.96,608.5 64.27,608.5 64.58,608.5 64.9,608.5 65.21,608.5 65.52,608.5 65.83,608.5 66.15,608.5 66.46,608.5 66.77,608.5 67.09,608.5 67.4,608.5 67.71,608.5 68.03,608.5 68.34,608.5 68.65,608.5 68.96,608.5 69.28,608.5 69.59,608.5 69.9,608.5 70.22,608.5 70.53,608.5 70.84,608.5 71.16,608.5 71.47,608.5 71.78,608.5 72.09,608.5 72.41,608.5 72.72,608.5 73.03,608.5 73.35,608.5 73.66,608.5 73.97,608.5 74.28,608.5 74.6,608.5 74.91,608.5 75.22,608.5 75.54,608.5 75.85,608.5 76.16,608.5 76.48,608.5 76.79,608.5 77.1,608.5 77.42,608.5 77.73,608.5 78.04,608.5 78.35,608.5 78.67,608.5 78.98,608.5 79.29,608.5 79.61,608.5 79.92,608.5 80.23,608.5 80.55,608.5 80.86,608.5 81.17,608.5 81.48,608.5 81.8,608.5 82.11,608.5 82.42,608.5 82.74,608.5 83.05,608.5 83.36,608.5 83.68,608.5 83.99,608.5 84.3,608.49 84.61,608.41 84.93,608.25 85.24,608.01 85.55,607.73 85.87,607.42 86.18,607.1 86.49,606.74 86.81,606.29 87.12,605.74 87.43,605.14 87.74,604.48 88.06,603.81 88.37,603.14 88.68,602.48 89,601.83 89.31,601.17 89.62,600.89 89.94,599.34 90.25,599.25 90.56,598.39 90.87,597.69 91.19,596.67 91.5,596.53 91.81,595.59 92.13,594.36 92.44,593.82 92.75,593.52 93.06,592.29 93.38,591.39 93.69,591.07 94,590.21 94.32,589.19 94.63,588.79 94.94,588 95.26,586.81 95.57,585.88 95.88,585.36 96.2,584.77 96.51,583.59 96.82,583.21 97.13,582.63 97.45,581.26 97.76,581.07 98.07,579.61 98.39,579.04 98.7,578.09 99.01,577.54 99.33,576.37 99.64,575.37 99.95,575.03 100.26,574.08 100.58,572.83 100.89,572.49 101.2,572.05 101.52,570.89 101.83,570.4 102.14,569.86 102.46,568.86 102.77,568.29 103.08,567.38 103.39,566.29 103.71,565.46 104.02,564.24 104.33,564.11 104.65,563.06 104.96,562.32 105.27,561.36 105.59,559.94 105.9,559.35 106.21,558.36 106.52,557.27 106.84,557.05 107.15,556.08 107.46,554.91 107.78,554.25 108.09,553.42 108.4,551.85 108.72,551.69 109.03,550.15 109.34,549.49 109.65,549.04 109.97,548.51 110.28,547.5 110.59,546.28 110.91,545.12 111.22,544.7 111.53,543.68 111.85,543.19 112.16,542.18 112.47,542.09 112.78,540.8 113.1,540.37 113.41,539.14 113.72,539.29 114.04,538.49 114.35,537.09 114.66,537.17 114.98,536.08 115.29,535.19 115.6,534.95 115.91,534.58 116.23,534.09 116.54,533.16 116.85,533.52 117.17,532.14 117.48,531.96 117.79,531.3 118.11,531.06 118.42,530.92 118.73,530.27 119.04,529.85 119.36,530.34 119.67,529.71 119.98,528.96 120.3,528.77 120.61,528.63 120.92,528.12 121.24,528.69 121.55,527.61 121.86,527.68 122.17,527.43 122.49,527.31 122.8,528.14 123.11,527.71 123.43,527.92 123.74,527.44 124.05,527.43 124.37,527.81 124.68,526.97 124.99,527.85 125.3,527.29 125.62,527.58 125.93,527.1 126.24,527.54 126.56,527.47 126.87,527.26 127.18,527.36 127.5,527.37 127.81,527.29 128.12,527.59 128.43,526.87 128.75,527.5 129.06,527.42 129.37,527.57 129.69,527.07 130,527.15 130.31,527.75 130.62,527.59 130.94,527.33 131.25,528.05 131.56,527.94 131.88,528.1 132.19,527.79 132.5,527.73 132.82,527.51 133.13,527.55 133.44,527.6 133.75,528.56 134.07,528.16 134.38,528.37 134.69,528.11 135.01,528 135.32,528.22 135.63,528.49 135.95,528.59 136.26,528.93 136.57,529.32 136.88,528.59 137.2,529.57 137.51,529.36 137.82,528.88 138.14,529.86 138.45,529.56 138.76,529.33 139.08,530.13 139.39,530.38 139.7,530.81 140.01,530.98 140.33,530.29 140.64,530.99 140.95,531.41 141.27,531.8 141.58,531.41 141.89,531.62 142.21,531.7 142.52,532.69 142.83,532.82 143.15,533.48 143.46,533.69 143.77,533.84 144.08,534.36 144.4,533.65 144.71,534.47 145.02,534.43 145.34,535.09 145.65,535.84 145.96,535.68 146.28,535.89 146.59,536.07 146.9,536.38 147.21,536.71 147.53,537.5 147.84,537.65 148.15,537.86 148.47,538.02 148.78,537.92 149.09,539.08 149.41,538.81 149.72,539.45 150.03,539.41 150.34,540.3 150.66,540.27 150.97,540.75 151.28,540.61 151.6,541.76 151.91,541.39 152.22,542.56 152.53,542.11 152.85,542.96 153.16,543.17 153.47,543.95 153.79,543.65 154.1,544.06 154.41,545.18 154.73,545.02 155.04,545.94 155.35,545.84 155.67,547.07 155.98,546.9 156.29,547.97 156.6,548.26 156.92,548.31 157.23,549.6 157.54,549.94 157.86,549.91 158.17,550.76 158.48,551.71 158.8,552.75 159.11,553.28 159.42,554.23 159.73,554.38 160.05,554.94 160.36,556.21 160.67,557.18 160.99,557.46 161.3,557.9 161.61,559.28 161.93,559.48 162.24,561.05 162.55,561.06 162.86,562.14 163.18,562.8 163.49,563.58 163.8,564.36 164.12,565.47 164.43,566.01 164.74,566.65 165.06,567.4 165.37,567.44 165.68,567.72 165.99,569.03 166.31,569.92 166.62,569.78 166.93,570.88 167.25,571.09 167.56,571.41 167.87,572.42 168.19,573.06 168.5,573.26 168.81,574.13 169.12,574.35 169.44,575.54 169.75,575.53 170.06,576.3 170.38,576.97 170.69,577.68 171,578.04 171.31,578.25 171.63,579.77 171.94,579.67 172.25,579.94 172.57,581.15 172.88,581.01 173.19,581.39 173.51,582.22 173.82,582.4 174.13,583.63 174.44,584.22 174.76,584.12 175.07,584.6 175.38,584.74 175.7,585.38 176.01,586.42 176.32,586.78 176.64,586.88 176.95,587.33 177.26,587.14 177.57,587.68 177.89,587.86 178.2,588.57 178.51,589.33 178.83,589.79 179.14,589.94 179.45,590.69 179.77,590.64 180.08,590.56 180.39,590.89 180.71,591.4 181.02,592.47 181.33,592.72 181.64,592.62 181.96,593.21 182.27,593.45 182.58,593.67 182.9,594.36 183.21,593.93 183.52,594.68 183.84,594.48 184.15,594.6 184.46,595.35 184.77,596.13 185.09,595.55 185.4,596.35 185.71,596.88 186.03,595.95 186.34,597.19 186.65,597.99 186.97,597.84 187.28,597.42 187.59,598.59 187.9,598.11 188.22,598.94 188.53,598.78 188.84,599.39 189.16,596.81 189.47,597.69 189.78,599.89 190.1,600.63 190.41,600.26 190.72,601.52 191.03,601.36 191.35,602.08 191.66,602.25 191.97,600.56 192.29,598.93 192.6,602.59 192.91,603.18 193.23,600.12 193.54,603.25 193.85,603.04 194.16,602.68 194.48,604.01 194.79,603.52 195.1,603.8 195.42,603.43 195.73,604.17 196.04,603.94 196.36,603.73 196.67,604.16 196.98,601.55 197.29,603.98 197.61,604.66 197.92,604.38 198.23,601.22 198.55,605.23 198.86,605.34 199.17,604.84 199.49,605.67 199.8,604.78 200.11,606.61 200.42,605.05 200.74,605.12 201.05,605.47 201.36,606.75 201.68,605.54 201.99,606.2 202.3,606.25 202.62,604.1 202.93,605.68 203.24,607.08 203.55,605.72 203.87,607.22 204.18,606.25 204.49,606.9 204.81,605.62 205.12,607.62 205.43,607.4 205.75,607.79 206.06,607.78 206.37,606.64 206.68,607.85 207,606.29 207.31,602.35 207.62,608.16 207.94,607.32 208.25,607.07 208.56,606.53 208.88,606.86 209.19,602.06 209.5,608.11 209.81,607.61 210.13,606.55 210.44,608.13 210.75,608.28 211.07,607.37 211.38,607.06 211.69,606.85 212,606.7 212.32,607.97 212.63,608.19 212.94,608.1 213.26,608.34 213.57,606.57 213.88,608.3 214.2,606.49 214.51,607.61 214.82,607.59 215.13,607.03 215.45,607.59 215.76,607.53 216.07,608.2 216.39,606.52 216.7,608.16 217.01,607.59 217.33,604.56 217.64,607.37 217.95,606.45 218.26,608.2 218.58,606.89 218.89,606.48 219.2,608.47 219.52,608.3 219.83,607.44 220.14,606.78 220.46,606.89 220.77,607.03 221.08,606.7 221.39,607.76 221.71,608.19 222.02,607.37 222.33,603.6 222.65,607.95 222.96,607.11 223.27,607.96 223.59,607.98 223.9,607.35 224.21,606.58 224.53,607.46 224.84,607.06 225.15,607.15 225.46,608.24 225.78,608.16 226.09,607.72 226.4,606.58 226.72,604.58 227.03,607.72 227.34,606.45 227.66,606.72 227.97,604.73 228.28,608.14 228.59,608.24 228.91,607.86 229.22,608.29 229.53,606.48 229.85,607.62 230.16,606.58 230.47,607.46 230.79,607.45 231.1,606.53 231.41,607.76 231.72,607.1 232.04,607.1 232.35,608.01 232.66,603.7 232.98,604.71 233.29,606.8 233.6,606.94 233.92,606.84 234.23,601.93 234.54,607.39 234.85,608.44 235.17,608.07 235.48,607.11 235.79,607.69 236.11,608.03 236.42,606.17 236.73,606.78 237.05,607.68 237.36,608.03 237.67,607.29 237.98,608.41 238.3,607.49 238.61,606.29 238.92,606.86 239.24,607.47 239.55,607.88 239.86,606.92 240.18,606.53 240.49,607.54 240.8,607.93 241.11,606.33 241.43,606.54 241.74,606.76 242.05,605.26 242.37,607.59 242.68,606.92 242.99,607.92 243.31,607.57 243.62,606.92 243.93,607.03 244.24,606.81 244.56,607.14 244.87,608.37 245.18,607.58 245.5,606.7 245.81,607.53 246.12,601.16 246.44,605.25 246.75,607.93 247.06,606.29 247.37,606.7 247.69,599.97 248,607.6" fill="none" stroke="#a50b38" stroke-width="1.7" stroke-linejoin="round"/>
<polyline points="60.2,608.5 60.51,608.5 60.83,608.5 61.14,608.5 61.45,608.5 61.77,608.5 62.08,608.5 62.39,608.5 62.7,608.5 63.02,608.5 63.33,608.5 63.64,608.5 63.96,608.5 64.27,608.5 64.58,608.5 64.9,608.5 65.21,608.5 65.52,608.5 65.83,608.5 66.15,608.5 66.46,608.5 66.77,608.5 67.09,608.5 67.4,608.5 67.71,608.5 68.03,608.5 68.34,608.5 68.65,608.5 68.96,608.5 69.28,608.5 69.59,608.5 69.9,608.5 70.22,608.5 70.53,608.5 70.84,608.5 71.16,608.5 71.47,608.5 71.78,608.5 72.09,608.5 72.41,608.5 72.72,608.5 73.03,608.5 73.35,608.5 73.66,608.5 73.97,608.5 74.28,608.5 74.6,608.5 74.91,608.5 75.22,608.5 75.54,608.5 75.85,608.5 76.16,608.5 76.48,608.5 76.79,608.5 77.1,608.5 77.42,608.5 77.73,608.5 78.04,608.5 78.35,608.5 78.67,608.5 78.98,608.5 79.29,608.5 79.61,608.5 79.92,608.5 80.23,608.5 80.55,608.5 80.86,608.5 81.17,608.5 81.48,608.5 81.8,608.5 82.11,608.5 82.42,608.5 82.74,608.5 83.05,608.49 83.36,608.41 83.68,608.24 83.99,608 84.3,607.72 84.61,607.4 84.93,607.07 85.24,606.71 85.55,606.24 85.87,605.69 86.18,605.07 86.49,604.4 86.81,603.71 87.12,603.03 87.43,602.36 87.74,601.7 88.06,601.02 88.37,600.33 88.68,599.64 89,598.93 89.31,598.21 89.62,597.16 89.94,596.47 90.25,596.06 90.56,595.25 90.87,594.46 91.19,593.87 91.5,592.93 91.81,592.24 92.13,591.25 92.44,590.21 92.75,589.42 93.06,588.81 93.38,588.01 93.69,587.46 94,586.3 94.32,585.3 94.63,585.34 94.94,584.24 95.26,582.84 95.57,582.97 95.88,581.64 96.2,580.61 96.51,579.67 96.82,579.09 97.13,578.72 97.45,577.94 97.76,576.71 98.07,575.72 98.39,575.49 98.7,574.53 99.01,573.74 99.33,572.59 99.64,571.55 99.95,571 100.26,570.46 100.58,568.96 100.89,568.88 101.2,568.04 101.52,566.56 101.83,565.7 102.14,565.42 102.46,564.6 102.77,563.77 103.08,563.24 103.39,562.32 103.71,561.39 104.02,560.11 104.33,559.55 104.65,558.83 104.96,557.29 105.27,556.72 105.59,555.62 105.9,554.44 106.21,553.75 106.52,553.21 106.84,551.79 107.15,551.39 107.46,549.95 107.78,549.59 108.09,548.68 108.4,547.73 108.72,547.09 109.03,545.53 109.34,544.74 109.65,544.49 109.97,543.4 110.28,542.59 110.59,541.98 110.91,540.96 111.22,540.36 111.53,539.85 111.85,538.75 112.16,537.86 112.47,537.18 112.78,536.75 113.1,536.29 113.41,535.85 113.72,534.42 114.04,534.32 114.35,533.49 114.66,533.43 114.98,532.95 115.29,531.73 115.6,531.15 115.91,530.97 116.23,530.47 116.54,529.65 116.85,530.15 117.17,529.6 117.48,529.02 117.79,528.17 118.11,528.66 118.42,527.88 118.73,528.18 119.04,527.91 119.36,527.2 119.67,526.69 119.98,526.85 120.3,526.86 120.61,526.52 120.92,525.96 121.24,525.75 121.55,525.77 121.86,526.11 122.17,525.97 122.49,526.4 122.8,526.16 123.11,525.63 123.43,525.5 123.74,525.82 124.05,525.88 124.37,525.39 124.68,526.01 124.99,526.05 125.3,526.3 125.62,525.77 125.93,526.17 126.24,525.98 126.56,525.67 126.87,525.94 127.18,525.54 127.5,525.82 127.81,525.68 128.12,525.62 128.43,526.07 128.75,525.29 129.06,526.02 129.37,525.41 129.69,525.82 130,526.02 130.31,525.9 130.62,526.17 130.94,525.67 131.25,525.31 131.56,525.63 131.88,525.97 132.19,525.45 132.5,526.05 132.82,526.32 133.13,525.93 133.44,525.63 133.75,526.26 134.07,525.63 134.38,526.39 134.69,525.96 135.01,526.43 135.32,526.76 135.63,525.99 135.95,526.32 136.26,526.77 136.57,526.89 136.88,527.01 137.2,526.67 137.51,526.91 137.82,526.71 138.14,527.36 138.45,527.55 138.76,527.63 139.08,527.35 139.39,527.62 139.7,527.99 140.01,527.88 140.33,528.3 140.64,527.66 140.95,528.27 141.27,528.55 141.58,528.86 141.89,528.44 142.21,528.57 142.52,529.67 142.83,529.89 143.15,529.62 143.46,529.83 143.77,529.89 144.08,530.58 144.4,530.99 144.71,531.03 145.02,530.93 145.34,531.6 145.65,531.99 145.96,532.24 146.28,532.48 146.59,532.47 146.9,532.98 147.21,533.7 147.53,533.89 147.84,534.41 148.15,534.53 148.47,534.17 148.78,535.08 149.09,535.3 149.41,535.78 149.72,535.88 150.03,535.94 150.34,535.98 150.66,536.75 150.97,536.69 151.28,537.72 151.6,537.43 151.91,538.59 152.22,538.64 152.53,538.91 152.85,539.13 153.16,539.32 153.47,539.43 153.79,539.89 154.1,540.39 154.41,541.22 154.73,541.68 155.04,541.9 155.35,542.39 155.67,542.65 155.98,542.78 156.29,543.65 156.6,544.18 156.92,543.85 157.23,545.2 157.54,545.15 157.86,545.49 158.17,545.83 158.48,546.85 158.8,547.19 159.11,547.34 159.42,548.33 159.73,548.64 160.05,549.45 160.36,550.32 160.67,550.78 160.99,551.14 161.3,552.26 161.61,552.7 161.93,554.04 162.24,554.71 162.55,554.92 162.86,555.63 163.18,557.19 163.49,557.37 163.8,558.23 164.12,559.35 164.43,559.89 164.74,561.23 165.06,561.67 165.37,561.82 165.68,562.83 165.99,563.5 166.31,564.28 166.62,565.11 166.93,565.18 167.25,566.37 167.56,567.05 167.87,567.79 168.19,568.05 168.5,569.07 168.81,569.52 169.12,570.41 169.44,570.81 169.75,571.82 170.06,571.5 170.38,572.75 170.69,572.71 171,574.01 171.31,574.31 171.63,574.54 171.94,575.67 172.25,576.1 172.57,576.7 172.88,576.8 173.19,577.9 173.51,578.01 173.82,578.57 174.13,578.99 174.44,579.79 174.76,580.77 175.07,581.35 175.38,581.04 175.7,581.54 176.01,582.53 176.32,583.26 176.64,583.12 176.95,583.93 177.26,584.56 177.57,584.28 177.89,585.15 178.2,585.98 178.51,586.54 178.83,586.06 179.14,586.93 179.45,587.78 179.77,587.75 180.08,587.7 180.39,588.47 180.71,589.26 181.02,589.14 181.33,589.22 181.64,589.49 181.96,590.69 182.27,590.56 182.58,590.86 182.9,591.33 183.21,591.39 183.52,591.63 183.84,592.08 184.15,592.38 184.46,593.09 184.77,593.29 185.09,593.79 185.4,593.31 185.71,593.89 186.03,594.2 186.34,594.86 186.65,594.64 186.97,595.21 187.28,595.67 187.59,595.68 187.9,595.93 188.22,595.04 188.53,596.44 188.84,597.64 189.16,597.3 189.47,596.89 189.78,598.43 190.1,598.7 190.41,598.39 190.72,599.05 191.03,599.68 191.35,599.08 191.66,599.09 191.97,600.31 192.29,599.49 192.6,600.93 192.91,601.3 193.23,598.48 193.54,601.36 193.85,600.77 194.16,601.82 194.48,602.73 194.79,603.13 195.1,603.35 195.42,602.36 195.73,603.82 196.04,602.44 196.36,603.23 196.67,600.67 196.98,603.53 197.29,603.44 197.61,604.37 197.92,603.25 198.23,604.82 198.55,605.06 198.86,604.25 199.17,604.19 199.49,604.88 199.8,601.33 200.11,605.14 200.42,605.42 200.74,604.66 201.05,604.57 201.36,605.92 201.68,604.68 201.99,603.99 202.3,606.02 202.62,605.31 202.93,604.5 203.24,605.95 203.55,603.52 203.87,605.33 204.18,606.23 204.49,607.24 204.81,606.54 205.12,606.32 205.43,607.37 205.75,607.45 206.06,607.52 206.37,607.57 206.68,603.67 207,605.99 207.31,607.66 207.62,606.48 207.94,607.15 208.25,607.79 208.56,606.42 208.88,606.84 209.19,606.7 209.5,607.84 209.81,604.89 210.13,606.8 210.44,606.94 210.75,606.74 211.07,607.08 211.38,608.41 211.69,606.44 212,607.05 212.32,607.26 212.63,606.9 212.94,607.35 213.26,607.18 213.57,605.31 213.88,608.3 214.2,608.36 214.51,606.54 214.82,607 215.13,607.81 215.45,607.21 215.76,607.13 216.07,608.42 216.39,606.71 216.7,608.35 217.01,606.64 217.33,608.29 217.64,608.02 217.95,607.72 218.26,606.98 218.58,607.3 218.89,606.66 219.2,607.89 219.52,608.28 219.83,606.88 220.14,606.5 220.46,606.77 220.77,608.04 221.08,607.5 221.39,608.05 221.71,606.54 222.02,607.82 222.33,607.83 222.65,607.17 222.96,608.17 223.27,606.36 223.59,608.3 223.9,608.3 224.21,607.94 224.53,608.37 224.84,602 225.15,607.23 225.46,608.18 225.78,608.18 226.09,607.24 226.4,606.92 226.72,607.56 227.03,607.08 227.34,607.67 227.66,606.77 227.97,605.29 228.28,607.54 228.59,606.94 228.91,608 229.22,606.75 229.53,607.55 229.85,607.72 230.16,607.68 230.47,607.17 230.79,607.08 231.1,608 231.41,607.36 231.72,607.25 232.04,607.35 232.35,608.18 232.66,608.1 232.98,606.95 233.29,608.15 233.6,608.03 233.92,607.42 234.23,606.78 234.54,606.3 234.85,607.21 235.17,608.17 235.48,603.65 235.79,602.05 236.11,606.97 236.42,606.82 236.73,605.16 237.05,607.84 237.36,607.66 237.67,607.54 237.98,602.4 238.3,601.66 238.61,607.94 238.92,603.4 239.24,606.34 239.55,606.83 239.86,606.65 240.18,607.52 240.49,607.62 240.8,606.38 241.11,606.27 241.43,608.03 241.74,607.32 242.05,606.47 242.37,606.8 242.68,606.97 242.99,606.99 243.31,607.6 243.62,606.96 243.93,608.41 244.24,608.35 244.56,608.47 244.87,608.3 245.18,606.78 245.5,606.6 245.81,608.02 246.12,606.77 246.44,608.15 246.75,601.48 247.06,606.64 247.37,606.49 247.69,607.93 248,608.41" fill="none" stroke="#a50b38" stroke-width="1.7" stroke-linejoin="round" stroke-dasharray="3.6 2"/>
<polyline points="60.2,608.5 60.51,608.5 60.83,608.5 61.14,608.5 61.45,608.5 61.77,608.5 62.08,608.5 62.39,608.5 62.7,608.5 63.02,608.5 63.33,608.5 63.64,608.5 63.96,608.5 64.27,608.5 64.58,608.5 64.9,608.5 65.21,608.5 65.52,608.5 65.83,608.5 66.15,608.5 66.46,608.5 66.77,608.5 67.09,608.5 67.4,608.5 67.71,608.5 68.03,608.5 68.34,608.5 68.65,608.5 68.96,608.5 69.28,608.5 69.59,608.5 69.9,608.5 70.22,608.5 70.53,608.5 70.84,608.5 71.16,608.5 71.47,608.5 71.78,608.5 72.09,608.5 72.41,608.5 72.72,608.5 73.03,608.5 73.35,608.5 73.66,608.5 73.97,608.5 74.28,608.5 74.6,608.5 74.91,608.5 75.22,608.5 75.54,608.5 75.85,608.5 76.16,608.5 76.48,608.5 76.79,608.5 77.1,608.5 77.42,608.5 77.73,608.5 78.04,608.5 78.35,608.5 78.67,608.5 78.98,608.5 79.29,608.5 79.61,608.5 79.92,608.5 80.23,608.5 80.55,608.5 80.86,608.5 81.17,608.5 81.48,608.5 81.8,608.5 82.11,608.5 82.42,608.5 82.74,608.5 83.05,608.5 83.36,608.5 83.68,608.5 83.99,608.5 84.3,608.5 84.61,608.5 84.93,608.5 85.24,608.5 85.55,608.5 85.87,608.5 86.18,608.49 86.49,608.41 86.81,608.25 87.12,608.03 87.43,607.75 87.74,607.45 88.06,607.13 88.37,606.79 88.68,606.34 89,605.81 89.31,605.22 89.62,604.4 89.94,604.24 90.25,602.79 90.56,602.27 90.87,602.07 91.19,601.77 91.5,600.3 91.81,600.08 92.13,599.21 92.44,599 92.75,598.31 93.06,597.46 93.38,596.31 93.69,595.52 94,595.19 94.32,594.17 94.63,593.45 94.94,592.72 95.26,592.5 95.57,591.07 95.88,590.82 96.2,589.54 96.51,588.86 96.82,587.93 97.13,587.85 97.45,586.96 97.76,585.55 98.07,585.57 98.39,584.28 98.7,583.96 99.01,583.32 99.33,582.2 99.64,581.37 99.95,580.06 100.26,579.73 100.58,579.08 100.89,578.06 101.2,577.74 101.52,576.9 101.83,575.33 102.14,574.7 102.46,573.74 102.77,573.92 103.08,572.23 103.39,571.56 103.71,571.04 104.02,569.9 104.33,569.14 104.65,568.41 104.96,568.53 105.27,567.18 105.59,565.96 105.9,565.79 106.21,564.5 106.52,563.81 106.84,562.98 107.15,562.17 107.46,561.74 107.78,561.03 108.09,559.96 108.4,558.51 108.72,558.41 109.03,557.58 109.34,556.41 109.65,555.23 109.97,554.8 110.28,553.48 110.59,552.56 110.91,552.14 111.22,550.88 111.53,550.51 111.85,549.59 112.16,548.27 112.47,547.67 112.78,546.82 113.1,545.84 113.41,545.66 113.72,545.24 114.04,543.9 114.35,543.44 114.66,542.21 114.98,541.42 115.29,541.21 115.6,540.05 115.91,539.95 116.23,538.92 116.54,538.29 116.85,537.74 117.17,537.42 117.48,536.42 117.79,536.24 118.11,536.19 118.42,535.74 118.73,535.01 119.04,534.51 119.36,533.78 119.67,533.26 119.98,533.32 120.3,532.67 120.61,532.7 120.92,532.46 121.24,531.74 121.55,531.4 121.86,531.15 122.17,531.5 122.49,530.31 122.8,530.25 123.11,529.87 123.43,529.6 123.74,530.31 124.05,529.74 124.37,530.15 124.68,529.63 124.99,529.29 125.3,529.6 125.62,530.05 125.93,529.42 126.24,529.15 126.56,529.2 126.87,529.08 127.18,529.91 127.5,529.08 127.81,529.58 128.12,529.74 128.43,529.53 128.75,529.82 129.06,529.6 129.37,529.31 129.69,529.86 130,529.69 130.31,529.68 130.62,529.13 130.94,529.01 131.25,529.29 131.56,528.92 131.88,529.71 132.19,528.91 132.5,529.02 132.82,529.7 133.13,529.5 133.44,529.56 133.75,529.61 134.07,529.09 134.38,529.78 134.69,529.7 135.01,529.89 135.32,529.5 135.63,529.62 135.95,529.4 136.26,529.5 136.57,529.45 136.88,530 137.2,530.23 137.51,529.92 137.82,530.49 138.14,530.56 138.45,530.01 138.76,530.18 139.08,530.88 139.39,530.98 139.7,530.26 140.01,530.35 140.33,530.48 140.64,530.72 140.95,531.22 141.27,530.99 141.58,531.68 141.89,531.36 142.21,531.71 142.52,531.49 142.83,532.23 143.15,532.35 143.46,532.51 143.77,532.8 144.08,532.35 144.4,532.23 144.71,532.57 145.02,533.24 145.34,533.04 145.65,533.68 145.96,533.94 146.28,534.57 146.59,534.4 146.9,534.51 147.21,535.19 147.53,535.74 147.84,536.04 148.15,535.35 148.47,536.35 148.78,536.01 149.09,536.81 149.41,537.17 149.72,536.93 150.03,537.94 150.34,537.86 150.66,538.29 150.97,538 151.28,538.65 151.6,538.83 151.91,539.77 152.22,539.78 152.53,540.06 152.85,540.74 153.16,540.28 153.47,540.44 153.79,540.91 154.1,541.32 154.41,542.02 154.73,542.38 155.04,542.96 155.35,543.24 155.67,543.55 155.98,543.51 156.29,544.16 156.6,544.33 156.92,545.18 157.23,544.76 157.54,545.96 157.86,545.64 158.17,546.62 158.48,546.95 158.8,547.47 159.11,547.73 159.42,547.6 159.73,548.23 160.05,549.08 160.36,548.95 160.67,550.19 160.99,550.51 161.3,550.96 161.61,551.81 161.93,552.36 162.24,552.94 162.55,552.94 162.86,554.33 163.18,554.21 163.49,555.26 163.8,556.24 164.12,557.21 164.43,557.09 164.74,557.98 165.06,558.95 165.37,559.37 165.68,560.83 165.99,561.52 166.31,562.41 166.62,562.68 166.93,564.02 167.25,563.82 167.56,565.34 167.87,565.54 168.19,566.42 168.5,566.78 168.81,567.97 169.12,568.49 169.44,569.28 169.75,569.58 170.06,569.92 170.38,570.4 170.69,571.04 171,571.62 171.31,572.65 171.63,572.59 171.94,573.58 172.25,574.02 172.57,575.04 172.88,575.25 173.19,576.3 173.51,576.87 173.82,576.51 174.13,577.55 174.44,577.73 174.76,579.04 175.07,579.07 175.38,580.1 175.7,580.55 176.01,581 176.32,580.88 176.64,581.47 176.95,582.61 177.26,582.28 177.57,583.34 177.89,583.69 178.2,584.4 178.51,584.37 178.83,585.28 179.14,584.91 179.45,586.16 179.77,586.43 180.08,587.06 180.39,587.54 180.71,587.32 181.02,587.78 181.33,588.07 181.64,588.64 181.96,589.38 182.27,589.08 182.58,589.09 182.9,589.8 183.21,590.64 183.52,590.82 183.84,590.74 184.15,591.04 184.46,591.12 184.77,591.8 185.09,591.79 185.4,591.97 185.71,593.05 186.03,593.7 186.34,593 186.65,594.53 186.97,594.21 187.28,594.47 187.59,594.93 187.9,595.31 188.22,595.5 188.53,596.17 188.84,596.4 189.16,596.34 189.47,595.89 189.78,596.95 190.1,596.62 190.41,597.68 190.72,596.75 191.03,597.77 191.35,597.56 191.66,598.06 191.97,594.27 192.29,599.32 192.6,599.22 192.91,599.83 193.23,597.29 193.54,599.71 193.85,599.53 194.16,599.95 194.48,601.6 194.79,600.39 195.1,600.31 195.42,602.11 195.73,601.38 196.04,601.94 196.36,602.89 196.67,603.16 196.98,601.91 197.29,602.87 197.61,603.09 197.92,603.22 198.23,602.53 198.55,599.52 198.86,604.29 199.17,600.58 199.49,603.93 199.8,604.31 200.11,605.12 200.42,604.44 200.74,605.22 201.05,605.01 201.36,605.73 201.68,605.02 201.99,604.62 202.3,605.04 202.62,605.26 202.93,604.53 203.24,604.93 203.55,604.14 203.87,606.03 204.18,606.23 204.49,606.49 204.81,606.27 205.12,602.14 205.43,605.45 205.75,605.87 206.06,606.92 206.37,601.26 206.68,607.09 207,605.56 207.31,606.76 207.62,607.54 207.94,606.7 208.25,606.46 208.56,607.46 208.88,606.4 209.19,607.34 209.5,607.13 209.81,606.07 210.13,606.7 210.44,607.34 210.75,606.37 211.07,607.64 211.38,606.71 211.69,607.63 212,606.67 212.32,607.1 212.63,607.53 212.94,606.6 213.26,607.38 213.57,608.31 213.88,607.92 214.2,608.26 214.51,607.29 214.82,607.14 215.13,606.7 215.45,607.09 215.76,607.25 216.07,606.7 216.39,606.76 216.7,607.63 217.01,606.46 217.33,607.48 217.64,607.16 217.95,607.39 218.26,607.37 218.58,608.24 218.89,607.24 219.2,602.89 219.52,606.82 219.83,608.38 220.14,603.94 220.46,607.66 220.77,606.92 221.08,606.8 221.39,607.17 221.71,606.81 222.02,605.94 222.33,607.49 222.65,607.78 222.96,607.65 223.27,606.55 223.59,608.03 223.9,606.83 224.21,607.96 224.53,607.12 224.84,608.35 225.15,607.02 225.46,606.89 225.78,606.81 226.09,602.44 226.4,606.7 226.72,607.33 227.03,608.22 227.34,608.39 227.66,606.9 227.97,607.32 228.28,608 228.59,606.49 228.91,607.3 229.22,606.7 229.53,607.09 229.85,607.01 230.16,604.22 230.47,602.32 230.79,607.69 231.1,608.21 231.41,607.03 231.72,607.13 232.04,601.13 232.35,607.86 232.66,607.7 232.98,607.95 233.29,607.59 233.6,607.7 233.92,607.86 234.23,606.63 234.54,602.99 234.85,607.2 235.17,608.44 235.48,607.87 235.79,607.29 236.11,607.98 236.42,606.66 236.73,606.81 237.05,607.03 237.36,601.49 237.67,607.98 237.98,606.79 238.3,607.23 238.61,607.3 238.92,607.28 239.24,608.3 239.55,607.64 239.86,606.39 240.18,606.48 240.49,608.21 240.8,606.63 241.11,606.72 241.43,607.44 241.74,605.71 242.05,603.43 242.37,602.88 242.68,607.5 242.99,606.65 243.31,607.23 243.62,608.24 243.93,607.41 244.24,606.38 244.56,607.78 244.87,607.83 245.18,606.74 245.5,606.34 245.81,606.23 246.12,608.4 246.44,608.19 246.75,606.47 247.06,606.16 247.37,608.36 247.69,606.66 248,607.12" fill="none" stroke="#a50b38" stroke-width="1.7" stroke-linejoin="round" stroke-dasharray="3.4 1.8 1.4 1.8 1.4 1.8"/>
<polyline points="60.2,608.5 60.51,608.5 60.83,608.5 61.14,608.5 61.45,608.5 61.77,608.5 62.08,608.5 62.39,608.5 62.7,608.5 63.02,608.5 63.33,608.5 63.64,608.5 63.96,608.5 64.27,608.5 64.58,608.5 64.9,608.5 65.21,608.5 65.52,608.5 65.83,608.5 66.15,608.5 66.46,608.5 66.77,608.5 67.09,608.5 67.4,608.5 67.71,608.5 68.03,608.5 68.34,608.5 68.65,608.5 68.96,608.5 69.28,608.5 69.59,608.5 69.9,608.5 70.22,608.5 70.53,608.5 70.84,608.5 71.16,608.5 71.47,608.5 71.78,608.5 72.09,608.5 72.41,608.5 72.72,608.5 73.03,608.5 73.35,608.5 73.66,608.5 73.97,608.5 74.28,608.5 74.6,608.5 74.91,608.5 75.22,608.5 75.54,608.5 75.85,608.5 76.16,608.5 76.48,608.5 76.79,608.5 77.1,608.5 77.42,608.5 77.73,608.5 78.04,608.5 78.35,608.5 78.67,608.5 78.98,608.5 79.29,608.5 79.61,608.5 79.92,608.5 80.23,608.5 80.55,608.5 80.86,608.5 81.17,608.5 81.48,608.5 81.8,608.5 82.11,608.5 82.42,608.5 82.74,608.5 83.05,608.45 83.36,608.31 83.68,608.1 83.99,607.84 84.3,607.54 84.61,607.21 84.93,606.87 85.24,606.41 85.55,605.83 85.87,605.17 86.18,604.44 86.49,603.68 86.81,602.92 87.12,602.2 87.43,601.49 87.74,600.77 88.06,600.05 88.37,599.32 88.68,598.58 89,597.83 89.31,597.08 89.62,596.53 89.94,595.63 90.25,594.6 90.56,593.61 90.87,593.21 91.19,592.21 91.5,591.29 91.81,590.96 92.13,589.67 92.44,589.34 92.75,587.94 93.06,587.3 93.38,586.97 93.69,585.98 94,585.42 94.32,584.64 94.63,583.7 94.94,582.24 95.26,581.45 95.57,580.6 95.88,580.57 96.2,578.96 96.51,578.71 96.82,577.82 97.13,577.01 97.45,576.05 97.76,574.68 98.07,574.22 98.39,573.88 98.7,572.84 99.01,571.66 99.33,571.3 99.64,570.7 99.95,569.18 100.26,568.69 100.58,567.72 100.89,566.92 101.2,566.11 101.52,565.38 101.83,565.1 102.14,563.41 102.46,562.87 102.77,561.92 103.08,561.8 103.39,560.64 103.71,559.93 104.02,559.64 104.33,558.43 104.65,557.62 104.96,556.45 105.27,556.56 105.59,555.11 105.9,554.24 106.21,553.33 106.52,552.64 106.84,552.7 107.15,551.81 107.46,550.96 107.78,550.27 108.09,549.37 108.4,548.19 108.72,547.68 109.03,547.33 109.34,546.16 109.65,545.18 109.97,544.83 110.28,543.78 110.59,543.63 110.91,542.54 111.22,541.81 111.53,541.29 111.85,540.28 112.16,539.21 112.47,538.8 112.78,538.68 113.1,537.91 113.41,537.05 113.72,536.5 114.04,535.84 114.35,535.03 114.66,534.49 114.98,533.8 115.29,532.7 115.6,532.67 115.91,531.26 116.23,530.6 116.54,530.76 116.85,529.67 117.17,528.74 117.48,528.26 117.79,527.37 118.11,527 118.42,527.11 118.73,525.88 119.04,525.54 119.36,524.9 119.67,524.24 119.98,523.45 120.3,523.27 120.61,522.82 120.92,522.69 121.24,521.65 121.55,521.89 121.86,521 122.17,521.2 122.49,520.31 122.8,520.23 123.11,519.6 123.43,519.07 123.74,519.46 124.05,519.2 124.37,518.78 124.68,518.37 124.99,518.39 125.3,517.81 125.62,517.22 125.93,517.45 126.24,517.34 126.56,516.64 126.87,517.42 127.18,516.58 127.5,517.19 127.81,516.61 128.12,517.21 128.43,517.3 128.75,517.01 129.06,517.7 129.37,517.11 129.69,517.32 130,517.41 130.31,518.14 130.62,517.83 130.94,518.27 131.25,518.88 131.56,519.12 131.88,519 132.19,518.85 132.5,519.34 132.82,520.31 133.13,520.08 133.44,520.31 133.75,521.42 134.07,521.62 134.38,521.71 134.69,521.67 135.01,522.6 135.32,522.89 135.63,523.5 135.95,523.74 136.26,524.21 136.57,524.39 136.88,524.31 137.2,525.34 137.51,525.43 137.82,525.39 138.14,526.68 138.45,526.69 138.76,526.58 139.08,527.08 139.39,527.41 139.7,527.54 140.01,528.36 140.33,528.74 140.64,529.22 140.95,529.16 141.27,529.69 141.58,529.56 141.89,529.99 142.21,529.88 142.52,530.45 142.83,530.79 143.15,531.08 143.46,531.77 143.77,531.77 144.08,531.83 144.4,532.31 144.71,532.24 145.02,532.68 145.34,532.6 145.65,533.07 145.96,533.42 146.28,533.64 146.59,534.61 146.9,534.65 147.21,535.1 147.53,534.92 147.84,535.4 148.15,535.55 148.47,536.06 148.78,535.94 149.09,536.8 149.41,537.2 149.72,537.53 150.03,537.43 150.34,537.75 150.66,538.35 150.97,538.54 151.28,539.03 151.6,538.98 151.91,539.45 152.22,539.67 152.53,539.81 152.85,540.52 153.16,541.07 153.47,541.13 153.79,541.78 154.1,541.75 154.41,542.48 154.73,542.92 155.04,542.71 155.35,543.21 155.67,543.44 155.98,544.14 156.29,544.22 156.6,545.09 156.92,545.17 157.23,545.73 157.54,546.92 157.86,546.88 158.17,547.88 158.48,548.48 158.8,548.88 159.11,549.77 159.42,550.71 159.73,551.36 160.05,551.92 160.36,551.84 160.67,553.06 160.99,553.98 161.3,554.01 161.61,555.04 161.93,555.77 162.24,556.55 162.55,557.49 162.86,557.95 163.18,558.89 163.49,559.07 163.8,560.51 164.12,561.21 164.43,561.82 164.74,562.36 165.06,562.41 165.37,563.56 165.68,564.18 165.99,564.93 166.31,564.58 166.62,565.83 166.93,566.01 167.25,566.58 167.56,567.84 167.87,568.21 168.19,568.51 168.5,569.74 168.81,569.77 169.12,570.75 169.44,570.93 169.75,571.38 170.06,571.98 170.38,572.54 170.69,573.56 171,574.03 171.31,574.38 171.63,574.91 171.94,575.31 172.25,576.11 172.57,576.58 172.88,577.57 173.19,577.45 173.51,578.59 173.82,579.39 174.13,579.21 174.44,580.5 174.76,580.27 175.07,581.03 175.38,581.68 175.7,581.99 176.01,582.08 176.32,582.71 176.64,583.21 176.95,584.12 177.26,584.62 177.57,584.84 177.89,585.13 178.2,585.88 178.51,586.53 178.83,587.14 179.14,587.59 179.45,587.58 179.77,587.98 180.08,588.09 180.39,589.3 180.71,589.13 181.02,589.21 181.33,590.42 181.64,590.53 181.96,590.36 182.27,591.08 182.58,591.89 182.9,591.93 183.21,592.52 183.52,591.96 183.84,592.3 184.15,593.04 184.46,593.5 184.77,593.87 185.09,594.54 185.4,594.03 185.71,594.51 186.03,594.78 186.34,596 186.65,595.55 186.97,595.63 187.28,596.18 187.59,596.21 187.9,596.74 188.22,597.63 188.53,597.5 188.84,597.79 189.16,597.97 189.47,597.42 189.78,598.22 190.1,596.73 190.41,599.72 190.72,600.28 191.03,599.26 191.35,600.52 191.66,600.69 191.97,600.18 192.29,597.15 192.6,601.27 192.91,600.72 193.23,601.19 193.54,602.6 193.85,602.96 194.16,601.7 194.48,602.21 194.79,603.5 195.1,602.66 195.42,603.84 195.73,603.87 196.04,603.75 196.36,603.88 196.67,604.08 196.98,603.32 197.29,603.67 197.61,601.52 197.92,604.11 198.23,604.98 198.55,604 198.86,603.53 199.17,605.31 199.49,605.76 199.8,604.71 200.11,606.05 200.42,604.79 200.74,605.6 201.05,605.2 201.36,604.36 201.68,606.2 201.99,606.95 202.3,605.39 202.62,605.4 202.93,605.89 203.24,606.43 203.55,604.72 203.87,606.56 204.18,606.99 204.49,607.08 204.81,606.25 205.12,605.89 205.43,607.45 205.75,606.8 206.06,602.61 206.37,606.61 206.68,607.71 207,606.35 207.31,606.6 207.62,607.57 207.94,606.42 208.25,606.75 208.56,607.33 208.88,607.5 209.19,607.75 209.5,607.61 209.81,607.57 210.13,602.94 210.44,607.37 210.75,607.88 211.07,608.4 211.38,608.18 211.69,607.31 212,607.31 212.32,608.1 212.63,603.33 212.94,606.83 213.26,607.91 213.57,607.99 213.88,606.69 214.2,607.74 214.51,607.19 214.82,607.69 215.13,607.17 215.45,607.64 215.76,608.42 216.07,606.99 216.39,607.15 216.7,607.7 217.01,607.86 217.33,607.64 217.64,608.36 217.95,607.99 218.26,607.85 218.58,607.26 218.89,607.02 219.2,606.65 219.52,607.43 219.83,608.01 220.14,607.54 220.46,607.34 220.77,607.82 221.08,608.3 221.39,608.07 221.71,604.4 222.02,608.25 222.33,608.49 222.65,607.59 222.96,606.84 223.27,607.34 223.59,607.71 223.9,606.89 224.21,607.29 224.53,607.15 224.84,607.49 225.15,606.89 225.46,606.62 225.78,606.4 226.09,607.79 226.4,607.2 226.72,607.75 227.03,606.89 227.34,606.49 227.66,607.99 227.97,608.17 228.28,606.9 228.59,606.66 228.91,606.4 229.22,608.34 229.53,608.17 229.85,606.44 230.16,607.01 230.47,607.32 230.79,602.9 231.1,606.5 231.41,606.67 231.72,607.31 232.04,606.6 232.35,605.12 232.66,607.33 232.98,606.79 233.29,607.33 233.6,607.16 233.92,608.49 234.23,608.18 234.54,607.24 234.85,607.92 235.17,607.03 235.48,607.14 235.79,607.39 236.11,608.4 236.42,607.9 236.73,608.02 237.05,607.77 237.36,606.55 237.67,607.95 237.98,607.82 238.3,606.68 238.61,606.58 238.92,606.08 239.24,606.71 239.55,602.23 239.86,606.56 240.18,607.41 240.49,607.8 240.8,608.46 241.11,608.42 241.43,608.07 241.74,606.89 242.05,607.63 242.37,607.4 242.68,606.28 242.99,607.47 243.31,607.94 243.62,605.29 243.93,607.41 244.24,604.99 244.56,607.18 244.87,601.83 245.18,607.82 245.5,608.23 245.81,606.37 246.12,607.06 246.44,607.55 246.75,608.25 247.06,606.8 247.37,606.86 247.69,607.63 248,606.35" fill="none" stroke="#a50b38" stroke-width="1.7" stroke-linejoin="round" stroke-dasharray="1.6 1.8"/>
</g>
<g clip-path="url(#cF)">
<polyline points="314.3,608.5 314.61,608.5 314.93,608.5 315.24,608.5 315.55,608.5 315.86,608.5 316.18,608.5 316.49,608.5 316.8,608.5 317.12,608.5 317.43,608.5 317.74,608.5 318.05,608.5 318.37,608.5 318.68,608.5 318.99,608.5 319.31,608.5 319.62,608.5 319.93,608.5 320.24,608.5 320.56,608.5 320.87,608.5 321.18,608.5 321.5,608.5 321.81,608.5 322.12,608.5 322.43,608.5 322.75,608.5 323.06,608.5 323.37,608.5 323.69,608.5 324,608.5 324.31,608.5 324.62,608.5 324.94,608.5 325.25,608.5 325.56,608.5 325.87,608.5 326.19,608.5 326.5,608.5 326.81,608.5 327.13,608.5 327.44,608.5 327.75,608.5 328.06,608.5 328.38,608.5 328.69,608.5 329,608.5 329.32,608.5 329.63,608.5 329.94,608.5 330.25,608.5 330.57,608.5 330.88,608.5 331.19,608.5 331.51,608.5 331.82,608.5 332.13,608.5 332.44,608.5 332.76,608.5 333.07,608.5 333.38,608.5 333.7,608.5 334.01,608.5 334.32,608.5 334.63,608.5 334.95,608.5 335.26,608.5 335.57,608.5 335.89,608.5 336.2,608.5 336.51,608.5 336.82,608.5 337.14,608.5 337.45,608.5 337.76,608.5 338.08,608.5 338.39,608.5 338.7,608.5 339.01,608.5 339.33,608.5 339.64,608.5 339.95,608.5 340.27,608.5 340.58,608.47 340.89,608.31 341.2,608.05 341.52,607.71 341.83,607.32 342.14,606.9 342.45,606.48 342.77,606.01 343.08,605.44 343.39,604.8 343.71,604.55 344.02,603.22 344.33,602.22 344.64,601.89 344.96,600.96 345.27,600.08 345.58,600.1 345.9,598.46 346.21,597.88 346.52,597.54 346.83,596.69 347.15,595.25 347.46,594.44 347.77,593.73 348.09,592.86 348.4,592 348.71,591.96 349.02,590.76 349.34,590.24 349.65,588.66 349.96,588.66 350.28,587.16 350.59,586.8 350.9,586.51 351.21,585.01 351.53,584.59 351.84,583.98 352.15,583.54 352.47,582.75 352.78,581.62 353.09,581.39 353.4,580.9 353.72,580.25 354.03,578.89 354.34,578.62 354.66,578.01 354.97,576.92 355.28,576.24 355.59,576.49 355.91,575.47 356.22,574.36 356.53,573.91 356.85,573.13 357.16,572.68 357.47,571.52 357.78,570.69 358.1,570.03 358.41,569.04 358.72,568.47 359.04,567.34 359.35,566.57 359.66,565.52 359.97,564.83 360.29,564.1 360.6,563.42 360.91,562.16 361.23,561.81 361.54,560.73 361.85,559.58 362.16,558.24 362.48,557.2 362.79,556.21 363.1,555.65 363.41,554.25 363.73,553.69 364.04,552.72 364.35,551.09 364.67,550.64 364.98,548.56 365.29,548.05 365.6,546.4 365.92,546.06 366.23,544.33 366.54,543.52 366.86,542.36 367.17,541.77 367.48,540.98 367.79,540.19 368.11,539.67 368.42,538.54 368.73,537.4 369.05,537.19 369.36,536.49 369.67,536.27 369.98,535.34 370.3,535.08 370.61,534.05 370.92,533.32 371.24,532.76 371.55,532.37 371.86,532.2 372.17,531.45 372.49,531.25 372.8,530.75 373.11,531.03 373.43,530.41 373.74,529.82 374.05,529.75 374.36,529.63 374.68,529.02 374.99,528.4 375.3,528.28 375.62,528.63 375.93,528.22 376.24,528.46 376.55,527.94 376.87,527.81 377.18,527.98 377.49,527.25 377.81,527.91 378.12,527.8 378.43,527.17 378.74,527.24 379.06,527.54 379.37,527.13 379.68,527.74 380,527.16 380.31,526.97 380.62,526.96 380.93,527.11 381.25,527.42 381.56,527.22 381.87,527.91 382.18,527.32 382.5,527.71 382.81,527.95 383.12,527.59 383.44,527.92 383.75,528.02 384.06,528.33 384.37,528.76 384.69,528.63 385,528.51 385.31,528.99 385.63,528.98 385.94,528.49 386.25,528.95 386.56,528.8 386.88,528.47 387.19,528.62 387.5,528.98 387.82,528.98 388.13,529.35 388.44,529.54 388.75,529.74 389.07,529.33 389.38,529.88 389.69,529.64 390.01,530.11 390.32,529.54 390.63,530.04 390.94,530.09 391.26,529.79 391.57,530.45 391.88,530.67 392.2,530.48 392.51,530.59 392.82,530.13 393.13,530.97 393.45,531.03 393.76,530.76 394.07,531.09 394.39,531.59 394.7,531.33 395.01,531.2 395.32,531.26 395.64,532.03 395.95,532.13 396.26,532.38 396.58,532.2 396.89,532.44 397.2,532.59 397.51,532.71 397.83,532.84 398.14,533.22 398.45,534.07 398.76,534.39 399.08,534.64 399.39,534.98 399.7,534.38 400.02,534.85 400.33,535.79 400.64,535.36 400.95,536.17 401.27,536.26 401.58,536.78 401.89,536.79 402.21,537.41 402.52,538.12 402.83,538.07 403.14,539.02 403.46,538.94 403.77,539.48 404.08,540.12 404.4,540.47 404.71,540.53 405.02,541.16 405.33,542.31 405.65,542.55 405.96,542.6 406.27,543.24 406.59,543.66 406.9,544.76 407.21,544.69 407.52,545.21 407.84,546.69 408.15,546.59 408.46,547.68 408.78,548.44 409.09,548.54 409.4,549.32 409.71,550.16 410.03,550.44 410.34,551.09 410.65,551.82 410.97,552.55 411.28,554.01 411.59,554.63 411.9,554.97 412.22,555.74 412.53,556.62 412.84,556.68 413.16,557.38 413.47,557.77 413.78,558.37 414.09,559.13 414.41,559.92 414.72,560.9 415.03,561.87 415.35,562.09 415.66,562.35 415.97,563.73 416.28,563.98 416.6,564.81 416.91,565.14 417.22,565.99 417.54,567.16 417.85,567.36 418.16,568.02 418.47,568.7 418.79,569.12 419.1,570.1 419.41,570.46 419.72,571.31 420.04,571.92 420.35,572.53 420.66,572.96 420.98,574.04 421.29,574.12 421.6,575.16 421.91,575.31 422.23,575.89 422.54,577.1 422.85,576.93 423.17,578.34 423.48,578.62 423.79,579.22 424.1,580.23 424.42,580.04 424.73,581.46 425.04,581.94 425.36,582.14 425.67,582.53 425.98,583.28 426.29,583.37 426.61,584.38 426.92,584.44 427.23,585.77 427.55,585.86 427.86,586.48 428.17,587.03 428.48,587.51 428.8,587.64 429.11,588.81 429.42,588.99 429.74,589.11 430.05,589.71 430.36,590.21 430.67,590.15 430.99,590.63 431.3,590.93 431.61,591.49 431.93,592.22 432.24,592.18 432.55,592.46 432.86,593.31 433.18,593.47 433.49,593.63 433.8,594.28 434.12,594.75 434.43,594.82 434.74,594.79 435.05,595.36 435.37,596.21 435.68,595.93 435.99,596.88 436.31,596.62 436.62,597 436.93,597.36 437.24,597.56 437.56,596.8 437.87,598.59 438.18,597.87 438.49,599.16 438.81,599.31 439.12,599.02 439.43,598.47 439.75,600.4 440.06,599.49 440.37,599.88 440.68,600.76 441,599.74 441.31,600.42 441.62,601.11 441.94,601.85 442.25,601.62 442.56,599.22 442.87,602.05 443.19,601.33 443.5,603.02 443.81,602.41 444.13,602.75 444.44,603.34 444.75,603.22 445.06,603.53 445.38,602.85 445.69,603.49 446,603.97 446.32,603.7 446.63,604.2 446.94,604.02 447.25,603.84 447.57,603.6 447.88,605.07 448.19,605.48 448.51,604.62 448.82,604.19 449.13,605.33 449.44,604.58 449.76,604.5 450.07,605.42 450.38,606.05 450.7,606.13 451.01,606.18 451.32,600.97 451.63,606.62 451.95,605.14 452.26,606.73 452.57,604.23 452.89,605.37 453.2,607.03 453.51,606.08 453.82,606.11 454.14,606.21 454.45,606.43 454.76,607.29 455.07,606.05 455.39,607.63 455.7,605.84 456.01,606.15 456.33,606.14 456.64,606.05 456.95,607.35 457.26,606.74 457.58,607.4 457.89,607.65 458.2,606.87 458.52,605.9 458.83,608.05 459.14,606.91 459.45,606.58 459.77,606.34 460.08,606.39 460.39,606.7 460.71,607.6 461.02,606.88 461.33,607.3 461.64,608.28 461.96,607.71 462.27,606.86 462.58,608.44 462.9,608.13 463.21,607.16 463.52,607.23 463.83,606.83 464.15,608.42 464.46,606.89 464.77,608.38 465.09,606.53 465.4,607.5 465.71,607.57 466.02,608 466.34,608.41 466.65,600.99 466.96,606.9 467.28,608.18 467.59,607.36 467.9,608.21 468.21,608.14 468.53,608.29 468.84,606.71 469.15,607.26 469.47,608.47 469.78,608.37 470.09,608.25 470.4,607.42 470.72,607.49 471.03,608.39 471.34,604.13 471.66,607.31 471.97,608.45 472.28,607.19 472.59,606.81 472.91,608.3 473.22,608.34 473.53,608.28 473.85,603.84 474.16,606.77 474.47,607.8 474.78,608.21 475.1,606.89 475.41,607.17 475.72,604.08 476.03,605.58 476.35,604.1 476.66,606.99 476.97,608.13 477.29,606.58 477.6,606.98 477.91,607.78 478.22,606.62 478.54,608.13 478.85,607.75 479.16,607.31 479.48,606.42 479.79,608.09 480.1,602.19 480.41,607.42 480.73,607.95 481.04,607 481.35,606.52 481.67,608.33 481.98,606.4 482.29,606.74 482.6,608.35 482.92,606.56 483.23,607.71 483.54,607.98 483.86,607.63 484.17,607.67 484.48,607.15 484.79,606.96 485.11,607.34 485.42,606.76 485.73,605.75 486.05,608.24 486.36,608.08 486.67,607.24 486.98,607.84 487.3,606.72 487.61,607.91 487.92,607.22 488.24,608.3 488.55,606.74 488.86,607.31 489.17,607.93 489.49,606.99 489.8,607.46 490.11,606.54 490.43,606.87 490.74,606.39 491.05,606.44 491.36,608.29 491.68,607.91 491.99,604.03 492.3,607.79 492.62,607.13 492.93,608.13 493.24,607.7 493.55,608.29 493.87,608.46 494.18,606.68 494.49,608.4 494.8,608.46 495.12,607.15 495.43,606.37 495.74,606.82 496.06,602.88 496.37,606.41 496.68,608.49 496.99,606.51 497.31,607.52 497.62,608.17 497.93,608.12 498.25,606.37 498.56,608.34 498.87,607.87 499.18,606.57 499.5,607.28 499.81,606.48 500.12,608.1 500.44,606.22 500.75,607.31 501.06,607.53 501.37,608.49 501.69,607.69 502,606.38" fill="none" stroke="#a50b38" stroke-width="1.7" stroke-linejoin="round"/>
<polyline points="314.3,608.5 314.61,608.5 314.93,608.5 315.24,608.5 315.55,608.5 315.86,608.5 316.18,608.5 316.49,608.5 316.8,608.5 317.12,608.5 317.43,608.5 317.74,608.5 318.05,608.5 318.37,608.5 318.68,608.5 318.99,608.5 319.31,608.5 319.62,608.5 319.93,608.5 320.24,608.5 320.56,608.5 320.87,608.5 321.18,608.5 321.5,608.5 321.81,608.5 322.12,608.5 322.43,608.5 322.75,608.5 323.06,608.5 323.37,608.5 323.69,608.5 324,608.5 324.31,608.5 324.62,608.5 324.94,608.5 325.25,608.5 325.56,608.5 325.87,608.5 326.19,608.5 326.5,608.5 326.81,608.5 327.13,608.5 327.44,608.5 327.75,608.5 328.06,608.5 328.38,608.5 328.69,608.5 329,608.5 329.32,608.5 329.63,608.5 329.94,608.5 330.25,608.5 330.57,608.5 330.88,608.5 331.19,608.5 331.51,608.5 331.82,608.5 332.13,608.5 332.44,608.5 332.76,608.5 333.07,608.5 333.38,608.5 333.7,608.5 334.01,608.5 334.32,608.5 334.63,608.5 334.95,608.5 335.26,608.5 335.57,608.5 335.89,608.5 336.2,608.5 336.51,608.5 336.82,608.5 337.14,608.5 337.45,608.5 337.76,608.5 338.08,608.5 338.39,608.5 338.7,608.5 339.01,608.5 339.33,608.5 339.64,608.5 339.95,608.47 340.27,608.31 340.58,608.05 340.89,607.71 341.2,607.32 341.52,606.9 341.83,606.48 342.14,606.01 342.45,605.45 342.77,604.81 343.08,604.12 343.39,603.41 343.71,602.95 344.02,601.72 344.33,601.47 344.64,600.63 344.96,599.23 345.27,599.06 345.58,598.16 345.9,596.83 346.21,596.33 346.52,595.08 346.83,594.96 347.15,593.71 347.46,592.92 347.77,591.78 348.09,591.01 348.4,590.03 348.71,589.9 349.02,588.22 349.34,588.24 349.65,587.28 349.96,586.57 350.28,585.25 350.59,585.09 350.9,584.37 351.21,583.11 351.53,583.17 351.84,582.26 352.15,581.62 352.47,580.27 352.78,579.57 353.09,579.3 353.4,578.33 353.72,577.83 354.03,576.93 354.34,577.03 354.66,576.08 354.97,575.1 355.28,574.83 355.59,574.24 355.91,572.94 356.22,571.79 356.53,571.6 356.85,570.95 357.16,569.98 357.47,569.22 357.78,568.25 358.1,567.04 358.41,566.41 358.72,565.21 359.04,564.83 359.35,563.25 359.66,562.99 359.97,561.9 360.29,560.74 360.6,559.63 360.91,558.77 361.23,557.99 361.54,556.82 361.85,556.35 362.16,555.43 362.48,554.2 362.79,553.46 363.1,551.71 363.41,550.58 363.73,549.46 364.04,548.95 364.35,547.11 364.67,546.82 364.98,545.25 365.29,544.37 365.6,542.61 365.92,542.3 366.23,541.03 366.54,539.71 366.86,538.83 367.17,538.4 367.48,537.05 367.79,536.33 368.11,535.83 368.42,534.74 368.73,533.94 369.05,533.11 369.36,532.84 369.67,532.36 369.98,531.63 370.3,530.76 370.61,530.73 370.92,530.1 371.24,529.19 371.55,528.48 371.86,527.68 372.17,527.88 372.49,526.78 372.8,526.25 373.11,526.23 373.43,525.24 373.74,525.56 374.05,524.37 374.36,524.48 374.68,523.74 374.99,523.86 375.3,522.8 375.62,523.22 375.93,522.49 376.24,522.4 376.55,522 376.87,521.62 377.18,521.2 377.49,521.03 377.81,521.44 378.12,520.63 378.43,520.75 378.74,520.16 379.06,520.95 379.37,520.07 379.68,520.4 380,520.19 380.31,520.39 380.62,520.51 380.93,520.48 381.25,520.16 381.56,519.56 381.87,519.98 382.18,519.75 382.5,520.52 382.81,520.71 383.12,520.51 383.44,520.36 383.75,521.12 384.06,521.09 384.37,521.37 384.69,521.64 385,521.33 385.31,521.65 385.63,521.86 385.94,522.29 386.25,522.21 386.56,522.38 386.88,523.47 387.19,523.23 387.5,523.24 387.82,523.72 388.13,524.71 388.44,524.22 388.75,524.9 389.07,524.9 389.38,526.01 389.69,526.22 390.01,526.4 390.32,526.35 390.63,526.56 390.94,527.19 391.26,526.8 391.57,527.08 391.88,527.45 392.2,528.37 392.51,528.17 392.82,528.06 393.13,528.16 393.45,528.37 393.76,529.09 394.07,529.72 394.39,529.77 394.7,529.79 395.01,529.68 395.32,530.23 395.64,529.96 395.95,530.73 396.26,530.62 396.58,531.18 396.89,531.22 397.2,531.05 397.51,531.47 397.83,531.46 398.14,532.04 398.45,532.15 398.76,532.87 399.08,532.78 399.39,532.5 399.7,533.18 400.02,533.11 400.33,533.7 400.64,533.57 400.95,534.42 401.27,534.65 401.58,534.9 401.89,534.82 402.21,534.7 402.52,535.73 402.83,535.03 403.14,536.14 403.46,535.76 403.77,536.79 404.08,536.4 404.4,536.9 404.71,537.85 405.02,537.98 405.33,538.44 405.65,538.25 405.96,539.24 406.27,539.79 406.59,540.12 406.9,540.3 407.21,540.58 407.52,541.09 407.84,541.21 408.15,541.97 408.46,542.18 408.78,542.94 409.09,543.74 409.4,544.03 409.71,544.2 410.03,544.69 410.34,545.71 410.65,546.19 410.97,546.16 411.28,546.28 411.59,546.94 411.9,547.75 412.22,548.02 412.53,549.09 412.84,549.21 413.16,549.62 413.47,549.94 413.78,550.54 414.09,551.04 414.41,551.98 414.72,552.31 415.03,552.71 415.35,553.5 415.66,554.49 415.97,555.05 416.28,555.47 416.6,555.76 416.91,556.79 417.22,557 417.54,558.41 417.85,559.02 418.16,559.69 418.47,559.64 418.79,560.26 419.1,561.28 419.41,561.8 419.72,562.05 420.04,563.48 420.35,564.06 420.66,564.29 420.98,564.58 421.29,565.17 421.6,565.79 421.91,566.33 422.23,567.19 422.54,567.74 422.85,568.72 423.17,568.67 423.48,569.6 423.79,570.48 424.1,570.47 424.42,571.72 424.73,571.9 425.04,572.59 425.36,572.72 425.67,573.97 425.98,573.73 426.29,574.45 426.61,575.58 426.92,575.49 427.23,576.68 427.55,577.25 427.86,577.16 428.17,577.92 428.48,578.39 428.8,579.25 429.11,579.07 429.42,579.62 429.74,579.82 430.05,581.22 430.36,581.28 430.67,581.71 430.99,582.12 431.3,582.53 431.61,583.28 431.93,583.92 432.24,584.01 432.55,584.04 432.86,585.03 433.18,585.08 433.49,585.2 433.8,585.97 434.12,586.64 434.43,586.61 434.74,587.58 435.05,587.14 435.37,587.75 435.68,588.57 435.99,588.63 436.31,589.54 436.62,589.79 436.93,589.84 437.24,590.1 437.56,590.02 437.87,590.81 438.18,590.88 438.49,591 438.81,591.68 439.12,591.74 439.43,591.71 439.75,591.76 440.06,592.79 440.37,590.57 440.68,593.01 441,593.8 441.31,593.48 441.62,593.29 441.94,594.22 442.25,593.98 442.56,594.66 442.87,592.09 443.19,594.99 443.5,594.65 443.81,595.59 444.13,596.24 444.44,595.48 444.75,596.15 445.06,597.13 445.38,596.32 445.69,597.43 446,597.19 446.32,596.55 446.63,597.69 446.94,597.38 447.25,598.27 447.57,598.26 447.88,598.12 448.19,599.11 448.51,598.46 448.82,598.78 449.13,599.89 449.44,600.14 449.76,599.54 450.07,599.68 450.38,600.19 450.7,601.1 451.01,601.06 451.32,600.48 451.63,601.19 451.95,600.77 452.26,601.86 452.57,601.69 452.89,603.11 453.2,601.96 453.51,598.6 453.82,603.03 454.14,602.36 454.45,600.39 454.76,601.81 455.07,603.86 455.39,604.27 455.7,603.27 456.01,603.65 456.33,605.27 456.64,604.53 456.95,603.67 457.26,605.34 457.58,605.79 457.89,603.86 458.2,605.76 458.52,605.68 458.83,604.36 459.14,604.85 459.45,604.65 459.77,605.75 460.08,606.19 460.39,605.89 460.71,606.37 461.02,603.53 461.33,605.29 461.64,606.07 461.96,606.26 462.27,606.43 462.58,606.12 462.9,606.53 463.21,606.05 463.52,607.25 463.83,606.8 464.15,606.18 464.46,606.16 464.77,607.71 465.09,605.88 465.4,606.45 465.71,606.43 466.02,607.98 466.34,607.88 466.65,606.92 466.96,608.07 467.28,607.02 467.59,606.78 467.9,607.52 468.21,607.08 468.53,607.75 468.84,607.77 469.15,608.34 469.47,607.28 469.78,608.35 470.09,606.66 470.4,608.15 470.72,608.1 471.03,607.15 471.34,607.78 471.66,607.4 471.97,608.13 472.28,606.54 472.59,608.37 472.91,608.42 473.22,606.83 473.53,606.59 473.85,607.92 474.16,607.76 474.47,606.65 474.78,607.91 475.1,607.21 475.41,608.31 475.72,606.76 476.03,607.58 476.35,604.13 476.66,607.59 476.97,607.82 477.29,607.51 477.6,606.55 477.91,606.91 478.22,607.9 478.54,607.95 478.85,606.55 479.16,606.96 479.48,606.48 479.79,606.98 480.1,606.62 480.41,607.95 480.73,607.23 481.04,608.33 481.35,606.99 481.67,606.94 481.98,607.86 482.29,607.94 482.6,608.48 482.92,605.71 483.23,607.29 483.54,608.3 483.86,606.42 484.17,607 484.48,608.08 484.79,607.23 485.11,603.12 485.42,608.14 485.73,607.35 486.05,607.61 486.36,608.28 486.67,607.53 486.98,602.21 487.3,606.53 487.61,606.62 487.92,606.39 488.24,607.12 488.55,607.51 488.86,601.29 489.17,604.98 489.49,607.98 489.8,606.5 490.11,608.34 490.43,608.45 490.74,608.11 491.05,606.74 491.36,607.24 491.68,606.47 491.99,606.51 492.3,607.32 492.62,605.55 492.93,608.16 493.24,606.7 493.55,606.93 493.87,608.44 494.18,607 494.49,602.88 494.8,603.17 495.12,607.76 495.43,607.21 495.74,608.32 496.06,608.14 496.37,607.71 496.68,607.18 496.99,606.92 497.31,607.9 497.62,603.61 497.93,601.03 498.25,608.27 498.56,607.46 498.87,607.18 499.18,606.6 499.5,606.72 499.81,608.08 500.12,608.02 500.44,606.49 500.75,606.85 501.06,606.55 501.37,601.53 501.69,608.04 502,604.83" fill="none" stroke="#a50b38" stroke-width="1.7" stroke-linejoin="round" stroke-dasharray="3.6 2"/>
<polyline points="314.3,608.5 314.61,608.5 314.93,608.5 315.24,608.5 315.55,608.5 315.86,608.5 316.18,608.5 316.49,608.5 316.8,608.5 317.12,608.5 317.43,608.5 317.74,608.5 318.05,608.5 318.37,608.5 318.68,608.5 318.99,608.5 319.31,608.5 319.62,608.5 319.93,608.5 320.24,608.5 320.56,608.5 320.87,608.5 321.18,608.5 321.5,608.5 321.81,608.5 322.12,608.5 322.43,608.5 322.75,608.5 323.06,608.5 323.37,608.5 323.69,608.5 324,608.5 324.31,608.5 324.62,608.5 324.94,608.5 325.25,608.5 325.56,608.5 325.87,608.5 326.19,608.5 326.5,608.5 326.81,608.5 327.13,608.5 327.44,608.5 327.75,608.5 328.06,608.5 328.38,608.5 328.69,608.5 329,608.5 329.32,608.5 329.63,608.5 329.94,608.5 330.25,608.5 330.57,608.5 330.88,608.5 331.19,608.5 331.51,608.5 331.82,608.5 332.13,608.5 332.44,608.5 332.76,608.5 333.07,608.5 333.38,608.5 333.7,608.5 334.01,608.5 334.32,608.5 334.63,608.5 334.95,608.5 335.26,608.5 335.57,608.5 335.89,608.5 336.2,608.5 336.51,608.5 336.82,608.5 337.14,608.5 337.45,608.5 337.76,608.5 338.08,608.5 338.39,608.5 338.7,608.5 339.01,608.5 339.33,608.5 339.64,608.5 339.95,608.5 340.27,608.5 340.58,608.5 340.89,608.5 341.2,608.47 341.52,608.31 341.83,608.05 342.14,607.71 342.45,607.32 342.77,606.9 343.08,606.48 343.39,606.01 343.71,605.92 344.02,604.48 344.33,604.41 344.64,603.42 344.96,603.05 345.27,601.86 345.58,601.5 345.9,600.42 346.21,600.22 346.52,599.45 346.83,597.84 347.15,597.69 347.46,596.91 347.77,596.09 348.09,594.78 348.4,594.31 348.71,593.4 349.02,592.34 349.34,591.62 349.65,590.44 349.96,589.69 350.28,588.67 350.59,588.39 350.9,587.68 351.21,587.2 351.53,586.16 351.84,585.55 352.15,584.95 352.47,583.95 352.78,583.12 353.09,583.13 353.4,581.88 353.72,581.36 354.03,580.55 354.34,580.53 354.66,579.36 354.97,578.31 355.28,577.93 355.59,577.15 355.91,576.68 356.22,576.06 356.53,575.14 356.85,574.43 357.16,574.42 357.47,573.53 357.78,572.64 358.1,571.43 358.41,570.47 358.72,570.17 359.04,569.21 359.35,568.92 359.66,567.91 359.97,567.04 360.29,565.46 360.6,564.6 360.91,564.59 361.23,563.58 361.54,561.95 361.85,560.9 362.16,560.53 362.48,559.16 362.79,558.41 363.1,557.32 363.41,556.73 363.73,555.85 364.04,554.37 364.35,553.68 364.67,552.06 364.98,551.45 365.29,550.12 365.6,548.73 365.92,547.85 366.23,547.23 366.54,546.2 366.86,544.73 367.17,543.66 367.48,542.23 367.79,542 368.11,540.62 368.42,540.22 368.73,539.62 369.05,538.84 369.36,537.78 369.67,537.52 369.98,536.24 370.3,535.69 370.61,535.39 370.92,534.67 371.24,533.88 371.55,533.52 371.86,532.98 372.17,533.15 372.49,532 372.8,532.22 373.11,531.13 373.43,531.15 373.74,531.34 374.05,530.62 374.36,530.55 374.68,530.17 374.99,529.8 375.3,529.6 375.62,529.4 375.93,528.94 376.24,529.32 376.55,529.02 376.87,528.65 377.18,528.09 377.49,527.81 377.81,528.49 378.12,528.01 378.43,527.83 378.74,527.93 379.06,527.41 379.37,527.08 379.68,527.45 380,527.07 380.31,527.42 380.62,527.03 380.93,526.8 381.25,526.63 381.56,526.71 381.87,526.99 382.18,526.77 382.5,527.26 382.81,527.6 383.12,527.18 383.44,526.87 383.75,527.52 384.06,527.08 384.37,527.72 384.69,527.79 385,528 385.31,528.05 385.63,527.59 385.94,527.76 386.25,527.91 386.56,528.12 386.88,527.65 387.19,528.31 387.5,527.89 387.82,528.56 388.13,528.57 388.44,528.13 388.75,528.25 389.07,528.84 389.38,528.91 389.69,528.16 390.01,528.47 390.32,528.62 390.63,528.97 390.94,528.68 391.26,529.34 391.57,529.09 391.88,529.05 392.2,528.92 392.51,529.19 392.82,529.83 393.13,529.95 393.45,529.93 393.76,529.64 394.07,530.33 394.39,530.26 394.7,530.68 395.01,531 395.32,531.08 395.64,530.82 395.95,531.48 396.26,531.57 396.58,531.93 396.89,531.75 397.2,531.57 397.51,532.22 397.83,531.9 398.14,532.23 398.45,532.57 398.76,532.67 399.08,533.42 399.39,533.33 399.7,533.23 400.02,534.13 400.33,533.63 400.64,534.07 400.95,534.13 401.27,535.21 401.58,534.49 401.89,535.59 402.21,535.85 402.52,535.38 402.83,535.93 403.14,536.62 403.46,536.42 403.77,537.37 404.08,537.23 404.4,537.44 404.71,538.45 405.02,538.44 405.33,538.95 405.65,539.15 405.96,539.24 406.27,540.53 406.59,540.55 406.9,540.91 407.21,541.81 407.52,541.83 407.84,542.57 408.15,542.71 408.46,543.37 408.78,543.68 409.09,543.51 409.4,544.7 409.71,544.86 410.03,545.25 410.34,546.17 410.65,546.11 410.97,546.91 411.28,546.95 411.59,548.15 411.9,548.46 412.22,549.42 412.53,549.3 412.84,550.06 413.16,550.49 413.47,551.4 413.78,551.15 414.09,552.24 414.41,552.73 414.72,553.56 415.03,554.36 415.35,554.06 415.66,554.78 415.97,555.86 416.28,556.11 416.6,556.71 416.91,557.39 417.22,558.39 417.54,558.88 417.85,559.58 418.16,560.21 418.47,560.77 418.79,560.84 419.1,561.86 419.41,561.88 419.72,562.97 420.04,563.95 420.35,563.68 420.66,564.92 420.98,565.72 421.29,565.64 421.6,566.69 421.91,567.02 422.23,567.36 422.54,568.38 422.85,569.22 423.17,569.14 423.48,570.24 423.79,570.88 424.1,571.37 424.42,571.78 424.73,572.59 425.04,573.31 425.36,573.52 425.67,574.1 425.98,575.04 426.29,575.38 426.61,575.65 426.92,576.19 427.23,576.8 427.55,577.35 427.86,577.74 428.17,577.98 428.48,578.39 428.8,579.71 429.11,579.65 429.42,580.11 429.74,580.29 430.05,581.43 430.36,581.34 430.67,582.25 430.99,582.97 431.3,583.14 431.61,583.22 431.93,583.99 432.24,584.66 432.55,584.54 432.86,585.19 433.18,585.61 433.49,586.28 433.8,586.52 434.12,587.22 434.43,587.69 434.74,587.91 435.05,588.2 435.37,588.23 435.68,589.01 435.99,589.53 436.31,590.01 436.62,589.8 436.93,590.11 437.24,590.8 437.56,590.45 437.87,591.17 438.18,590.92 438.49,591.45 438.81,591.99 439.12,592.53 439.43,592.67 439.75,592.67 440.06,592.18 440.37,592.51 440.68,593.44 441,593.89 441.31,594.18 441.62,594.51 441.94,592.37 442.25,594.42 442.56,594.72 442.87,594.99 443.19,594.88 443.5,594.39 443.81,595.94 444.13,596.4 444.44,595.93 444.75,595.85 445.06,596.27 445.38,597.28 445.69,597.27 446,597.31 446.32,597.85 446.63,595.8 446.94,597.71 447.25,598.13 447.57,599.38 447.88,599.01 448.19,599.8 448.51,599.79 448.82,598.49 449.13,599.8 449.44,599.04 449.76,600.82 450.07,601.33 450.38,599.09 450.7,601.37 451.01,600.52 451.32,600.84 451.63,602.2 451.95,602.78 452.26,600.04 452.57,602.6 452.89,601.94 453.2,602.64 453.51,602.15 453.82,602.42 454.14,604.28 454.45,604.45 454.76,603.86 455.07,604.01 455.39,603.54 455.7,604.69 456.01,603.86 456.33,605.51 456.64,603.85 456.95,603.91 457.26,600.21 457.58,604.59 457.89,605.62 458.2,604.34 458.52,605.64 458.83,605.75 459.14,602.17 459.45,605.55 459.77,606.16 460.08,605.96 460.39,605.43 460.71,605 461.02,606.98 461.33,605.89 461.64,605.23 461.96,605.31 462.27,606.46 462.58,605.85 462.9,606.34 463.21,605.9 463.52,605.03 463.83,607.62 464.15,607.61 464.46,606.04 464.77,607.32 465.09,606.98 465.4,607.55 465.71,604.85 466.02,607.04 466.34,606.58 466.65,606.42 466.96,606.63 467.28,605.57 467.59,607.41 467.9,606.36 468.21,607.04 468.53,606.72 468.84,608.38 469.15,606.82 469.47,607.48 469.78,607 470.09,606.98 470.4,607.78 470.72,607.2 471.03,607.63 471.34,606.68 471.66,607.22 471.97,607.94 472.28,606.63 472.59,608.39 472.91,604.69 473.22,607.07 473.53,604.82 473.85,606.7 474.16,607.36 474.47,605.52 474.78,608.18 475.1,607.71 475.41,607.98 475.72,607.47 476.03,606.99 476.35,607.02 476.66,608.33 476.97,606.51 477.29,608.02 477.6,607.56 477.91,607.04 478.22,607.6 478.54,607.26 478.85,606.99 479.16,607.22 479.48,603.48 479.79,608.19 480.1,606.54 480.41,604.89 480.73,608.33 481.04,606.87 481.35,602.24 481.67,607.43 481.98,607.78 482.29,607.75 482.6,607.6 482.92,608.46 483.23,606.61 483.54,608.1 483.86,608.32 484.17,607.33 484.48,608.39 484.79,606.9 485.11,606.51 485.42,608.46 485.73,606.97 486.05,606.53 486.36,608.29 486.67,608.12 486.98,608.25 487.3,607.89 487.61,606.59 487.92,607.17 488.24,607.54 488.55,607.52 488.86,607.2 489.17,607.86 489.49,607.76 489.8,607.55 490.11,606.31 490.43,607.22 490.74,608.31 491.05,606.49 491.36,605.07 491.68,608.44 491.99,607.47 492.3,606.44 492.62,606.45 492.93,607.8 493.24,607.37 493.55,608.47 493.87,607.09 494.18,607.86 494.49,607.45 494.8,607.21 495.12,606.27 495.43,606.46 495.74,606.88 496.06,608.47 496.37,607.51 496.68,608.03 496.99,606.45 497.31,606.46 497.62,608.37 497.93,607.21 498.25,607.15 498.56,607.29 498.87,606.59 499.18,607.5 499.5,606.47 499.81,607.74 500.12,607.17 500.44,606.44 500.75,608.24 501.06,607.87 501.37,607.17 501.69,606.23 502,607.26" fill="none" stroke="#a50b38" stroke-width="1.7" stroke-linejoin="round" stroke-dasharray="3.4 1.8 1.4 1.8 1.4 1.8"/>
<polyline points="314.3,608.5 314.61,608.5 314.93,608.5 315.24,608.5 315.55,608.5 315.86,608.5 316.18,608.5 316.49,608.5 316.8,608.5 317.12,608.5 317.43,608.5 317.74,608.5 318.05,608.5 318.37,608.5 318.68,608.5 318.99,608.5 319.31,608.5 319.62,608.5 319.93,608.5 320.24,608.5 320.56,608.5 320.87,608.5 321.18,608.5 321.5,608.5 321.81,608.5 322.12,608.5 322.43,608.5 322.75,608.5 323.06,608.5 323.37,608.5 323.69,608.5 324,608.5 324.31,608.5 324.62,608.5 324.94,608.5 325.25,608.5 325.56,608.5 325.87,608.5 326.19,608.5 326.5,608.5 326.81,608.5 327.13,608.5 327.44,608.5 327.75,608.5 328.06,608.5 328.38,608.5 328.69,608.5 329,608.5 329.32,608.5 329.63,608.5 329.94,608.5 330.25,608.5 330.57,608.5 330.88,608.5 331.19,608.5 331.51,608.5 331.82,608.5 332.13,608.5 332.44,608.5 332.76,608.5 333.07,608.5 333.38,608.5 333.7,608.5 334.01,608.5 334.32,608.5 334.63,608.5 334.95,608.5 335.26,608.5 335.57,608.5 335.89,608.5 336.2,608.5 336.51,608.5 336.82,608.5 337.14,608.5 337.45,608.5 337.76,608.5 338.08,608.5 338.39,608.5 338.7,608.5 339.01,608.5 339.33,608.5 339.64,608.5 339.95,608.5 340.27,608.5 340.58,608.5 340.89,608.5 341.2,608.5 341.52,608.5 341.83,608.5 342.14,608.5 342.45,608.5 342.77,608.5 343.08,608.5 343.39,608.5 343.71,608.5 344.02,608.31 344.33,608.03 344.64,608.04 344.96,608.5 345.27,607.64 345.58,607.8 345.9,606.75 346.21,605.86 346.52,605.6 346.83,604.59 347.15,604.58 347.46,604.2 347.77,603.51 348.09,602.9 348.4,602.2 348.71,601.82 349.02,600.45 349.34,600.69 349.65,599.59 349.96,599.01 350.28,598.02 350.59,597.66 350.9,596.91 351.21,595.99 351.53,595.18 351.84,594.73 352.15,594.09 352.47,593.24 352.78,592.71 353.09,592.45 353.4,591.6 353.72,590.54 354.03,589.57 354.34,589.4 354.66,588.25 354.97,587.45 355.28,587.43 355.59,585.96 355.91,585.64 356.22,584.92 356.53,584.12 356.85,583.49 357.16,582.41 357.47,582.08 357.78,581.32 358.1,580.58 358.41,579.75 358.72,578.49 359.04,578.27 359.35,577.78 359.66,576.24 359.97,575.88 360.29,575.22 360.6,574.02 360.91,573.08 361.23,572.6 361.54,572.15 361.85,571.14 362.16,570.13 362.48,570.15 362.79,568.83 363.1,567.88 363.41,567.39 363.73,566.42 364.04,565.4 364.35,565 364.67,564.02 364.98,563.81 365.29,562.37 365.6,561.84 365.92,561.33 366.23,559.91 366.54,559.65 366.86,559.04 367.17,558.38 367.48,557.25 367.79,556.47 368.11,555.98 368.42,554.78 368.73,554.02 369.05,553.7 369.36,552.54 369.67,552.09 369.98,550.97 370.3,550.02 370.61,549.33 370.92,549.21 371.24,547.82 371.55,547.63 371.86,546.71 372.17,545.42 372.49,544.7 372.8,544.58 373.11,543.39 373.43,542.87 373.74,542.17 374.05,541.37 374.36,540.13 374.68,540.33 374.99,539.64 375.3,538.99 375.62,538.35 375.93,537.39 376.24,536.96 376.55,536.47 376.87,535.3 377.18,535.35 377.49,534.72 377.81,534.37 378.12,533.76 378.43,533.48 378.74,532.44 379.06,531.71 379.37,531.9 379.68,531.09 380,530.44 380.31,530.67 380.62,529.91 380.93,530.45 381.25,529.8 381.56,529.51 381.87,530.2 382.18,530.07 382.5,529.88 382.81,529.83 383.12,529.74 383.44,529.42 383.75,529.06 384.06,529.44 384.37,529.38 384.69,529.9 385,528.92 385.31,528.95 385.63,529.71 385.94,529.14 386.25,529.29 386.56,528.95 386.88,529.56 387.19,529.71 387.5,529.53 387.82,528.87 388.13,529.23 388.44,529.31 388.75,529.25 389.07,529.91 389.38,529.9 389.69,529.85 390.01,530.2 390.32,530.32 390.63,529.44 390.94,530.11 391.26,530.17 391.57,530.04 391.88,530.39 392.2,530.44 392.51,530.11 392.82,530.2 393.13,530.59 393.45,531.05 393.76,530.68 394.07,530.95 394.39,531.22 394.7,530.86 395.01,531.14 395.32,531.44 395.64,531.79 395.95,531.94 396.26,531.65 396.58,531.97 396.89,532.44 397.2,532.76 397.51,532.67 397.83,533.25 398.14,532.97 398.45,533.06 398.76,533.58 399.08,533.33 399.39,533.53 399.7,534.18 400.02,534.11 400.33,534.8 400.64,534.82 400.95,534.56 401.27,535.08 401.58,534.62 401.89,535.28 402.21,535.65 402.52,535.37 402.83,536.11 403.14,536.53 403.46,536.51 403.77,537.3 404.08,537.04 404.4,537.95 404.71,538.09 405.02,537.77 405.33,538.72 405.65,538.79 405.96,539.73 406.27,539.84 406.59,540.03 406.9,540.67 407.21,540.76 407.52,541.82 407.84,542.06 408.15,542.37 408.46,542.44 408.78,542.78 409.09,543.3 409.4,543.9 409.71,544.84 410.03,544.69 410.34,545.96 410.65,545.79 410.97,546.98 411.28,547.2 411.59,547.8 411.9,548.59 412.22,548.37 412.53,548.81 412.84,549.96 413.16,550.08 413.47,550.34 413.78,551.05 414.09,552 414.41,552.8 414.72,553.35 415.03,554.1 415.35,554.09 415.66,554.66 415.97,555.6 416.28,555.76 416.6,556.42 416.91,556.95 417.22,557.96 417.54,558.61 417.85,559.01 418.16,560.11 418.47,560.15 418.79,561.21 419.1,561.32 419.41,562.19 419.72,563.01 420.04,563.33 420.35,563.79 420.66,564.78 420.98,565.27 421.29,565.75 421.6,566.41 421.91,566.46 422.23,567.81 422.54,568.31 422.85,568.96 423.17,569.41 423.48,569.63 423.79,570.73 424.1,570.51 424.42,571.75 424.73,572.43 425.04,572.78 425.36,572.78 425.67,574.21 425.98,574.72 426.29,574.42 426.61,575.04 426.92,575.82 427.23,576.58 427.55,576.97 427.86,577.33 428.17,578.08 428.48,578.99 428.8,579.12 429.11,579.6 429.42,580.11 429.74,580.91 430.05,581.34 430.36,581.15 430.67,582.27 430.99,582.82 431.3,582.89 431.61,583.58 431.93,583.33 432.24,584.39 432.55,584.44 432.86,584.74 433.18,585.39 433.49,585.62 433.8,585.94 434.12,586.74 434.43,587.39 434.74,587.47 435.05,587.65 435.37,587.95 435.68,588.41 435.99,589.23 436.31,589.2 436.62,589.67 436.93,589.93 437.24,590.38 437.56,590.54 437.87,590.99 438.18,590.63 438.49,590.86 438.81,591.47 439.12,591.85 439.43,592.01 439.75,592.55 440.06,592.88 440.37,593.67 440.68,593.33 441,591.36 441.31,594 441.62,594.02 441.94,593.85 442.25,594.68 442.56,595.26 442.87,594.34 443.19,595.54 443.5,593.79 443.81,595.08 444.13,593.5 444.44,596.19 444.75,596.15 445.06,595.93 445.38,597.43 445.69,596.87 446,597.83 446.32,597.55 446.63,598.01 446.94,597.88 447.25,598.39 447.57,596.4 447.88,598.24 448.19,598.87 448.51,599.71 448.82,598.83 449.13,598.9 449.44,599.06 449.76,599.3 450.07,600.85 450.38,600.57 450.7,599.93 451.01,601.28 451.32,596.04 451.63,601.44 451.95,600.75 452.26,602.26 452.57,602.72 452.89,601.4 453.2,602.25 453.51,601.97 453.82,603.5 454.14,603.02 454.45,602.88 454.76,604.26 455.07,604.36 455.39,602.65 455.7,604.76 456.01,604.27 456.33,604.03 456.64,603.81 456.95,603.78 457.26,605.13 457.58,604.96 457.89,605.72 458.2,604.47 458.52,605.4 458.83,604.8 459.14,605.72 459.45,604.54 459.77,602.32 460.08,606.07 460.39,606.57 460.71,606.83 461.02,605.39 461.33,606.23 461.64,605.23 461.96,605.81 462.27,606.37 462.58,606.76 462.9,607.09 463.21,606.77 463.52,602.37 463.83,605.81 464.15,606.18 464.46,607.23 464.77,607.13 465.09,607.54 465.4,606.48 465.71,606.76 466.02,606.76 466.34,608.02 466.65,606.76 466.96,607.65 467.28,606.38 467.59,607.73 467.9,607.12 468.21,608.22 468.53,606.72 468.84,606.92 469.15,607.18 469.47,607.56 469.78,607.99 470.09,607.48 470.4,606.58 470.72,601.09 471.03,607.64 471.34,603.07 471.66,607.24 471.97,607.34 472.28,608.44 472.59,606.83 472.91,607.7 473.22,607.18 473.53,608.22 473.85,608.44 474.16,606.78 474.47,607.91 474.78,607.08 475.1,607.99 475.41,606.48 475.72,607.82 476.03,606.87 476.35,607.34 476.66,608.11 476.97,608.26 477.29,606.97 477.6,606.46 477.91,604 478.22,608.08 478.54,606.72 478.85,607.32 479.16,607.28 479.48,607.51 479.79,607.04 480.1,606.63 480.41,606.94 480.73,607.93 481.04,607.22 481.35,606.62 481.67,607.99 481.98,606.94 482.29,607.08 482.6,605 482.92,607.25 483.23,607.57 483.54,607.15 483.86,606.63 484.17,607.4 484.48,608.04 484.79,608.38 485.11,608.41 485.42,607.99 485.73,606.75 486.05,607.46 486.36,606.72 486.67,602.97 486.98,607.25 487.3,606.73 487.61,607.08 487.92,607.85 488.24,607.07 488.55,606.52 488.86,608.49 489.17,608.42 489.49,608.22 489.8,604.34 490.11,606.81 490.43,604.76 490.74,606.48 491.05,608.28 491.36,608.49 491.68,607.03 491.99,606.5 492.3,608.1 492.62,606.81 492.93,607.95 493.24,608.2 493.55,608.03 493.87,607.75 494.18,608.15 494.49,606.71 494.8,606.5 495.12,606.38 495.43,608.25 495.74,604.12 496.06,606.59 496.37,606.43 496.68,607.05 496.99,607.12 497.31,608.44 497.62,601.38 497.93,607.81 498.25,606.99 498.56,606.69 498.87,607.82 499.18,606.27 499.5,607.51 499.81,606.84 500.12,607.36 500.44,605.64 500.75,607.29 501.06,607.11 501.37,607.12 501.69,604.24 502,602.43" fill="none" stroke="#a50b38" stroke-width="1.7" stroke-linejoin="round" stroke-dasharray="1.6 1.8"/>
</g>
<rect x="314.4" y="40" width="187.6" height="125.4" fill="none" stroke="#000" stroke-width="1.8"/>
<path d="M309.6 165.4H314.4M309.6 140.32H314.4M309.6 115.24H314.4M309.6 90.16H314.4M309.6 65.08H314.4M309.6 40H314.4" stroke="#000" stroke-width="1.8" fill="none"/>
<text transform="translate(305.98 169.1) scale(1.12 1)" text-anchor="end" font-size="10.2" letter-spacing="0.7" fill="#222">0</text>
<text transform="translate(305.98 144.02) scale(1.12 1)" text-anchor="end" font-size="10.2" letter-spacing="0.7" fill="#222">25</text>
<text transform="translate(305.98 118.94) scale(1.12 1)" text-anchor="end" font-size="10.2" letter-spacing="0.7" fill="#222">50</text>
<text transform="translate(305.98 93.86) scale(1.12 1)" text-anchor="end" font-size="10.2" letter-spacing="0.7" fill="#222">75</text>
<text transform="translate(305.98 68.78) scale(1.12 1)" text-anchor="end" font-size="10.2" letter-spacing="0.7" fill="#222">100</text>
<text transform="translate(305.98 43.7) scale(1.12 1)" text-anchor="end" font-size="10.2" letter-spacing="0.7" fill="#222">125</text>
<path d="M314.4 165.4V170.2M345.67 165.4V170.2M376.93 165.4V170.2M408.2 165.4V170.2M439.47 165.4V170.2M470.73 165.4V170.2M502 165.4V170.2" stroke="#000" stroke-width="1.8" fill="none"/>
<text transform="translate(314.79 185) scale(1.12 1)" text-anchor="middle" font-size="10.2" letter-spacing="0.7" fill="#222">0</text>
<text transform="translate(346.06 185) scale(1.12 1)" text-anchor="middle" font-size="10.2" letter-spacing="0.7" fill="#222">15</text>
<text transform="translate(377.33 185) scale(1.12 1)" text-anchor="middle" font-size="10.2" letter-spacing="0.7" fill="#222">30</text>
<text transform="translate(408.59 185) scale(1.12 1)" text-anchor="middle" font-size="10.2" letter-spacing="0.7" fill="#222">45</text>
<text transform="translate(439.86 185) scale(1.12 1)" text-anchor="middle" font-size="10.2" letter-spacing="0.7" fill="#222">60</text>
<text transform="translate(471.13 185) scale(1.12 1)" text-anchor="middle" font-size="10.2" letter-spacing="0.7" fill="#222">75</text>
<text transform="translate(502.39 185) scale(1.12 1)" text-anchor="middle" font-size="10.2" letter-spacing="0.7" fill="#222">90</text>
<text transform="translate(276.6 103) rotate(-90)" text-anchor="middle" font-size="13" fill="#222" stroke="#222" stroke-width="0.55" textLength="65.5" lengthAdjust="spacingAndGlyphs">Thrombin (nM)</text>
<text x="407.9" y="203.7" text-anchor="middle" font-size="13.6" fill="#222" stroke="#222" stroke-width="0.55" textLength="46.8" lengthAdjust="spacingAndGlyphs">Time (min)</text>
<text transform="translate(264.6 24.3) scale(1.07 1)" font-size="17.2" font-weight="bold" fill="#000">B</text>
<text transform="translate(316.8 52.6) scale(1.0 1)" font-size="10.6" fill="#222">TFPI&#945;</text>
<rect x="60.2" y="261.2" width="187.3" height="125.4" fill="none" stroke="#000" stroke-width="1.8"/>
<path d="M55.4 386.6H60.2M55.4 361.52H60.2M55.4 336.44H60.2M55.4 311.36H60.2M55.4 286.28H60.2M55.4 261.2H60.2" stroke="#000" stroke-width="1.8" fill="none"/>
<text transform="translate(51.78 390.3) scale(1.12 1)" text-anchor="end" font-size="10.2" letter-spacing="0.7" fill="#222">0</text>
<text transform="translate(51.78 365.22) scale(1.12 1)" text-anchor="end" font-size="10.2" letter-spacing="0.7" fill="#222">25</text>
<text transform="translate(51.78 340.14) scale(1.12 1)" text-anchor="end" font-size="10.2" letter-spacing="0.7" fill="#222">50</text>
<text transform="translate(51.78 315.06) scale(1.12 1)" text-anchor="end" font-size="10.2" letter-spacing="0.7" fill="#222">75</text>
<text transform="translate(51.78 289.98) scale(1.12 1)" text-anchor="end" font-size="10.2" letter-spacing="0.7" fill="#222">100</text>
<text transform="translate(51.78 264.9) scale(1.12 1)" text-anchor="end" font-size="10.2" letter-spacing="0.7" fill="#222">125</text>
<path d="M60.2 386.6V391.4M91.42 386.6V391.4M122.63 386.6V391.4M153.85 386.6V391.4M185.07 386.6V391.4M216.28 386.6V391.4M247.5 386.6V391.4" stroke="#000" stroke-width="1.8" fill="none"/>
<text transform="translate(60.59 406.2) scale(1.12 1)" text-anchor="middle" font-size="10.2" letter-spacing="0.7" fill="#222">0</text>
<text transform="translate(91.81 406.2) scale(1.12 1)" text-anchor="middle" font-size="10.2" letter-spacing="0.7" fill="#222">15</text>
<text transform="translate(123.03 406.2) scale(1.12 1)" text-anchor="middle" font-size="10.2" letter-spacing="0.7" fill="#222">30</text>
<text transform="translate(154.24 406.2) scale(1.12 1)" text-anchor="middle" font-size="10.2" letter-spacing="0.7" fill="#222">45</text>
<text transform="translate(185.46 406.2) scale(1.12 1)" text-anchor="middle" font-size="10.2" letter-spacing="0.7" fill="#222">60</text>
<text transform="translate(216.68 406.2) scale(1.12 1)" text-anchor="middle" font-size="10.2" letter-spacing="0.7" fill="#222">75</text>
<text transform="translate(247.89 406.2) scale(1.12 1)" text-anchor="middle" font-size="10.2" letter-spacing="0.7" fill="#222">90</text>
<text transform="translate(22.4 324.2) rotate(-90)" text-anchor="middle" font-size="13" fill="#222" stroke="#222" stroke-width="0.55" textLength="65.5" lengthAdjust="spacingAndGlyphs">Thrombin (nM)</text>
<text x="153.55" y="424.9" text-anchor="middle" font-size="13.6" fill="#222" stroke="#222" stroke-width="0.55" textLength="46.8" lengthAdjust="spacingAndGlyphs">Time (min)</text>
<text transform="translate(9.6 245.4) scale(1.07 1)" font-size="17.2" font-weight="bold" fill="#000">C</text>
<text transform="translate(114 275.7) scale(1.0 1)" font-size="10.6" fill="#222">TFPI&#916;K2</text>
<rect x="314.3" y="261" width="188.1" height="125.6" fill="none" stroke="#000" stroke-width="1.8"/>
<path d="M309.5 386.6H314.3M309.5 361.48H314.3M309.5 336.36H314.3M309.5 311.24H314.3M309.5 286.12H314.3M309.5 261H314.3" stroke="#000" stroke-width="1.8" fill="none"/>
<text transform="translate(305.88 390.3) scale(1.12 1)" text-anchor="end" font-size="10.2" letter-spacing="0.7" fill="#222">0</text>
<text transform="translate(305.88 365.18) scale(1.12 1)" text-anchor="end" font-size="10.2" letter-spacing="0.7" fill="#222">10</text>
<text transform="translate(305.88 340.06) scale(1.12 1)" text-anchor="end" font-size="10.2" letter-spacing="0.7" fill="#222">20</text>
<text transform="translate(305.88 314.94) scale(1.12 1)" text-anchor="end" font-size="10.2" letter-spacing="0.7" fill="#222">30</text>
<text transform="translate(305.88 289.82) scale(1.12 1)" text-anchor="end" font-size="10.2" letter-spacing="0.7" fill="#222">40</text>
<text transform="translate(305.88 264.7) scale(1.12 1)" text-anchor="end" font-size="10.2" letter-spacing="0.7" fill="#222">50</text>
<path d="M314.3 386.6V391.4M345.65 386.6V391.4M377 386.6V391.4M408.35 386.6V391.4M439.7 386.6V391.4M471.05 386.6V391.4M502.4 386.6V391.4" stroke="#000" stroke-width="1.8" fill="none"/>
<text transform="translate(314.69 406.2) scale(1.12 1)" text-anchor="middle" font-size="10.2" letter-spacing="0.7" fill="#222">0</text>
<text transform="translate(346.04 406.2) scale(1.12 1)" text-anchor="middle" font-size="10.2" letter-spacing="0.7" fill="#222">15</text>
<text transform="translate(377.39 406.2) scale(1.12 1)" text-anchor="middle" font-size="10.2" letter-spacing="0.7" fill="#222">30</text>
<text transform="translate(408.74 406.2) scale(1.12 1)" text-anchor="middle" font-size="10.2" letter-spacing="0.7" fill="#222">45</text>
<text transform="translate(440.09 406.2) scale(1.12 1)" text-anchor="middle" font-size="10.2" letter-spacing="0.7" fill="#222">60</text>
<text transform="translate(471.44 406.2) scale(1.12 1)" text-anchor="middle" font-size="10.2" letter-spacing="0.7" fill="#222">75</text>
<text transform="translate(502.79 406.2) scale(1.12 1)" text-anchor="middle" font-size="10.2" letter-spacing="0.7" fill="#222">90</text>
<text transform="translate(282.6 324.1) rotate(-90)" text-anchor="middle" font-size="13" fill="#222" stroke="#222" stroke-width="0.55" textLength="65.5" lengthAdjust="spacingAndGlyphs">Thrombin (nM)</text>
<text x="408.05" y="424.9" text-anchor="middle" font-size="13.6" fill="#222" stroke="#222" stroke-width="0.55" textLength="46.8" lengthAdjust="spacingAndGlyphs">Time (min)</text>
<text transform="translate(264.1 245.2) scale(1.07 1)" font-size="17.2" font-weight="bold" fill="#000">D</text>
<text transform="translate(321 272.7) scale(1.0 1)" font-size="10.6" fill="#222">TFPI&#945;</text>
<rect x="60.2" y="482.4" width="187.8" height="126.1" fill="none" stroke="#000" stroke-width="1.8"/>
<path d="M55.4 608.5H60.2M55.4 583.28H60.2M55.4 558.06H60.2M55.4 532.84H60.2M55.4 507.62H60.2M55.4 482.4H60.2" stroke="#000" stroke-width="1.8" fill="none"/>
<text transform="translate(51.78 612.2) scale(1.12 1)" text-anchor="end" font-size="10.2" letter-spacing="0.7" fill="#222">0</text>
<text transform="translate(51.78 586.98) scale(1.12 1)" text-anchor="end" font-size="10.2" letter-spacing="0.7" fill="#222">10</text>
<text transform="translate(51.78 561.76) scale(1.12 1)" text-anchor="end" font-size="10.2" letter-spacing="0.7" fill="#222">20</text>
<text transform="translate(51.78 536.54) scale(1.12 1)" text-anchor="end" font-size="10.2" letter-spacing="0.7" fill="#222">30</text>
<text transform="translate(51.78 511.32) scale(1.12 1)" text-anchor="end" font-size="10.2" letter-spacing="0.7" fill="#222">40</text>
<text transform="translate(51.78 486.1) scale(1.12 1)" text-anchor="end" font-size="10.2" letter-spacing="0.7" fill="#222">50</text>
<path d="M60.2 608.5V613.3M91.5 608.5V613.3M122.8 608.5V613.3M154.1 608.5V613.3M185.4 608.5V613.3M216.7 608.5V613.3M248 608.5V613.3" stroke="#000" stroke-width="1.8" fill="none"/>
<text transform="translate(60.59 628.1) scale(1.12 1)" text-anchor="middle" font-size="10.2" letter-spacing="0.7" fill="#222">0</text>
<text transform="translate(91.89 628.1) scale(1.12 1)" text-anchor="middle" font-size="10.2" letter-spacing="0.7" fill="#222">15</text>
<text transform="translate(123.19 628.1) scale(1.12 1)" text-anchor="middle" font-size="10.2" letter-spacing="0.7" fill="#222">30</text>
<text transform="translate(154.49 628.1) scale(1.12 1)" text-anchor="middle" font-size="10.2" letter-spacing="0.7" fill="#222">45</text>
<text transform="translate(185.79 628.1) scale(1.12 1)" text-anchor="middle" font-size="10.2" letter-spacing="0.7" fill="#222">60</text>
<text transform="translate(217.09 628.1) scale(1.12 1)" text-anchor="middle" font-size="10.2" letter-spacing="0.7" fill="#222">75</text>
<text transform="translate(248.39 628.1) scale(1.12 1)" text-anchor="middle" font-size="10.2" letter-spacing="0.7" fill="#222">90</text>
<text transform="translate(29 545.75) rotate(-90)" text-anchor="middle" font-size="13" fill="#222" stroke="#222" stroke-width="0.55" textLength="65.5" lengthAdjust="spacingAndGlyphs">Thrombin (nM)</text>
<text x="153.8" y="646.8" text-anchor="middle" font-size="13.6" fill="#222" stroke="#222" stroke-width="0.55" textLength="46.8" lengthAdjust="spacingAndGlyphs">Time (min)</text>
<text transform="translate(9.6 467.2) scale(1.07 1)" font-size="17.2" font-weight="bold" fill="#000">E</text>
<text transform="translate(64.7 497.5) scale(1.0 1)" font-size="10.6" fill="#222">TFPI&#916;K2</text>
<rect x="314.3" y="482.4" width="187.7" height="126.1" fill="none" stroke="#000" stroke-width="1.8"/>
<path d="M309.5 608.5H314.3M309.5 583.28H314.3M309.5 558.06H314.3M309.5 532.84H314.3M309.5 507.62H314.3M309.5 482.4H314.3" stroke="#000" stroke-width="1.8" fill="none"/>
<text transform="translate(305.88 612.2) scale(1.12 1)" text-anchor="end" font-size="10.2" letter-spacing="0.7" fill="#222">0</text>
<text transform="translate(305.88 586.98) scale(1.12 1)" text-anchor="end" font-size="10.2" letter-spacing="0.7" fill="#222">10</text>
<text transform="translate(305.88 561.76) scale(1.12 1)" text-anchor="end" font-size="10.2" letter-spacing="0.7" fill="#222">20</text>
<text transform="translate(305.88 536.54) scale(1.12 1)" text-anchor="end" font-size="10.2" letter-spacing="0.7" fill="#222">30</text>
<text transform="translate(305.88 511.32) scale(1.12 1)" text-anchor="end" font-size="10.2" letter-spacing="0.7" fill="#222">40</text>
<text transform="translate(305.88 486.1) scale(1.12 1)" text-anchor="end" font-size="10.2" letter-spacing="0.7" fill="#222">50</text>
<path d="M314.3 608.5V613.3M345.58 608.5V613.3M376.87 608.5V613.3M408.15 608.5V613.3M439.43 608.5V613.3M470.72 608.5V613.3M502 608.5V613.3" stroke="#000" stroke-width="1.8" fill="none"/>
<text transform="translate(314.69 628.1) scale(1.12 1)" text-anchor="middle" font-size="10.2" letter-spacing="0.7" fill="#222">0</text>
<text transform="translate(345.98 628.1) scale(1.12 1)" text-anchor="middle" font-size="10.2" letter-spacing="0.7" fill="#222">15</text>
<text transform="translate(377.26 628.1) scale(1.12 1)" text-anchor="middle" font-size="10.2" letter-spacing="0.7" fill="#222">30</text>
<text transform="translate(408.54 628.1) scale(1.12 1)" text-anchor="middle" font-size="10.2" letter-spacing="0.7" fill="#222">45</text>
<text transform="translate(439.83 628.1) scale(1.12 1)" text-anchor="middle" font-size="10.2" letter-spacing="0.7" fill="#222">60</text>
<text transform="translate(471.11 628.1) scale(1.12 1)" text-anchor="middle" font-size="10.2" letter-spacing="0.7" fill="#222">75</text>
<text transform="translate(502.39 628.1) scale(1.12 1)" text-anchor="middle" font-size="10.2" letter-spacing="0.7" fill="#222">90</text>
<text transform="translate(282.6 545.75) rotate(-90)" text-anchor="middle" font-size="13" fill="#222" stroke="#222" stroke-width="0.55" textLength="65.5" lengthAdjust="spacingAndGlyphs">Thrombin (nM)</text>
<text x="407.85" y="646.8" text-anchor="middle" font-size="13.6" fill="#222" stroke="#222" stroke-width="0.55" textLength="46.8" lengthAdjust="spacingAndGlyphs">Time (min)</text>
<text transform="translate(264.6 467.2) scale(1.07 1)" font-size="17.2" font-weight="bold" fill="#000">F</text>
<text transform="translate(320.6 494.6) scale(1.1 1)" font-size="10.6" fill="#222">K3C</text>
<line x1="443.9" y1="51.8" x2="457.8" y2="51.8" stroke="#8e1036" stroke-width="2"/>
<text transform="translate(462.6 55.9) scale(1.08 1)" font-size="10.3" fill="#222">0 nM</text>
<line x1="443.9" y1="66.9" x2="457.8" y2="66.9" stroke="#8e1036" stroke-width="2" stroke-dasharray="3.6 2"/>
<text transform="translate(462.6 71) scale(1.08 1)" font-size="10.3" fill="#222">1 nM</text>
<line x1="446.5" y1="82.4" x2="457.8" y2="82.4" stroke="#8e1036" stroke-width="2" stroke-dasharray="3.6 2 1.6 2 1.6 2"/>
<text transform="translate(462.6 86.5) scale(1.08 1)" font-size="10.3" fill="#222">5 nM</text>
<line x1="444.9" y1="97.9" x2="457.8" y2="97.9" stroke="#8e1036" stroke-width="2" stroke-dasharray="1.7 2.0"/>
<text transform="translate(462.6 102) scale(1.08 1)" font-size="10.3" fill="#222">10 nM</text>
<line x1="186.5" y1="271.5" x2="200.7" y2="271.5" stroke="#8e1036" stroke-width="2"/>
<text transform="translate(205 275.6) scale(1.08 1)" font-size="10.3" fill="#222">0 nM</text>
<line x1="186.5" y1="287.1" x2="200.7" y2="287.1" stroke="#8e1036" stroke-width="2" stroke-dasharray="3.6 2"/>
<text transform="translate(205 291.2) scale(1.08 1)" font-size="10.3" fill="#222">1 nM</text>
<line x1="189.1" y1="302.6" x2="200.7" y2="302.6" stroke="#8e1036" stroke-width="2" stroke-dasharray="3.6 2 1.6 2 1.6 2"/>
<text transform="translate(205 306.7) scale(1.08 1)" font-size="10.3" fill="#222">5 nM</text>
<line x1="187.5" y1="318.4" x2="200.7" y2="318.4" stroke="#8e1036" stroke-width="2" stroke-dasharray="1.7 2.0"/>
<text transform="translate(205 322.5) scale(1.08 1)" font-size="10.3" fill="#222">10 nM</text>
<line x1="445.6" y1="271.5" x2="458.9" y2="271.5" stroke="#8e1036" stroke-width="2"/>
<text transform="translate(463.8 275.6) scale(1.08 1)" font-size="10.3" fill="#222">0 nM</text>
<line x1="445.6" y1="287.3" x2="458.9" y2="287.3" stroke="#8e1036" stroke-width="2" stroke-dasharray="3.6 2"/>
<text transform="translate(463.8 291.4) scale(1.08 1)" font-size="10.3" fill="#222">1 nM</text>
<line x1="448.2" y1="302.6" x2="458.9" y2="302.6" stroke="#8e1036" stroke-width="2" stroke-dasharray="3.6 2 1.6 2 1.6 2"/>
<text transform="translate(463.8 306.7) scale(1.08 1)" font-size="10.3" fill="#222">5 nM</text>
<line x1="193.5" y1="496.4" x2="206.7" y2="496.4" stroke="#8e1036" stroke-width="2"/>
<text transform="translate(211.7 500.5) scale(1.08 1)" font-size="10.3" fill="#222">0 nM</text>
<line x1="193.5" y1="512" x2="206.7" y2="512" stroke="#8e1036" stroke-width="2" stroke-dasharray="3.6 2"/>
<text transform="translate(211.7 516.1) scale(1.08 1)" font-size="10.3" fill="#222">1 nM</text>
<line x1="196.1" y1="527.6" x2="206.7" y2="527.6" stroke="#8e1036" stroke-width="2" stroke-dasharray="3.6 2 1.6 2 1.6 2"/>
<text transform="translate(211.7 531.7) scale(1.08 1)" font-size="10.3" fill="#222">5 nM</text>
<line x1="194.5" y1="543.3" x2="206.7" y2="543.3" stroke="#8e1036" stroke-width="2" stroke-dasharray="1.7 2.0"/>
<text transform="translate(211.7 547.4) scale(1.08 1)" font-size="10.3" fill="#222">10 nM</text>
<line x1="444.4" y1="496.4" x2="458.1" y2="496.4" stroke="#8e1036" stroke-width="2"/>
<text transform="translate(463.4 500.5) scale(1.08 1)" font-size="10.3" fill="#222">0 nM</text>
<line x1="444.4" y1="512" x2="458.1" y2="512" stroke="#8e1036" stroke-width="2" stroke-dasharray="3.6 2"/>
<text transform="translate(463.4 516.1) scale(1.08 1)" font-size="10.3" fill="#222">1 nM</text>
<line x1="447" y1="527.6" x2="458.1" y2="527.6" stroke="#8e1036" stroke-width="2" stroke-dasharray="3.6 2 1.6 2 1.6 2"/>
<text transform="translate(463.4 531.7) scale(1.08 1)" font-size="10.3" fill="#222">5 nM</text>
<line x1="445.4" y1="543.3" x2="458.1" y2="543.3" stroke="#8e1036" stroke-width="2" stroke-dasharray="1.7 2.0"/>
<text transform="translate(463.4 547.4) scale(1.08 1)" font-size="10.3" fill="#222">10 nM</text>
</svg>
<div id="bd"></div></div>
</body></html>
